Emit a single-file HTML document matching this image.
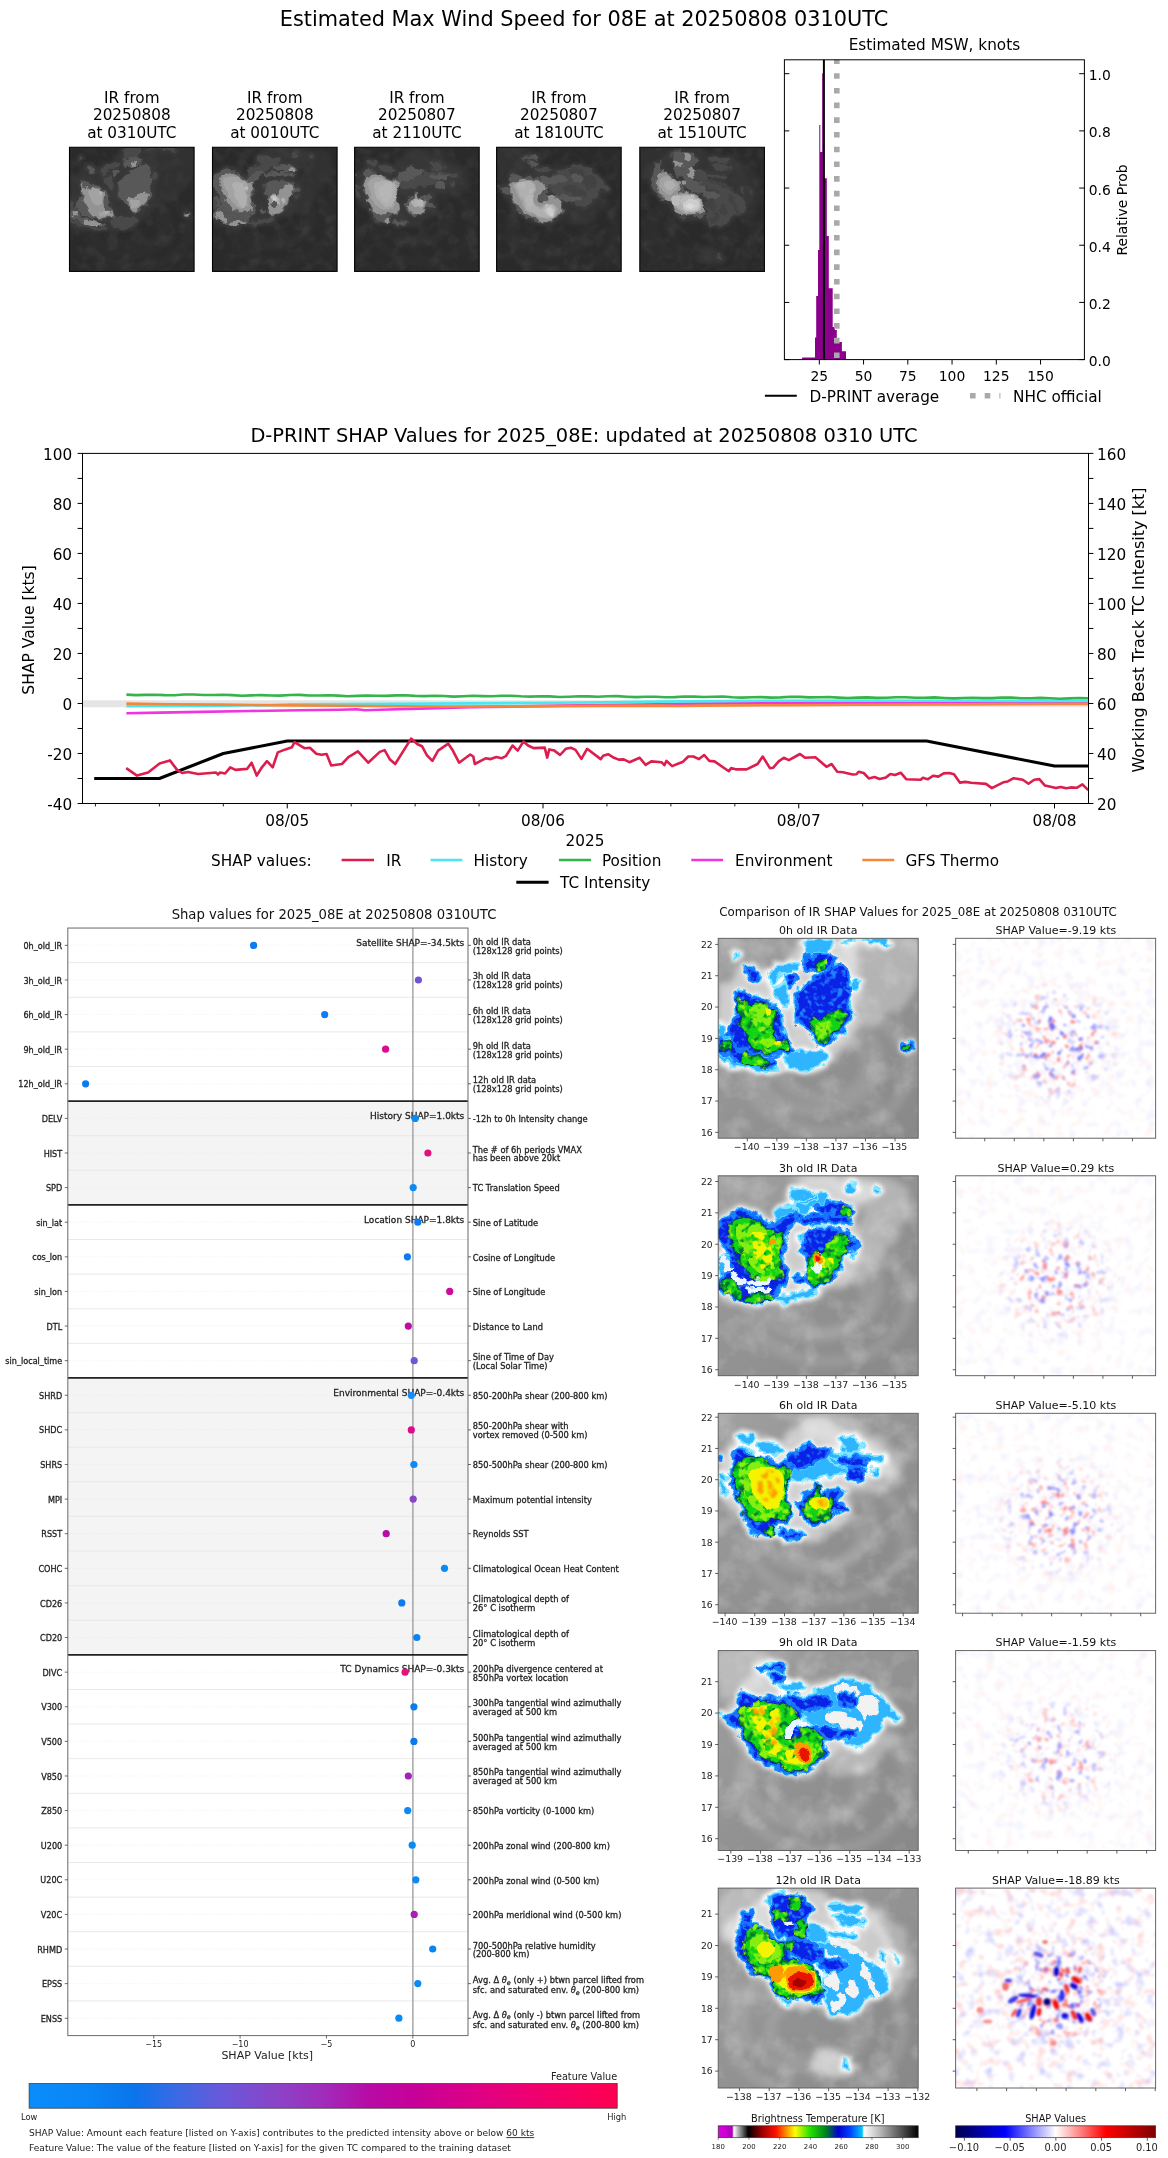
<!DOCTYPE html>
<html><head><meta charset="utf-8"><title>D-PRINT 08E</title>
<style>html,body{margin:0;padding:0;background:#fff}svg{display:block;will-change:transform}text{font-family:'DejaVu Sans','Liberation Sans',sans-serif}</style></head>
<body><svg width="1168" height="2158" viewBox="0 0 1168 2158">
<defs>
<linearGradient id="rbgrad" x1="0" x2="1" y1="0" y2="0">
<stop offset="0" stop-color="#0a8dfb"/><stop offset="0.10" stop-color="#0a85f5"/><stop offset="0.18" stop-color="#0b74ec"/>
<stop offset="0.25" stop-color="#3a6ae4"/><stop offset="0.33" stop-color="#6a58da"/><stop offset="0.42" stop-color="#8a44c8"/>
<stop offset="0.50" stop-color="#a02cba"/><stop offset="0.58" stop-color="#b80aa5"/><stop offset="0.66" stop-color="#c80098"/>
<stop offset="0.75" stop-color="#dc0087"/><stop offset="0.85" stop-color="#ee0070"/><stop offset="1" stop-color="#ff0052"/>
</linearGradient>
<clipPath id="clip200"><rect width="200" height="200"/></clipPath>
<linearGradient id="irbg" x1="0" y1="0" x2="1" y2="1"><stop offset="0" stop-color="#a0a0a0"/><stop offset="0.5" stop-color="#929292"/><stop offset="1" stop-color="#888888"/></linearGradient>
<filter id="tex" x="0" y="0" width="100%" height="100%" color-interpolation-filters="sRGB"><feTurbulence type="fractalNoise" baseFrequency="0.035" numOctaves="4" seed="5"/><feColorMatrix type="matrix" values="0 0 0 0 1  0 0 0 0 1  0 0 0 0 1  2.6 0 0 0 -1.15"/></filter>
<filter id="texg" x="0" y="0" width="100%" height="100%" color-interpolation-filters="sRGB"><feTurbulence type="fractalNoise" baseFrequency="0.05" numOctaves="4" seed="9"/><feColorMatrix type="matrix" values="0 0 0 0 0.32  0 0 0 0 0.32  0 0 0 0 0.32  2.6 0 0 0 -1.15"/></filter>
<filter id="edgeF" x="-10%" y="-10%" width="120%" height="120%" color-interpolation-filters="sRGB"><feTurbulence type="fractalNoise" baseFrequency="0.11" numOctaves="2" seed="3" result="n"/><feDisplacementMap in="SourceGraphic" in2="n" scale="11" xChannelSelector="R" yChannelSelector="G"/><feGaussianBlur stdDeviation="2.2"/></filter>
<filter id="roughb" x="-10%" y="-10%" width="120%" height="120%" color-interpolation-filters="sRGB"><feTurbulence type="fractalNoise" baseFrequency="0.11" numOctaves="2" seed="3" result="n"/><feDisplacementMap in="SourceGraphic" in2="n" scale="11" xChannelSelector="R" yChannelSelector="G"/><feGaussianBlur stdDeviation="0.9"/></filter>
<filter id="rough2b" x="-10%" y="-10%" width="120%" height="120%" color-interpolation-filters="sRGB"><feTurbulence type="fractalNoise" baseFrequency="0.09" numOctaves="2" seed="11" result="n"/><feDisplacementMap in="SourceGraphic" in2="n" scale="7" xChannelSelector="R" yChannelSelector="G"/><feGaussianBlur stdDeviation="1.2"/></filter>
<filter id="blurS" x="-20%" y="-20%" width="140%" height="140%"><feGaussianBlur stdDeviation="0.9"/></filter>
<filter id="blur3" x="-20%" y="-20%" width="140%" height="140%"><feGaussianBlur stdDeviation="3"/></filter>
<filter id="haloF" x="-10%" y="-10%" width="120%" height="120%" color-interpolation-filters="sRGB"><feTurbulence type="fractalNoise" baseFrequency="0.05" numOctaves="2" seed="7" result="n"/><feDisplacementMap in="SourceGraphic" in2="n" scale="14" xChannelSelector="R" yChannelSelector="G"/><feGaussianBlur stdDeviation="3.5"/></filter>
<filter id="rough" x="-10%" y="-10%" width="120%" height="120%" color-interpolation-filters="sRGB"><feTurbulence type="fractalNoise" baseFrequency="0.11" numOctaves="2" seed="3" result="n"/><feDisplacementMap in="SourceGraphic" in2="n" scale="11" xChannelSelector="R" yChannelSelector="G"/></filter>
<filter id="roughB" x="-10%" y="-10%" width="120%" height="120%" color-interpolation-filters="sRGB"><feTurbulence type="fractalNoise" baseFrequency="0.11" numOctaves="2" seed="3" result="n"/><feDisplacementMap in="SourceGraphic" in2="n" scale="11" xChannelSelector="R" yChannelSelector="G" result="d"/><feTurbulence type="fractalNoise" baseFrequency="0.16" numOctaves="2" seed="21"/><feColorMatrix type="matrix" values="0 0 0 0 0.12  0 0 0 0 0.5  0 0 0 0 1  5 0 0 0 -2.55" result="sp"/><feComposite in="sp" in2="d" operator="in" result="sp2"/><feMerge><feMergeNode in="d"/><feMergeNode in="sp2"/></feMerge></filter>
<filter id="roughG" x="-10%" y="-10%" width="120%" height="120%" color-interpolation-filters="sRGB"><feTurbulence type="fractalNoise" baseFrequency="0.11" numOctaves="2" seed="3" result="n"/><feDisplacementMap in="SourceGraphic" in2="n" scale="11" xChannelSelector="R" yChannelSelector="G" result="d"/><feTurbulence type="fractalNoise" baseFrequency="0.14" numOctaves="2" seed="33" result="t"/><feColorMatrix in="t" type="matrix" values="0 0 0 0 0.55  0 0 0 0 0.95  0 0 0 0 0.05  5 0 0 0 -2.5" result="sp"/><feColorMatrix in="t" type="matrix" values="0 0 0 0 0  0 0 0 0 0.45  0 0 0 0 0.2  0 5 0 0 -2.75" result="dk"/><feComposite in="sp" in2="d" operator="in" result="sp2"/><feComposite in="dk" in2="d" operator="in" result="dk2"/><feMerge><feMergeNode in="d"/><feMergeNode in="sp2"/><feMergeNode in="dk2"/></feMerge></filter>
<filter id="roughO" x="-10%" y="-10%" width="120%" height="120%" color-interpolation-filters="sRGB"><feTurbulence type="fractalNoise" baseFrequency="0.09" numOctaves="2" seed="11" result="n"/><feDisplacementMap in="SourceGraphic" in2="n" scale="7" xChannelSelector="R" yChannelSelector="G" result="d"/><feTurbulence type="fractalNoise" baseFrequency="0.2" numOctaves="2" seed="41"/><feColorMatrix type="matrix" values="0 0 0 0 1  0 0 0 0 1  0 0 0 0 1  9 0 0 0 -4.1" result="m"/><feComposite in="d" in2="m" operator="in"/><feGaussianBlur stdDeviation="0.8"/></filter>
<filter id="roughY" x="-10%" y="-10%" width="120%" height="120%" color-interpolation-filters="sRGB"><feTurbulence type="fractalNoise" baseFrequency="0.09" numOctaves="2" seed="11" result="n"/><feDisplacementMap in="SourceGraphic" in2="n" scale="7" xChannelSelector="R" yChannelSelector="G" result="d"/><feTurbulence type="fractalNoise" baseFrequency="0.13" numOctaves="2" seed="57"/><feColorMatrix type="matrix" values="0 0 0 0 1  0 0 0 0 1  0 0 0 0 1  8 0 0 0 -3.1" result="m"/><feComposite in="d" in2="m" operator="in"/><feGaussianBlur stdDeviation="0.6"/></filter>
<filter id="rough2" x="-10%" y="-10%" width="120%" height="120%" color-interpolation-filters="sRGB"><feTurbulence type="fractalNoise" baseFrequency="0.09" numOctaves="2" seed="11" result="n"/><feDisplacementMap in="SourceGraphic" in2="n" scale="7" xChannelSelector="R" yChannelSelector="G"/><feGaussianBlur stdDeviation="0.7"/></filter>
<linearGradient id="btgrad" x1="0" x2="1" y1="0" y2="0">
<stop offset="0" stop-color="#e000e0"/><stop offset="0.07" stop-color="#b000c0"/><stop offset="0.078" stop-color="#ffffff"/><stop offset="0.15" stop-color="#000000"/>
<stop offset="0.22" stop-color="#a00000"/><stop offset="0.29" stop-color="#ff1000"/><stop offset="0.34" stop-color="#ff9000"/><stop offset="0.385" stop-color="#ffff00"/>
<stop offset="0.46" stop-color="#20e000"/><stop offset="0.54" stop-color="#008020"/><stop offset="0.60" stop-color="#0000d0"/><stop offset="0.66" stop-color="#0040ff"/><stop offset="0.72" stop-color="#00c8ff"/>
<stop offset="0.728" stop-color="#ffffff"/><stop offset="0.80" stop-color="#c0c0c0"/><stop offset="1" stop-color="#000000"/></linearGradient>
<linearGradient id="segrad" x1="0" x2="1" y1="0" y2="0">
<stop offset="0" stop-color="#00004c"/><stop offset="0.25" stop-color="#0000ff"/><stop offset="0.5" stop-color="#ffffff"/><stop offset="0.75" stop-color="#ff0000"/><stop offset="1" stop-color="#800000"/></linearGradient>
<radialGradient id="shmaskg" cx="0.51" cy="0.52" r="0.36"><stop offset="0" stop-color="#fff"/><stop offset="0.4" stop-color="#fff" stop-opacity="0.85"/><stop offset="0.7" stop-color="#fff" stop-opacity="0.3"/><stop offset="0.9" stop-color="#fff" stop-opacity="0.06"/><stop offset="1" stop-color="#fff" stop-opacity="0"/></radialGradient>
<mask id="shmask" maskUnits="userSpaceOnUse" x="0" y="0" width="200" height="200"><rect width="200" height="200" fill="url(#shmaskg)"/></mask>

<filter id="sf0r" x="0" y="0" width="100%" height="100%" color-interpolation-filters="sRGB"><feTurbulence type="fractalNoise" baseFrequency="0.1" numOctaves="2" seed="1"/><feColorMatrix type="matrix" values="0 0 0 0 1  0 0 0 0 0.12  0 0 0 0 0.12  3.0 0 0 0 -1.650"/><feGaussianBlur stdDeviation="0.8"/></filter>
<filter id="sf0b" x="0" y="0" width="100%" height="100%" color-interpolation-filters="sRGB"><feTurbulence type="fractalNoise" baseFrequency="0.1" numOctaves="2" seed="51"/><feColorMatrix type="matrix" values="0 0 0 0 0.1  0 0 0 0 0.1  0 0 0 0 1  3.0 0 0 0 -1.650"/><feGaussianBlur stdDeviation="0.8"/></filter>
<filter id="sg0r" x="0" y="0" width="100%" height="100%" color-interpolation-filters="sRGB"><feTurbulence type="fractalNoise" baseFrequency="0.14" numOctaves="2" seed="21"/><feColorMatrix type="matrix" values="0 0 0 0 1  0 0 0 0 0.12  0 0 0 0 0.12  5.5 0 0 0 -3.217"/><feGaussianBlur stdDeviation="0.8"/></filter>
<filter id="sg0b" x="0" y="0" width="100%" height="100%" color-interpolation-filters="sRGB"><feTurbulence type="fractalNoise" baseFrequency="0.14" numOctaves="2" seed="71"/><feColorMatrix type="matrix" values="0 0 0 0 0.1  0 0 0 0 0.1  0 0 0 0 1  5.5 0 0 0 -3.217"/><feGaussianBlur stdDeviation="0.8"/></filter>
<filter id="sf1r" x="0" y="0" width="100%" height="100%" color-interpolation-filters="sRGB"><feTurbulence type="fractalNoise" baseFrequency="0.1" numOctaves="2" seed="2"/><feColorMatrix type="matrix" values="0 0 0 0 1  0 0 0 0 0.12  0 0 0 0 0.12  3.0 0 0 0 -1.650"/><feGaussianBlur stdDeviation="0.8"/></filter>
<filter id="sf1b" x="0" y="0" width="100%" height="100%" color-interpolation-filters="sRGB"><feTurbulence type="fractalNoise" baseFrequency="0.1" numOctaves="2" seed="52"/><feColorMatrix type="matrix" values="0 0 0 0 0.1  0 0 0 0 0.1  0 0 0 0 1  3.0 0 0 0 -1.650"/><feGaussianBlur stdDeviation="0.8"/></filter>
<filter id="sg1r" x="0" y="0" width="100%" height="100%" color-interpolation-filters="sRGB"><feTurbulence type="fractalNoise" baseFrequency="0.14" numOctaves="2" seed="22"/><feColorMatrix type="matrix" values="0 0 0 0 1  0 0 0 0 0.12  0 0 0 0 0.12  5.5 0 0 0 -3.217"/><feGaussianBlur stdDeviation="0.8"/></filter>
<filter id="sg1b" x="0" y="0" width="100%" height="100%" color-interpolation-filters="sRGB"><feTurbulence type="fractalNoise" baseFrequency="0.14" numOctaves="2" seed="72"/><feColorMatrix type="matrix" values="0 0 0 0 0.1  0 0 0 0 0.1  0 0 0 0 1  5.5 0 0 0 -3.217"/><feGaussianBlur stdDeviation="0.8"/></filter>
<filter id="sf2r" x="0" y="0" width="100%" height="100%" color-interpolation-filters="sRGB"><feTurbulence type="fractalNoise" baseFrequency="0.1" numOctaves="2" seed="3"/><feColorMatrix type="matrix" values="0 0 0 0 1  0 0 0 0 0.12  0 0 0 0 0.12  3.0 0 0 0 -1.650"/><feGaussianBlur stdDeviation="0.8"/></filter>
<filter id="sf2b" x="0" y="0" width="100%" height="100%" color-interpolation-filters="sRGB"><feTurbulence type="fractalNoise" baseFrequency="0.1" numOctaves="2" seed="53"/><feColorMatrix type="matrix" values="0 0 0 0 0.1  0 0 0 0 0.1  0 0 0 0 1  3.0 0 0 0 -1.650"/><feGaussianBlur stdDeviation="0.8"/></filter>
<filter id="sg2r" x="0" y="0" width="100%" height="100%" color-interpolation-filters="sRGB"><feTurbulence type="fractalNoise" baseFrequency="0.14" numOctaves="2" seed="23"/><feColorMatrix type="matrix" values="0 0 0 0 1  0 0 0 0 0.12  0 0 0 0 0.12  5.5 0 0 0 -3.217"/><feGaussianBlur stdDeviation="0.8"/></filter>
<filter id="sg2b" x="0" y="0" width="100%" height="100%" color-interpolation-filters="sRGB"><feTurbulence type="fractalNoise" baseFrequency="0.14" numOctaves="2" seed="73"/><feColorMatrix type="matrix" values="0 0 0 0 0.1  0 0 0 0 0.1  0 0 0 0 1  5.5 0 0 0 -3.217"/><feGaussianBlur stdDeviation="0.8"/></filter>
<filter id="sf3r" x="0" y="0" width="100%" height="100%" color-interpolation-filters="sRGB"><feTurbulence type="fractalNoise" baseFrequency="0.1" numOctaves="2" seed="4"/><feColorMatrix type="matrix" values="0 0 0 0 1  0 0 0 0 0.12  0 0 0 0 0.12  3.0 0 0 0 -1.650"/><feGaussianBlur stdDeviation="0.8"/></filter>
<filter id="sf3b" x="0" y="0" width="100%" height="100%" color-interpolation-filters="sRGB"><feTurbulence type="fractalNoise" baseFrequency="0.1" numOctaves="2" seed="54"/><feColorMatrix type="matrix" values="0 0 0 0 0.1  0 0 0 0 0.1  0 0 0 0 1  3.0 0 0 0 -1.650"/><feGaussianBlur stdDeviation="0.8"/></filter>
<filter id="sg3r" x="0" y="0" width="100%" height="100%" color-interpolation-filters="sRGB"><feTurbulence type="fractalNoise" baseFrequency="0.14" numOctaves="2" seed="24"/><feColorMatrix type="matrix" values="0 0 0 0 1  0 0 0 0 0.12  0 0 0 0 0.12  5.5 0 0 0 -3.217"/><feGaussianBlur stdDeviation="0.8"/></filter>
<filter id="sg3b" x="0" y="0" width="100%" height="100%" color-interpolation-filters="sRGB"><feTurbulence type="fractalNoise" baseFrequency="0.14" numOctaves="2" seed="74"/><feColorMatrix type="matrix" values="0 0 0 0 0.1  0 0 0 0 0.1  0 0 0 0 1  5.5 0 0 0 -3.217"/><feGaussianBlur stdDeviation="0.8"/></filter>
<filter id="sf4r" x="0" y="0" width="100%" height="100%" color-interpolation-filters="sRGB"><feTurbulence type="fractalNoise" baseFrequency="0.1" numOctaves="2" seed="5"/><feColorMatrix type="matrix" values="0 0 0 0 1  0 0 0 0 0.12  0 0 0 0 0.12  3.0 0 0 0 -1.650"/><feGaussianBlur stdDeviation="0.8"/></filter>
<filter id="sf4b" x="0" y="0" width="100%" height="100%" color-interpolation-filters="sRGB"><feTurbulence type="fractalNoise" baseFrequency="0.1" numOctaves="2" seed="55"/><feColorMatrix type="matrix" values="0 0 0 0 0.1  0 0 0 0 0.1  0 0 0 0 1  3.0 0 0 0 -1.650"/><feGaussianBlur stdDeviation="0.8"/></filter>
<filter id="sg4r" x="0" y="0" width="100%" height="100%" color-interpolation-filters="sRGB"><feTurbulence type="fractalNoise" baseFrequency="0.14" numOctaves="2" seed="25"/><feColorMatrix type="matrix" values="0 0 0 0 1  0 0 0 0 0.12  0 0 0 0 0.12  5.5 0 0 0 -3.217"/><feGaussianBlur stdDeviation="0.8"/></filter>
<filter id="sg4b" x="0" y="0" width="100%" height="100%" color-interpolation-filters="sRGB"><feTurbulence type="fractalNoise" baseFrequency="0.14" numOctaves="2" seed="75"/><feColorMatrix type="matrix" values="0 0 0 0 0.1  0 0 0 0 0.1  0 0 0 0 1  5.5 0 0 0 -3.217"/><feGaussianBlur stdDeviation="0.8"/></filter>
<filter id="tex0" x="0" y="0" width="100%" height="100%" color-interpolation-filters="sRGB"><feTurbulence type="fractalNoise" baseFrequency="0.04" numOctaves="4" seed="5"/><feColorMatrix type="matrix" values="0 0 0 0 1  0 0 0 0 1  0 0 0 0 1  2.6 0 0 0 -1.15"/></filter>
<filter id="texg0" x="0" y="0" width="100%" height="100%" color-interpolation-filters="sRGB"><feTurbulence type="fractalNoise" baseFrequency="0.05" numOctaves="4" seed="9"/><feColorMatrix type="matrix" values="0 0 0 0 0.32  0 0 0 0 0.32  0 0 0 0 0.32  2.6 0 0 0 -1.15"/></filter>
<g id="scene0c" clip-path="url(#clip200)">
<rect width="200" height="200" fill="url(#irbg)"/>
<rect width="200" height="200" filter="url(#tex0)" opacity="0.2"/>
<ellipse cx="97.7" cy="123.8" rx="62.2" ry="49.0" fill="none" stroke="#fff" stroke-opacity="0.1" stroke-width="12" filter="url(#blur3)"/>
<ellipse cx="105.2" cy="127.6" rx="43.3" ry="32.0" fill="none" stroke="#fff" stroke-opacity="0.1" stroke-width="12" filter="url(#blur3)"/>
<ellipse cx="109.0" cy="131.4" rx="81.0" ry="62.2" fill="none" stroke="#fff" stroke-opacity="0.1" stroke-width="12" filter="url(#blur3)"/>
<path d="M0.7,54.2C3.0,40.7 9.9,44.1 14.8,39.1C19.7,34.1 24.2,25.0 29.9,24.0C35.5,23.1 42.4,33.1 48.7,33.4C55.0,33.7 61.9,30.9 67.5,25.9C73.2,20.9 73.2,7.5 82.6,3.3C92.0,-0.9 110.9,0.9 124.1,0.5C137.2,0.0 153.6,-0.6 161.7,0.5C169.9,1.6 176.2,5.0 173.0,7.1C169.9,9.1 149.2,8.9 142.9,12.7C136.6,16.5 135.4,23.7 135.4,29.7C135.4,35.6 142.9,41.6 142.9,48.5C142.9,55.4 136.0,64.2 135.4,71.1C134.7,78.0 141.0,83.7 139.1,89.9C137.2,96.2 128.4,103.1 124.1,108.8C119.7,114.4 119.0,119.5 112.8,123.8C106.5,128.2 97.1,133.9 86.4,135.1C75.7,136.4 59.7,132.6 48.7,131.4C37.7,130.1 28.5,129.5 20.5,127.6C12.5,125.7 4.0,132.3 0.7,120.1C-2.6,107.8 -1.7,67.7 0.7,54.2Z" fill="#f4f4f4" filter="url(#haloF)" opacity="0.58"/>
<path d="M124.1,0.5C135.4,-11.3 186.8,-7.5 199.4,0.5C212.0,8.5 204.1,35.8 199.4,48.5C194.7,61.2 180.6,69.8 171.1,76.8C161.7,83.7 149.5,90.9 142.9,89.9C136.3,89.0 134.7,86.0 131.6,71.1C128.4,56.2 112.8,12.2 124.1,0.5Z" fill="#f4f4f4" filter="url(#haloF)" opacity="0.34"/>
<path d="M86.4,3.3C87.6,0.8 93.3,1.1 97.7,1.4C102.1,1.7 110.9,2.7 112.8,5.2C114.6,7.7 111.5,13.7 109.0,16.5C106.5,19.3 100.8,22.1 97.7,22.1C94.5,22.1 92.0,19.6 90.1,16.5C88.3,13.3 85.1,5.8 86.4,3.3Z M124.1,3.3C124.7,2.5 134.1,0.9 135.4,1.4C136.6,1.9 133.5,5.8 131.6,6.1C129.7,6.4 123.4,4.1 124.1,3.3Z M142.9,1.4C143.8,0.6 157.0,-0.5 161.7,0.5C166.4,1.4 172.1,6.3 171.1,7.1C170.2,7.8 160.8,6.1 156.1,5.2C151.4,4.2 141.9,2.2 142.9,1.4Z M67.5,116.3C69.7,113.8 75.7,112.9 82.6,112.5C89.5,112.2 104.9,112.5 109.0,114.4C113.1,116.3 109.6,121.3 107.1,123.8C104.6,126.4 98.0,128.1 93.9,129.5C89.8,130.9 86.7,132.6 82.6,132.3C78.5,132.0 71.9,130.3 69.4,127.6C66.9,124.9 65.3,118.8 67.5,116.3Z M0.7,85.2C1.9,84.3 5.7,89.6 8.2,92.8C10.7,95.9 15.3,101.7 15.7,104.1C16.2,106.5 13.5,108.2 11.0,107.3C8.5,106.3 2.4,102.1 0.7,98.4C-1.0,94.7 -0.6,86.2 0.7,85.2Z M2.6,114.4C6.0,115.3 13.1,121.3 22.3,123.8C31.6,126.4 52.3,128.4 58.1,129.9C63.9,131.4 63.5,133.0 57.2,132.9C50.9,132.8 29.7,131.5 20.5,129.1C11.2,126.7 4.6,121.0 1.6,118.6C-1.4,116.1 -0.9,113.5 2.6,114.4Z M48.7,37.2C50.1,34.1 58.4,29.0 63.8,26.8C69.1,24.6 78.5,23.2 80.7,24.0C82.9,24.9 79.8,30.1 77.0,31.9C74.1,33.7 67.4,32.6 63.8,34.9C60.2,37.2 57.8,45.3 55.3,45.7C52.8,46.1 47.3,40.3 48.7,37.2Z M55.3,48.5C56.6,46.6 62.7,44.5 65.3,47.0C67.9,49.4 70.9,59.8 70.9,63.2C70.9,66.6 67.5,68.2 65.3,67.3C63.1,66.5 59.4,61.4 57.8,58.3C56.1,55.2 54.0,50.4 55.3,48.5Z M16.3,15.0C16.5,14.3 19.3,15.5 19.7,16.5C20.1,17.4 19.1,20.9 18.6,20.6C18.0,20.4 16.1,15.7 16.3,15.0Z M131.6,44.7C133.0,43.6 139.8,41.9 141.0,42.9C142.3,43.8 140.5,49.3 139.1,50.4C137.7,51.5 133.8,50.4 132.5,49.4C131.3,48.5 130.2,45.8 131.6,44.7Z M16.7,54.2C18.6,52.3 24.5,54.5 29.9,56.0C35.2,57.6 44.0,61.1 48.7,63.6C53.4,66.1 55.8,67.3 58.1,71.1C60.5,74.9 61.9,81.8 62.8,86.2C63.8,90.6 62.4,93.7 63.8,97.5C65.2,101.2 69.3,106.3 71.3,108.8C73.4,111.3 77.3,111.5 76.0,112.5C74.8,113.5 68.3,114.1 63.8,114.8C59.2,115.5 54.4,116.9 48.7,116.7C43.1,116.5 35.4,115.3 29.9,113.5C24.4,111.7 19.0,109.1 15.7,106.0C12.5,102.8 10.3,98.3 10.1,94.7C9.9,91.0 13.4,88.8 14.8,84.3C16.2,79.7 18.3,72.4 18.6,67.3C18.9,62.3 14.8,56.0 16.7,54.2Z M0.7,100.3C2.4,99.6 7.4,103.0 11.0,105.0C14.6,107.1 17.9,110.4 22.3,112.5C26.7,114.7 32.1,116.2 37.4,117.8C42.7,119.5 51.3,120.6 54.4,122.3C57.4,124.0 58.7,127.6 55.9,128.0C53.0,128.4 43.3,125.9 37.4,125.0C31.5,124.1 25.8,124.5 20.5,122.7C15.1,120.9 8.7,116.3 5.4,114.1C2.1,111.8 1.5,111.4 0.7,109.2C-0.1,106.9 -1.0,101.0 0.7,100.3Z M80.7,54.2C83.9,48.8 92.3,43.2 97.7,39.1C103.0,35.0 108.4,31.4 112.8,29.7C117.1,27.9 121.4,27.5 124.1,28.7C126.7,30.0 127.8,33.9 128.8,37.2C129.7,40.5 129.2,41.9 129.7,48.5C130.2,55.1 132.5,69.5 131.6,76.8C130.6,84.0 127.8,87.4 124.1,91.8C120.3,96.2 112.9,100.8 109.0,103.1C105.1,105.5 103.0,107.5 100.5,106.0C98.0,104.4 96.9,97.0 93.9,93.7C90.9,90.4 85.1,89.9 82.6,86.2C80.1,82.4 79.2,76.4 78.8,71.1C78.5,65.8 77.6,59.5 80.7,54.2Z M28.0,27.8C29.4,27.5 35.4,29.5 37.4,31.6C39.4,33.6 40.7,38.5 40.2,40.0C39.8,41.6 36.5,42.1 34.6,41.0C32.7,39.9 30.0,35.6 28.9,33.4C27.8,31.2 26.6,28.1 28.0,27.8Z M65.7,39.1C66.6,37.4 73.0,36.4 75.1,37.2C77.1,38.0 78.8,42.1 77.9,43.8C77.0,45.5 71.5,48.3 69.4,47.6C67.4,46.8 64.7,40.8 65.7,39.1Z M86.4,22.1C87.0,19.6 89.5,17.4 93.9,16.5C98.3,15.5 109.3,14.9 112.8,16.5C116.2,18.1 115.9,23.7 114.6,25.9C113.4,28.1 109.3,28.7 105.2,29.7C101.1,30.6 93.3,32.8 90.1,31.6C87.0,30.3 85.8,24.6 86.4,22.1Z M193.7,109.2C193.7,110.3 193.2,111.7 192.4,112.5C191.6,113.3 190.1,113.9 189.0,113.9C187.9,113.9 186.5,113.3 185.7,112.5C184.9,111.7 184.3,110.3 184.3,109.2C184.3,108.0 184.9,106.6 185.7,105.8C186.5,105.0 187.9,104.4 189.0,104.4C190.1,104.4 191.6,105.0 192.4,105.8C193.2,106.6 193.7,108.0 193.7,109.2Z M20.5,61.7C22.3,60.4 27.4,64.8 31.8,65.5C36.2,66.1 42.9,64.2 46.8,65.5C50.8,66.7 54.0,68.9 55.3,73.0C56.6,77.1 53.9,85.5 54.4,89.9C54.8,94.3 55.6,96.4 58.1,99.4C60.6,102.3 70.1,105.5 69.4,107.8C68.8,110.2 59.7,112.7 54.4,113.5C49.0,114.3 41.5,114.6 37.4,112.5C33.3,110.5 32.4,105.6 29.9,101.2C27.4,96.8 23.9,90.9 22.3,86.2C20.8,81.5 20.8,77.1 20.5,73.0C20.1,68.9 18.6,62.9 20.5,61.7Z M23.3,117.3C24.9,116.2 31.3,117.3 35.5,118.2C39.8,119.1 46.8,121.5 48.7,122.9C50.6,124.3 50.6,126.4 46.8,126.7C43.1,127.0 30.0,126.4 26.1,124.8C22.2,123.2 21.7,118.4 23.3,117.3Z M3.5,103.1C4.4,102.5 9.5,103.4 11.0,105.0C12.6,106.6 13.9,111.9 12.9,112.5C12.0,113.2 7.0,110.3 5.4,108.8C3.8,107.2 2.6,103.8 3.5,103.1Z M93.9,80.5C95.5,79.0 101.8,83.3 105.2,82.4C108.7,81.5 111.3,76.4 114.6,74.9C117.9,73.3 123.4,71.1 125.0,73.0C126.6,74.9 126.1,82.1 124.1,86.2C122.0,90.3 116.7,94.8 112.8,97.5C108.8,100.1 103.3,103.1 100.5,102.2C97.7,101.2 96.9,95.4 95.8,91.8C94.7,88.2 92.3,82.1 93.9,80.5Z M97.7,24.0C99.1,22.9 105.8,21.5 107.1,22.1C108.4,22.8 106.6,26.7 105.2,27.8C103.8,28.9 99.9,29.4 98.6,28.7C97.4,28.1 96.3,25.1 97.7,24.0Z M191.9,109.2C191.9,109.8 191.5,110.7 191.0,111.2C190.6,111.6 189.7,112.0 189.0,112.0C188.4,112.0 187.5,111.6 187.0,111.2C186.6,110.7 186.2,109.8 186.2,109.2C186.2,108.5 186.6,107.6 187.0,107.2C187.5,106.7 188.4,106.3 189.0,106.3C189.7,106.3 190.6,106.7 191.0,107.2C191.5,107.6 191.9,108.5 191.9,109.2Z" fill="#ffffff" stroke="#ffffff" stroke-width="6.5" stroke-linejoin="round" filter="url(#edgeF)" opacity="0.95"/>
<g filter="url(#rough)"><path d="M86.4,3.3C87.6,0.8 93.3,1.1 97.7,1.4C102.1,1.7 110.9,2.7 112.8,5.2C114.6,7.7 111.5,13.7 109.0,16.5C106.5,19.3 100.8,22.1 97.7,22.1C94.5,22.1 92.0,19.6 90.1,16.5C88.3,13.3 85.1,5.8 86.4,3.3Z M124.1,3.3C124.7,2.5 134.1,0.9 135.4,1.4C136.6,1.9 133.5,5.8 131.6,6.1C129.7,6.4 123.4,4.1 124.1,3.3Z M142.9,1.4C143.8,0.6 157.0,-0.5 161.7,0.5C166.4,1.4 172.1,6.3 171.1,7.1C170.2,7.8 160.8,6.1 156.1,5.2C151.4,4.2 141.9,2.2 142.9,1.4Z M67.5,116.3C69.7,113.8 75.7,112.9 82.6,112.5C89.5,112.2 104.9,112.5 109.0,114.4C113.1,116.3 109.6,121.3 107.1,123.8C104.6,126.4 98.0,128.1 93.9,129.5C89.8,130.9 86.7,132.6 82.6,132.3C78.5,132.0 71.9,130.3 69.4,127.6C66.9,124.9 65.3,118.8 67.5,116.3Z M0.7,85.2C1.9,84.3 5.7,89.6 8.2,92.8C10.7,95.9 15.3,101.7 15.7,104.1C16.2,106.5 13.5,108.2 11.0,107.3C8.5,106.3 2.4,102.1 0.7,98.4C-1.0,94.7 -0.6,86.2 0.7,85.2Z M2.6,114.4C6.0,115.3 13.1,121.3 22.3,123.8C31.6,126.4 52.3,128.4 58.1,129.9C63.9,131.4 63.5,133.0 57.2,132.9C50.9,132.8 29.7,131.5 20.5,129.1C11.2,126.7 4.6,121.0 1.6,118.6C-1.4,116.1 -0.9,113.5 2.6,114.4Z M48.7,37.2C50.1,34.1 58.4,29.0 63.8,26.8C69.1,24.6 78.5,23.2 80.7,24.0C82.9,24.9 79.8,30.1 77.0,31.9C74.1,33.7 67.4,32.6 63.8,34.9C60.2,37.2 57.8,45.3 55.3,45.7C52.8,46.1 47.3,40.3 48.7,37.2Z M55.3,48.5C56.6,46.6 62.7,44.5 65.3,47.0C67.9,49.4 70.9,59.8 70.9,63.2C70.9,66.6 67.5,68.2 65.3,67.3C63.1,66.5 59.4,61.4 57.8,58.3C56.1,55.2 54.0,50.4 55.3,48.5Z M16.3,15.0C16.5,14.3 19.3,15.5 19.7,16.5C20.1,17.4 19.1,20.9 18.6,20.6C18.0,20.4 16.1,15.7 16.3,15.0Z M131.6,44.7C133.0,43.6 139.8,41.9 141.0,42.9C142.3,43.8 140.5,49.3 139.1,50.4C137.7,51.5 133.8,50.4 132.5,49.4C131.3,48.5 130.2,45.8 131.6,44.7Z" fill="#2fb4ff" stroke="#7fe4ff" stroke-width="2"/></g>
<g filter="url(#roughB)"><path d="M16.7,54.2C18.6,52.3 24.5,54.5 29.9,56.0C35.2,57.6 44.0,61.1 48.7,63.6C53.4,66.1 55.8,67.3 58.1,71.1C60.5,74.9 61.9,81.8 62.8,86.2C63.8,90.6 62.4,93.7 63.8,97.5C65.2,101.2 69.3,106.3 71.3,108.8C73.4,111.3 77.3,111.5 76.0,112.5C74.8,113.5 68.3,114.1 63.8,114.8C59.2,115.5 54.4,116.9 48.7,116.7C43.1,116.5 35.4,115.3 29.9,113.5C24.4,111.7 19.0,109.1 15.7,106.0C12.5,102.8 10.3,98.3 10.1,94.7C9.9,91.0 13.4,88.8 14.8,84.3C16.2,79.7 18.3,72.4 18.6,67.3C18.9,62.3 14.8,56.0 16.7,54.2Z M0.7,100.3C2.4,99.6 7.4,103.0 11.0,105.0C14.6,107.1 17.9,110.4 22.3,112.5C26.7,114.7 32.1,116.2 37.4,117.8C42.7,119.5 51.3,120.6 54.4,122.3C57.4,124.0 58.7,127.6 55.9,128.0C53.0,128.4 43.3,125.9 37.4,125.0C31.5,124.1 25.8,124.5 20.5,122.7C15.1,120.9 8.7,116.3 5.4,114.1C2.1,111.8 1.5,111.4 0.7,109.2C-0.1,106.9 -1.0,101.0 0.7,100.3Z M80.7,54.2C83.9,48.8 92.3,43.2 97.7,39.1C103.0,35.0 108.4,31.4 112.8,29.7C117.1,27.9 121.4,27.5 124.1,28.7C126.7,30.0 127.8,33.9 128.8,37.2C129.7,40.5 129.2,41.9 129.7,48.5C130.2,55.1 132.5,69.5 131.6,76.8C130.6,84.0 127.8,87.4 124.1,91.8C120.3,96.2 112.9,100.8 109.0,103.1C105.1,105.5 103.0,107.5 100.5,106.0C98.0,104.4 96.9,97.0 93.9,93.7C90.9,90.4 85.1,89.9 82.6,86.2C80.1,82.4 79.2,76.4 78.8,71.1C78.5,65.8 77.6,59.5 80.7,54.2Z M28.0,27.8C29.4,27.5 35.4,29.5 37.4,31.6C39.4,33.6 40.7,38.5 40.2,40.0C39.8,41.6 36.5,42.1 34.6,41.0C32.7,39.9 30.0,35.6 28.9,33.4C27.8,31.2 26.6,28.1 28.0,27.8Z M65.7,39.1C66.6,37.4 73.0,36.4 75.1,37.2C77.1,38.0 78.8,42.1 77.9,43.8C77.0,45.5 71.5,48.3 69.4,47.6C67.4,46.8 64.7,40.8 65.7,39.1Z M86.4,22.1C87.0,19.6 89.5,17.4 93.9,16.5C98.3,15.5 109.3,14.9 112.8,16.5C116.2,18.1 115.9,23.7 114.6,25.9C113.4,28.1 109.3,28.7 105.2,29.7C101.1,30.6 93.3,32.8 90.1,31.6C87.0,30.3 85.8,24.6 86.4,22.1Z M193.7,109.2C193.7,110.3 193.2,111.7 192.4,112.5C191.6,113.3 190.1,113.9 189.0,113.9C187.9,113.9 186.5,113.3 185.7,112.5C184.9,111.7 184.3,110.3 184.3,109.2C184.3,108.0 184.9,106.6 185.7,105.8C186.5,105.0 187.9,104.4 189.0,104.4C190.1,104.4 191.6,105.0 192.4,105.8C193.2,106.6 193.7,108.0 193.7,109.2Z" fill="#0a22e6" stroke="#52d0ff" stroke-width="5" stroke-linejoin="round"/><path d="M16.7,54.2C18.6,52.3 24.5,54.5 29.9,56.0C35.2,57.6 44.0,61.1 48.7,63.6C53.4,66.1 55.8,67.3 58.1,71.1C60.5,74.9 61.9,81.8 62.8,86.2C63.8,90.6 62.4,93.7 63.8,97.5C65.2,101.2 69.3,106.3 71.3,108.8C73.4,111.3 77.3,111.5 76.0,112.5C74.8,113.5 68.3,114.1 63.8,114.8C59.2,115.5 54.4,116.9 48.7,116.7C43.1,116.5 35.4,115.3 29.9,113.5C24.4,111.7 19.0,109.1 15.7,106.0C12.5,102.8 10.3,98.3 10.1,94.7C9.9,91.0 13.4,88.8 14.8,84.3C16.2,79.7 18.3,72.4 18.6,67.3C18.9,62.3 14.8,56.0 16.7,54.2Z M0.7,100.3C2.4,99.6 7.4,103.0 11.0,105.0C14.6,107.1 17.9,110.4 22.3,112.5C26.7,114.7 32.1,116.2 37.4,117.8C42.7,119.5 51.3,120.6 54.4,122.3C57.4,124.0 58.7,127.6 55.9,128.0C53.0,128.4 43.3,125.9 37.4,125.0C31.5,124.1 25.8,124.5 20.5,122.7C15.1,120.9 8.7,116.3 5.4,114.1C2.1,111.8 1.5,111.4 0.7,109.2C-0.1,106.9 -1.0,101.0 0.7,100.3Z M80.7,54.2C83.9,48.8 92.3,43.2 97.7,39.1C103.0,35.0 108.4,31.4 112.8,29.7C117.1,27.9 121.4,27.5 124.1,28.7C126.7,30.0 127.8,33.9 128.8,37.2C129.7,40.5 129.2,41.9 129.7,48.5C130.2,55.1 132.5,69.5 131.6,76.8C130.6,84.0 127.8,87.4 124.1,91.8C120.3,96.2 112.9,100.8 109.0,103.1C105.1,105.5 103.0,107.5 100.5,106.0C98.0,104.4 96.9,97.0 93.9,93.7C90.9,90.4 85.1,89.9 82.6,86.2C80.1,82.4 79.2,76.4 78.8,71.1C78.5,65.8 77.6,59.5 80.7,54.2Z M28.0,27.8C29.4,27.5 35.4,29.5 37.4,31.6C39.4,33.6 40.7,38.5 40.2,40.0C39.8,41.6 36.5,42.1 34.6,41.0C32.7,39.9 30.0,35.6 28.9,33.4C27.8,31.2 26.6,28.1 28.0,27.8Z M65.7,39.1C66.6,37.4 73.0,36.4 75.1,37.2C77.1,38.0 78.8,42.1 77.9,43.8C77.0,45.5 71.5,48.3 69.4,47.6C67.4,46.8 64.7,40.8 65.7,39.1Z M86.4,22.1C87.0,19.6 89.5,17.4 93.9,16.5C98.3,15.5 109.3,14.9 112.8,16.5C116.2,18.1 115.9,23.7 114.6,25.9C113.4,28.1 109.3,28.7 105.2,29.7C101.1,30.6 93.3,32.8 90.1,31.6C87.0,30.3 85.8,24.6 86.4,22.1Z M193.7,109.2C193.7,110.3 193.2,111.7 192.4,112.5C191.6,113.3 190.1,113.9 189.0,113.9C187.9,113.9 186.5,113.3 185.7,112.5C184.9,111.7 184.3,110.3 184.3,109.2C184.3,108.0 184.9,106.6 185.7,105.8C186.5,105.0 187.9,104.4 189.0,104.4C190.1,104.4 191.6,105.0 192.4,105.8C193.2,106.6 193.7,108.0 193.7,109.2Z" fill="#0a22e6" stroke="#1272ff" stroke-width="2.4" stroke-linejoin="round"/></g>
<g filter="url(#roughG)"><path d="M20.5,61.7C22.3,60.4 27.4,64.8 31.8,65.5C36.2,66.1 42.9,64.2 46.8,65.5C50.8,66.7 54.0,68.9 55.3,73.0C56.6,77.1 53.9,85.5 54.4,89.9C54.8,94.3 55.6,96.4 58.1,99.4C60.6,102.3 70.1,105.5 69.4,107.8C68.8,110.2 59.7,112.7 54.4,113.5C49.0,114.3 41.5,114.6 37.4,112.5C33.3,110.5 32.4,105.6 29.9,101.2C27.4,96.8 23.9,90.9 22.3,86.2C20.8,81.5 20.8,77.1 20.5,73.0C20.1,68.9 18.6,62.9 20.5,61.7Z M23.3,117.3C24.9,116.2 31.3,117.3 35.5,118.2C39.8,119.1 46.8,121.5 48.7,122.9C50.6,124.3 50.6,126.4 46.8,126.7C43.1,127.0 30.0,126.4 26.1,124.8C22.2,123.2 21.7,118.4 23.3,117.3Z M3.5,103.1C4.4,102.5 9.5,103.4 11.0,105.0C12.6,106.6 13.9,111.9 12.9,112.5C12.0,113.2 7.0,110.3 5.4,108.8C3.8,107.2 2.6,103.8 3.5,103.1Z M93.9,80.5C95.5,79.0 101.8,83.3 105.2,82.4C108.7,81.5 111.3,76.4 114.6,74.9C117.9,73.3 123.4,71.1 125.0,73.0C126.6,74.9 126.1,82.1 124.1,86.2C122.0,90.3 116.7,94.8 112.8,97.5C108.8,100.1 103.3,103.1 100.5,102.2C97.7,101.2 96.9,95.4 95.8,91.8C94.7,88.2 92.3,82.1 93.9,80.5Z M97.7,24.0C99.1,22.9 105.8,21.5 107.1,22.1C108.4,22.8 106.6,26.7 105.2,27.8C103.8,28.9 99.9,29.4 98.6,28.7C97.4,28.1 96.3,25.1 97.7,24.0Z M191.9,109.2C191.9,109.8 191.5,110.7 191.0,111.2C190.6,111.6 189.7,112.0 189.0,112.0C188.4,112.0 187.5,111.6 187.0,111.2C186.6,110.7 186.2,109.8 186.2,109.2C186.2,108.5 186.6,107.6 187.0,107.2C187.5,106.7 188.4,106.3 189.0,106.3C189.7,106.3 190.6,106.7 191.0,107.2C191.5,107.6 191.9,108.5 191.9,109.2Z" fill="#12d414" stroke="#04207a" stroke-width="2.6" stroke-linejoin="round"/><path d="M20.5,61.7C22.3,60.4 27.4,64.8 31.8,65.5C36.2,66.1 42.9,64.2 46.8,65.5C50.8,66.7 54.0,68.9 55.3,73.0C56.6,77.1 53.9,85.5 54.4,89.9C54.8,94.3 55.6,96.4 58.1,99.4C60.6,102.3 70.1,105.5 69.4,107.8C68.8,110.2 59.7,112.7 54.4,113.5C49.0,114.3 41.5,114.6 37.4,112.5C33.3,110.5 32.4,105.6 29.9,101.2C27.4,96.8 23.9,90.9 22.3,86.2C20.8,81.5 20.8,77.1 20.5,73.0C20.1,68.9 18.6,62.9 20.5,61.7Z M23.3,117.3C24.9,116.2 31.3,117.3 35.5,118.2C39.8,119.1 46.8,121.5 48.7,122.9C50.6,124.3 50.6,126.4 46.8,126.7C43.1,127.0 30.0,126.4 26.1,124.8C22.2,123.2 21.7,118.4 23.3,117.3Z M3.5,103.1C4.4,102.5 9.5,103.4 11.0,105.0C12.6,106.6 13.9,111.9 12.9,112.5C12.0,113.2 7.0,110.3 5.4,108.8C3.8,107.2 2.6,103.8 3.5,103.1Z M93.9,80.5C95.5,79.0 101.8,83.3 105.2,82.4C108.7,81.5 111.3,76.4 114.6,74.9C117.9,73.3 123.4,71.1 125.0,73.0C126.6,74.9 126.1,82.1 124.1,86.2C122.0,90.3 116.7,94.8 112.8,97.5C108.8,100.1 103.3,103.1 100.5,102.2C97.7,101.2 96.9,95.4 95.8,91.8C94.7,88.2 92.3,82.1 93.9,80.5Z M97.7,24.0C99.1,22.9 105.8,21.5 107.1,22.1C108.4,22.8 106.6,26.7 105.2,27.8C103.8,28.9 99.9,29.4 98.6,28.7C97.4,28.1 96.3,25.1 97.7,24.0Z M191.9,109.2C191.9,109.8 191.5,110.7 191.0,111.2C190.6,111.6 189.7,112.0 189.0,112.0C188.4,112.0 187.5,111.6 187.0,111.2C186.6,110.7 186.2,109.8 186.2,109.2C186.2,108.5 186.6,107.6 187.0,107.2C187.5,106.7 188.4,106.3 189.0,106.3C189.7,106.3 190.6,106.7 191.0,107.2C191.5,107.6 191.9,108.5 191.9,109.2Z" fill="#12d414" stroke="#067a3a" stroke-width="1.1"/></g>
<path d="M29.9,71.1C30.8,67.3 41.2,66.7 44.9,67.3C48.7,68.0 51.5,71.1 52.5,74.9C53.4,78.6 52.8,87.4 50.6,89.9C48.4,92.5 42.7,93.1 39.3,89.9C35.8,86.8 28.9,74.9 29.9,71.1Z M97.7,86.2C99.6,84.3 110.9,84.6 112.8,86.2C114.6,87.7 110.9,93.7 109.0,95.6C107.1,97.5 103.3,99.0 101.5,97.5C99.6,95.9 95.8,88.1 97.7,86.2Z M48.7,105.0C51.2,104.1 63.2,103.3 65.7,104.1C68.2,104.9 66.3,108.8 63.8,109.7C61.3,110.7 53.1,110.5 50.6,109.7C48.1,108.9 46.2,106.0 48.7,105.0Z" fill="#86ee10" filter="url(#roughY)"/>
<path d="M47.8,69.2C48.6,68.4 52.5,69.1 53.4,70.2C54.4,71.3 54.2,75.0 53.4,75.8C52.6,76.6 49.7,76.0 48.7,74.9C47.8,73.8 47.0,70.0 47.8,69.2Z M55.3,104.6C56.6,104.3 62.2,104.8 63.4,105.4C64.6,106.0 63.9,108.0 62.6,108.4C61.4,108.8 57.1,108.3 55.9,107.6C54.6,107.0 54.0,105.0 55.3,104.6Z" fill="#f4f400" filter="url(#rough2)"/>
</g>
<g id="scene0g" clip-path="url(#clip200)">
<rect width="200" height="200" fill="#2a2a2a"/>
<rect width="200" height="200" filter="url(#texg0)" opacity="0.3"/>
<ellipse cx="97.7" cy="123.8" rx="62.2" ry="49.0" fill="none" stroke="#fff" stroke-opacity="0.015" stroke-width="12" filter="url(#blur3)"/>
<ellipse cx="105.2" cy="127.6" rx="43.3" ry="32.0" fill="none" stroke="#fff" stroke-opacity="0.015" stroke-width="12" filter="url(#blur3)"/>
<ellipse cx="109.0" cy="131.4" rx="81.0" ry="62.2" fill="none" stroke="#fff" stroke-opacity="0.015" stroke-width="12" filter="url(#blur3)"/>
<path d="M0.7,54.2C3.0,40.7 9.9,44.1 14.8,39.1C19.7,34.1 24.2,25.0 29.9,24.0C35.5,23.1 42.4,33.1 48.7,33.4C55.0,33.7 61.9,30.9 67.5,25.9C73.2,20.9 73.2,7.5 82.6,3.3C92.0,-0.9 110.9,0.9 124.1,0.5C137.2,0.0 153.6,-0.6 161.7,0.5C169.9,1.6 176.2,5.0 173.0,7.1C169.9,9.1 149.2,8.9 142.9,12.7C136.6,16.5 135.4,23.7 135.4,29.7C135.4,35.6 142.9,41.6 142.9,48.5C142.9,55.4 136.0,64.2 135.4,71.1C134.7,78.0 141.0,83.7 139.1,89.9C137.2,96.2 128.4,103.1 124.1,108.8C119.7,114.4 119.0,119.5 112.8,123.8C106.5,128.2 97.1,133.9 86.4,135.1C75.7,136.4 59.7,132.6 48.7,131.4C37.7,130.1 28.5,129.5 20.5,127.6C12.5,125.7 4.0,132.3 0.7,120.1C-2.6,107.8 -1.7,67.7 0.7,54.2Z" fill="#3d3d3d" filter="url(#haloF)" opacity="0.6"/>
<path d="M124.1,0.5C135.4,-11.3 186.8,-7.5 199.4,0.5C212.0,8.5 204.1,35.8 199.4,48.5C194.7,61.2 180.6,69.8 171.1,76.8C161.7,83.7 149.5,90.9 142.9,89.9C136.3,89.0 134.7,86.0 131.6,71.1C128.4,56.2 112.8,12.2 124.1,0.5Z" fill="#3d3d3d" filter="url(#haloF)" opacity="0.4"/>
<path d="M86.4,3.3C87.6,0.8 93.3,1.1 97.7,1.4C102.1,1.7 110.9,2.7 112.8,5.2C114.6,7.7 111.5,13.7 109.0,16.5C106.5,19.3 100.8,22.1 97.7,22.1C94.5,22.1 92.0,19.6 90.1,16.5C88.3,13.3 85.1,5.8 86.4,3.3Z M124.1,3.3C124.7,2.5 134.1,0.9 135.4,1.4C136.6,1.9 133.5,5.8 131.6,6.1C129.7,6.4 123.4,4.1 124.1,3.3Z M142.9,1.4C143.8,0.6 157.0,-0.5 161.7,0.5C166.4,1.4 172.1,6.3 171.1,7.1C170.2,7.8 160.8,6.1 156.1,5.2C151.4,4.2 141.9,2.2 142.9,1.4Z M67.5,116.3C69.7,113.8 75.7,112.9 82.6,112.5C89.5,112.2 104.9,112.5 109.0,114.4C113.1,116.3 109.6,121.3 107.1,123.8C104.6,126.4 98.0,128.1 93.9,129.5C89.8,130.9 86.7,132.6 82.6,132.3C78.5,132.0 71.9,130.3 69.4,127.6C66.9,124.9 65.3,118.8 67.5,116.3Z M0.7,85.2C1.9,84.3 5.7,89.6 8.2,92.8C10.7,95.9 15.3,101.7 15.7,104.1C16.2,106.5 13.5,108.2 11.0,107.3C8.5,106.3 2.4,102.1 0.7,98.4C-1.0,94.7 -0.6,86.2 0.7,85.2Z M2.6,114.4C6.0,115.3 13.1,121.3 22.3,123.8C31.6,126.4 52.3,128.4 58.1,129.9C63.9,131.4 63.5,133.0 57.2,132.9C50.9,132.8 29.7,131.5 20.5,129.1C11.2,126.7 4.6,121.0 1.6,118.6C-1.4,116.1 -0.9,113.5 2.6,114.4Z M48.7,37.2C50.1,34.1 58.4,29.0 63.8,26.8C69.1,24.6 78.5,23.2 80.7,24.0C82.9,24.9 79.8,30.1 77.0,31.9C74.1,33.7 67.4,32.6 63.8,34.9C60.2,37.2 57.8,45.3 55.3,45.7C52.8,46.1 47.3,40.3 48.7,37.2Z M55.3,48.5C56.6,46.6 62.7,44.5 65.3,47.0C67.9,49.4 70.9,59.8 70.9,63.2C70.9,66.6 67.5,68.2 65.3,67.3C63.1,66.5 59.4,61.4 57.8,58.3C56.1,55.2 54.0,50.4 55.3,48.5Z M16.3,15.0C16.5,14.3 19.3,15.5 19.7,16.5C20.1,17.4 19.1,20.9 18.6,20.6C18.0,20.4 16.1,15.7 16.3,15.0Z M131.6,44.7C133.0,43.6 139.8,41.9 141.0,42.9C142.3,43.8 140.5,49.3 139.1,50.4C137.7,51.5 133.8,50.4 132.5,49.4C131.3,48.5 130.2,45.8 131.6,44.7Z M16.7,54.2C18.6,52.3 24.5,54.5 29.9,56.0C35.2,57.6 44.0,61.1 48.7,63.6C53.4,66.1 55.8,67.3 58.1,71.1C60.5,74.9 61.9,81.8 62.8,86.2C63.8,90.6 62.4,93.7 63.8,97.5C65.2,101.2 69.3,106.3 71.3,108.8C73.4,111.3 77.3,111.5 76.0,112.5C74.8,113.5 68.3,114.1 63.8,114.8C59.2,115.5 54.4,116.9 48.7,116.7C43.1,116.5 35.4,115.3 29.9,113.5C24.4,111.7 19.0,109.1 15.7,106.0C12.5,102.8 10.3,98.3 10.1,94.7C9.9,91.0 13.4,88.8 14.8,84.3C16.2,79.7 18.3,72.4 18.6,67.3C18.9,62.3 14.8,56.0 16.7,54.2Z M0.7,100.3C2.4,99.6 7.4,103.0 11.0,105.0C14.6,107.1 17.9,110.4 22.3,112.5C26.7,114.7 32.1,116.2 37.4,117.8C42.7,119.5 51.3,120.6 54.4,122.3C57.4,124.0 58.7,127.6 55.9,128.0C53.0,128.4 43.3,125.9 37.4,125.0C31.5,124.1 25.8,124.5 20.5,122.7C15.1,120.9 8.7,116.3 5.4,114.1C2.1,111.8 1.5,111.4 0.7,109.2C-0.1,106.9 -1.0,101.0 0.7,100.3Z M80.7,54.2C83.9,48.8 92.3,43.2 97.7,39.1C103.0,35.0 108.4,31.4 112.8,29.7C117.1,27.9 121.4,27.5 124.1,28.7C126.7,30.0 127.8,33.9 128.8,37.2C129.7,40.5 129.2,41.9 129.7,48.5C130.2,55.1 132.5,69.5 131.6,76.8C130.6,84.0 127.8,87.4 124.1,91.8C120.3,96.2 112.9,100.8 109.0,103.1C105.1,105.5 103.0,107.5 100.5,106.0C98.0,104.4 96.9,97.0 93.9,93.7C90.9,90.4 85.1,89.9 82.6,86.2C80.1,82.4 79.2,76.4 78.8,71.1C78.5,65.8 77.6,59.5 80.7,54.2Z M28.0,27.8C29.4,27.5 35.4,29.5 37.4,31.6C39.4,33.6 40.7,38.5 40.2,40.0C39.8,41.6 36.5,42.1 34.6,41.0C32.7,39.9 30.0,35.6 28.9,33.4C27.8,31.2 26.6,28.1 28.0,27.8Z M65.7,39.1C66.6,37.4 73.0,36.4 75.1,37.2C77.1,38.0 78.8,42.1 77.9,43.8C77.0,45.5 71.5,48.3 69.4,47.6C67.4,46.8 64.7,40.8 65.7,39.1Z M86.4,22.1C87.0,19.6 89.5,17.4 93.9,16.5C98.3,15.5 109.3,14.9 112.8,16.5C116.2,18.1 115.9,23.7 114.6,25.9C113.4,28.1 109.3,28.7 105.2,29.7C101.1,30.6 93.3,32.8 90.1,31.6C87.0,30.3 85.8,24.6 86.4,22.1Z M193.7,109.2C193.7,110.3 193.2,111.7 192.4,112.5C191.6,113.3 190.1,113.9 189.0,113.9C187.9,113.9 186.5,113.3 185.7,112.5C184.9,111.7 184.3,110.3 184.3,109.2C184.3,108.0 184.9,106.6 185.7,105.8C186.5,105.0 187.9,104.4 189.0,104.4C190.1,104.4 191.6,105.0 192.4,105.8C193.2,106.6 193.7,108.0 193.7,109.2Z M20.5,61.7C22.3,60.4 27.4,64.8 31.8,65.5C36.2,66.1 42.9,64.2 46.8,65.5C50.8,66.7 54.0,68.9 55.3,73.0C56.6,77.1 53.9,85.5 54.4,89.9C54.8,94.3 55.6,96.4 58.1,99.4C60.6,102.3 70.1,105.5 69.4,107.8C68.8,110.2 59.7,112.7 54.4,113.5C49.0,114.3 41.5,114.6 37.4,112.5C33.3,110.5 32.4,105.6 29.9,101.2C27.4,96.8 23.9,90.9 22.3,86.2C20.8,81.5 20.8,77.1 20.5,73.0C20.1,68.9 18.6,62.9 20.5,61.7Z M23.3,117.3C24.9,116.2 31.3,117.3 35.5,118.2C39.8,119.1 46.8,121.5 48.7,122.9C50.6,124.3 50.6,126.4 46.8,126.7C43.1,127.0 30.0,126.4 26.1,124.8C22.2,123.2 21.7,118.4 23.3,117.3Z M3.5,103.1C4.4,102.5 9.5,103.4 11.0,105.0C12.6,106.6 13.9,111.9 12.9,112.5C12.0,113.2 7.0,110.3 5.4,108.8C3.8,107.2 2.6,103.8 3.5,103.1Z M93.9,80.5C95.5,79.0 101.8,83.3 105.2,82.4C108.7,81.5 111.3,76.4 114.6,74.9C117.9,73.3 123.4,71.1 125.0,73.0C126.6,74.9 126.1,82.1 124.1,86.2C122.0,90.3 116.7,94.8 112.8,97.5C108.8,100.1 103.3,103.1 100.5,102.2C97.7,101.2 96.9,95.4 95.8,91.8C94.7,88.2 92.3,82.1 93.9,80.5Z M97.7,24.0C99.1,22.9 105.8,21.5 107.1,22.1C108.4,22.8 106.6,26.7 105.2,27.8C103.8,28.9 99.9,29.4 98.6,28.7C97.4,28.1 96.3,25.1 97.7,24.0Z M191.9,109.2C191.9,109.8 191.5,110.7 191.0,111.2C190.6,111.6 189.7,112.0 189.0,112.0C188.4,112.0 187.5,111.6 187.0,111.2C186.6,110.7 186.2,109.8 186.2,109.2C186.2,108.5 186.6,107.6 187.0,107.2C187.5,106.7 188.4,106.3 189.0,106.3C189.7,106.3 190.6,106.7 191.0,107.2C191.5,107.6 191.9,108.5 191.9,109.2Z" fill="#3d3d3d" stroke="#3d3d3d" stroke-width="6" stroke-linejoin="round" filter="url(#edgeF)" opacity="0.8"/>
<path d="M86.4,3.3C87.6,0.8 93.3,1.1 97.7,1.4C102.1,1.7 110.9,2.7 112.8,5.2C114.6,7.7 111.5,13.7 109.0,16.5C106.5,19.3 100.8,22.1 97.7,22.1C94.5,22.1 92.0,19.6 90.1,16.5C88.3,13.3 85.1,5.8 86.4,3.3Z M124.1,3.3C124.7,2.5 134.1,0.9 135.4,1.4C136.6,1.9 133.5,5.8 131.6,6.1C129.7,6.4 123.4,4.1 124.1,3.3Z M142.9,1.4C143.8,0.6 157.0,-0.5 161.7,0.5C166.4,1.4 172.1,6.3 171.1,7.1C170.2,7.8 160.8,6.1 156.1,5.2C151.4,4.2 141.9,2.2 142.9,1.4Z M67.5,116.3C69.7,113.8 75.7,112.9 82.6,112.5C89.5,112.2 104.9,112.5 109.0,114.4C113.1,116.3 109.6,121.3 107.1,123.8C104.6,126.4 98.0,128.1 93.9,129.5C89.8,130.9 86.7,132.6 82.6,132.3C78.5,132.0 71.9,130.3 69.4,127.6C66.9,124.9 65.3,118.8 67.5,116.3Z M0.7,85.2C1.9,84.3 5.7,89.6 8.2,92.8C10.7,95.9 15.3,101.7 15.7,104.1C16.2,106.5 13.5,108.2 11.0,107.3C8.5,106.3 2.4,102.1 0.7,98.4C-1.0,94.7 -0.6,86.2 0.7,85.2Z M2.6,114.4C6.0,115.3 13.1,121.3 22.3,123.8C31.6,126.4 52.3,128.4 58.1,129.9C63.9,131.4 63.5,133.0 57.2,132.9C50.9,132.8 29.7,131.5 20.5,129.1C11.2,126.7 4.6,121.0 1.6,118.6C-1.4,116.1 -0.9,113.5 2.6,114.4Z M48.7,37.2C50.1,34.1 58.4,29.0 63.8,26.8C69.1,24.6 78.5,23.2 80.7,24.0C82.9,24.9 79.8,30.1 77.0,31.9C74.1,33.7 67.4,32.6 63.8,34.9C60.2,37.2 57.8,45.3 55.3,45.7C52.8,46.1 47.3,40.3 48.7,37.2Z M55.3,48.5C56.6,46.6 62.7,44.5 65.3,47.0C67.9,49.4 70.9,59.8 70.9,63.2C70.9,66.6 67.5,68.2 65.3,67.3C63.1,66.5 59.4,61.4 57.8,58.3C56.1,55.2 54.0,50.4 55.3,48.5Z M16.3,15.0C16.5,14.3 19.3,15.5 19.7,16.5C20.1,17.4 19.1,20.9 18.6,20.6C18.0,20.4 16.1,15.7 16.3,15.0Z M131.6,44.7C133.0,43.6 139.8,41.9 141.0,42.9C142.3,43.8 140.5,49.3 139.1,50.4C137.7,51.5 133.8,50.4 132.5,49.4C131.3,48.5 130.2,45.8 131.6,44.7Z" fill="#494949" filter="url(#roughb)"/>
<path d="M16.7,54.2C18.6,52.3 24.5,54.5 29.9,56.0C35.2,57.6 44.0,61.1 48.7,63.6C53.4,66.1 55.8,67.3 58.1,71.1C60.5,74.9 61.9,81.8 62.8,86.2C63.8,90.6 62.4,93.7 63.8,97.5C65.2,101.2 69.3,106.3 71.3,108.8C73.4,111.3 77.3,111.5 76.0,112.5C74.8,113.5 68.3,114.1 63.8,114.8C59.2,115.5 54.4,116.9 48.7,116.7C43.1,116.5 35.4,115.3 29.9,113.5C24.4,111.7 19.0,109.1 15.7,106.0C12.5,102.8 10.3,98.3 10.1,94.7C9.9,91.0 13.4,88.8 14.8,84.3C16.2,79.7 18.3,72.4 18.6,67.3C18.9,62.3 14.8,56.0 16.7,54.2Z M0.7,100.3C2.4,99.6 7.4,103.0 11.0,105.0C14.6,107.1 17.9,110.4 22.3,112.5C26.7,114.7 32.1,116.2 37.4,117.8C42.7,119.5 51.3,120.6 54.4,122.3C57.4,124.0 58.7,127.6 55.9,128.0C53.0,128.4 43.3,125.9 37.4,125.0C31.5,124.1 25.8,124.5 20.5,122.7C15.1,120.9 8.7,116.3 5.4,114.1C2.1,111.8 1.5,111.4 0.7,109.2C-0.1,106.9 -1.0,101.0 0.7,100.3Z M80.7,54.2C83.9,48.8 92.3,43.2 97.7,39.1C103.0,35.0 108.4,31.4 112.8,29.7C117.1,27.9 121.4,27.5 124.1,28.7C126.7,30.0 127.8,33.9 128.8,37.2C129.7,40.5 129.2,41.9 129.7,48.5C130.2,55.1 132.5,69.5 131.6,76.8C130.6,84.0 127.8,87.4 124.1,91.8C120.3,96.2 112.9,100.8 109.0,103.1C105.1,105.5 103.0,107.5 100.5,106.0C98.0,104.4 96.9,97.0 93.9,93.7C90.9,90.4 85.1,89.9 82.6,86.2C80.1,82.4 79.2,76.4 78.8,71.1C78.5,65.8 77.6,59.5 80.7,54.2Z M28.0,27.8C29.4,27.5 35.4,29.5 37.4,31.6C39.4,33.6 40.7,38.5 40.2,40.0C39.8,41.6 36.5,42.1 34.6,41.0C32.7,39.9 30.0,35.6 28.9,33.4C27.8,31.2 26.6,28.1 28.0,27.8Z M65.7,39.1C66.6,37.4 73.0,36.4 75.1,37.2C77.1,38.0 78.8,42.1 77.9,43.8C77.0,45.5 71.5,48.3 69.4,47.6C67.4,46.8 64.7,40.8 65.7,39.1Z M86.4,22.1C87.0,19.6 89.5,17.4 93.9,16.5C98.3,15.5 109.3,14.9 112.8,16.5C116.2,18.1 115.9,23.7 114.6,25.9C113.4,28.1 109.3,28.7 105.2,29.7C101.1,30.6 93.3,32.8 90.1,31.6C87.0,30.3 85.8,24.6 86.4,22.1Z M193.7,109.2C193.7,110.3 193.2,111.7 192.4,112.5C191.6,113.3 190.1,113.9 189.0,113.9C187.9,113.9 186.5,113.3 185.7,112.5C184.9,111.7 184.3,110.3 184.3,109.2C184.3,108.0 184.9,106.6 185.7,105.8C186.5,105.0 187.9,104.4 189.0,104.4C190.1,104.4 191.6,105.0 192.4,105.8C193.2,106.6 193.7,108.0 193.7,109.2Z" fill="#585858" filter="url(#roughb)"/>
<path d="M20.5,61.7C22.3,60.4 27.4,64.8 31.8,65.5C36.2,66.1 42.9,64.2 46.8,65.5C50.8,66.7 54.0,68.9 55.3,73.0C56.6,77.1 53.9,85.5 54.4,89.9C54.8,94.3 55.6,96.4 58.1,99.4C60.6,102.3 70.1,105.5 69.4,107.8C68.8,110.2 59.7,112.7 54.4,113.5C49.0,114.3 41.5,114.6 37.4,112.5C33.3,110.5 32.4,105.6 29.9,101.2C27.4,96.8 23.9,90.9 22.3,86.2C20.8,81.5 20.8,77.1 20.5,73.0C20.1,68.9 18.6,62.9 20.5,61.7Z M23.3,117.3C24.9,116.2 31.3,117.3 35.5,118.2C39.8,119.1 46.8,121.5 48.7,122.9C50.6,124.3 50.6,126.4 46.8,126.7C43.1,127.0 30.0,126.4 26.1,124.8C22.2,123.2 21.7,118.4 23.3,117.3Z M3.5,103.1C4.4,102.5 9.5,103.4 11.0,105.0C12.6,106.6 13.9,111.9 12.9,112.5C12.0,113.2 7.0,110.3 5.4,108.8C3.8,107.2 2.6,103.8 3.5,103.1Z M93.9,80.5C95.5,79.0 101.8,83.3 105.2,82.4C108.7,81.5 111.3,76.4 114.6,74.9C117.9,73.3 123.4,71.1 125.0,73.0C126.6,74.9 126.1,82.1 124.1,86.2C122.0,90.3 116.7,94.8 112.8,97.5C108.8,100.1 103.3,103.1 100.5,102.2C97.7,101.2 96.9,95.4 95.8,91.8C94.7,88.2 92.3,82.1 93.9,80.5Z M97.7,24.0C99.1,22.9 105.8,21.5 107.1,22.1C108.4,22.8 106.6,26.7 105.2,27.8C103.8,28.9 99.9,29.4 98.6,28.7C97.4,28.1 96.3,25.1 97.7,24.0Z M191.9,109.2C191.9,109.8 191.5,110.7 191.0,111.2C190.6,111.6 189.7,112.0 189.0,112.0C188.4,112.0 187.5,111.6 187.0,111.2C186.6,110.7 186.2,109.8 186.2,109.2C186.2,108.5 186.6,107.6 187.0,107.2C187.5,106.7 188.4,106.3 189.0,106.3C189.7,106.3 190.6,106.7 191.0,107.2C191.5,107.6 191.9,108.5 191.9,109.2Z" fill="#939393" filter="url(#roughb)"/>
<path d="M29.9,71.1C30.8,67.3 41.2,66.7 44.9,67.3C48.7,68.0 51.5,71.1 52.5,74.9C53.4,78.6 52.8,87.4 50.6,89.9C48.4,92.5 42.7,93.1 39.3,89.9C35.8,86.8 28.9,74.9 29.9,71.1Z M97.7,86.2C99.6,84.3 110.9,84.6 112.8,86.2C114.6,87.7 110.9,93.7 109.0,95.6C107.1,97.5 103.3,99.0 101.5,97.5C99.6,95.9 95.8,88.1 97.7,86.2Z M48.7,105.0C51.2,104.1 63.2,103.3 65.7,104.1C68.2,104.9 66.3,108.8 63.8,109.7C61.3,110.7 53.1,110.5 50.6,109.7C48.1,108.9 46.2,106.0 48.7,105.0Z" fill="#a3a3a3" filter="url(#rough2b)"/>
<path d="M47.8,69.2C48.6,68.4 52.5,69.1 53.4,70.2C54.4,71.3 54.2,75.0 53.4,75.8C52.6,76.6 49.7,76.0 48.7,74.9C47.8,73.8 47.0,70.0 47.8,69.2Z M55.3,104.6C56.6,104.3 62.2,104.8 63.4,105.4C64.6,106.0 63.9,108.0 62.6,108.4C61.4,108.8 57.1,108.3 55.9,107.6C54.6,107.0 54.0,105.0 55.3,104.6Z" fill="#b0b0b0" filter="url(#rough2b)"/>
</g>
<filter id="tex1" x="0" y="0" width="100%" height="100%" color-interpolation-filters="sRGB"><feTurbulence type="fractalNoise" baseFrequency="0.04" numOctaves="4" seed="8"/><feColorMatrix type="matrix" values="0 0 0 0 1  0 0 0 0 1  0 0 0 0 1  2.6 0 0 0 -1.15"/></filter>
<filter id="texg1" x="0" y="0" width="100%" height="100%" color-interpolation-filters="sRGB"><feTurbulence type="fractalNoise" baseFrequency="0.05" numOctaves="4" seed="12"/><feColorMatrix type="matrix" values="0 0 0 0 0.32  0 0 0 0 0.32  0 0 0 0 0.32  2.6 0 0 0 -1.15"/></filter>
<g id="scene1c" clip-path="url(#clip200)">
<rect width="200" height="200" fill="url(#irbg)"/>
<rect width="200" height="200" filter="url(#tex1)" opacity="0.2"/>
<ellipse cx="97.7" cy="112.3" rx="62.2" ry="49.0" fill="none" stroke="#fff" stroke-opacity="0.1" stroke-width="12" filter="url(#blur3)"/>
<ellipse cx="105.2" cy="123.6" rx="43.3" ry="32.0" fill="none" stroke="#fff" stroke-opacity="0.1" stroke-width="12" filter="url(#blur3)"/>
<ellipse cx="109.0" cy="123.6" rx="81.0" ry="62.2" fill="none" stroke="#fff" stroke-opacity="0.1" stroke-width="12" filter="url(#blur3)"/>
<path d="M0.7,48.2C3.7,34.1 11.8,33.8 18.6,31.3C25.3,28.8 35.2,31.0 41.2,33.2C47.1,35.3 50.0,45.1 54.4,44.5C58.8,43.8 64.7,35.0 67.5,29.4C70.4,23.7 66.9,15.3 71.3,10.5C75.7,5.8 85.1,2.4 93.9,1.1C102.7,-0.1 112.8,1.4 124.1,3.0C135.4,4.6 154.2,8.2 161.7,10.5C169.3,12.9 172.4,14.6 169.3,17.1C166.1,19.7 147.9,21.7 142.9,25.6C137.9,29.5 139.1,33.2 139.1,40.7C139.1,48.2 144.1,60.1 142.9,70.8C141.6,81.5 137.9,96.6 131.6,104.7C125.3,112.9 112.8,116.7 105.2,119.8C97.7,122.9 94.5,122.3 86.4,123.6C78.2,124.8 66.0,126.4 56.2,127.3C46.5,128.3 37.3,131.1 28.0,129.2C18.7,127.3 5.2,129.5 0.7,116.0C-3.9,102.5 -2.3,62.3 0.7,48.2Z" fill="#f4f4f4" filter="url(#haloF)" opacity="0.58"/>
<path d="M71.3,1.1C76.0,-3.3 151.4,-3.3 171.1,3.0C190.9,9.3 191.5,25.0 190.0,38.8C188.4,52.6 170.2,74.3 161.7,85.9C153.2,97.5 144.1,111.6 139.1,108.5C134.1,105.4 131.0,80.2 131.6,67.1C132.2,53.9 152.9,40.4 142.9,29.4C132.8,18.4 66.6,5.5 71.3,1.1Z" fill="#f4f4f4" filter="url(#haloF)" opacity="0.34"/>
<path d="M71.3,15.3C72.6,14.2 76.3,12.9 80.7,13.4C85.1,13.8 95.5,16.0 97.7,18.1C99.9,20.1 96.7,24.2 93.9,25.6C91.1,27.0 84.2,27.5 80.7,26.6C77.3,25.6 74.8,21.8 73.2,20.0C71.6,18.1 70.1,16.4 71.3,15.3Z M75.1,27.5C76.6,24.7 85.1,23.7 90.1,21.8C95.2,20.0 102.1,16.2 105.2,16.2C108.4,16.2 110.9,19.0 109.0,21.8C107.1,24.7 98.6,30.3 93.9,33.2C89.2,36.0 83.9,39.7 80.7,38.8C77.6,37.9 73.5,30.3 75.1,27.5Z M127.8,10.5C128.9,9.4 134.7,7.9 136.3,8.7C137.9,9.4 138.3,14.1 137.2,15.3C136.1,16.5 131.3,16.6 129.7,15.8C128.1,15.0 126.7,11.7 127.8,10.5Z M156.1,13.9C156.9,13.3 160.9,12.8 161.7,13.4C162.5,13.9 161.6,16.5 160.8,17.1C160.0,17.8 157.8,17.7 157.0,17.1C156.2,16.6 155.3,14.6 156.1,13.9Z M56.2,38.8C56.9,35.7 67.2,29.7 71.3,29.4C75.4,29.1 81.4,33.8 80.7,36.9C80.1,40.1 71.6,47.9 67.5,48.2C63.5,48.5 55.6,41.9 56.2,38.8Z M56.2,119.8C59.1,118.5 68.2,119.2 75.1,117.9C82.0,116.7 93.9,112.3 97.7,112.3C101.5,112.3 101.1,115.9 97.7,117.9C94.2,120.0 83.6,123.2 77.0,124.5C70.4,125.8 61.6,126.2 58.1,125.4C54.7,124.7 53.4,121.1 56.2,119.8Z M80.7,61.4C81.7,59.5 88.3,55.4 90.1,55.8C92.0,56.1 93.0,61.4 92.0,63.3C91.1,65.2 86.4,67.4 84.5,67.1C82.6,66.7 79.8,63.3 80.7,61.4Z M0.7,82.1C2.4,79.3 7.4,78.7 11.0,80.2C14.6,81.8 19.2,87.5 22.3,91.5C25.5,95.6 29.2,101.3 29.9,104.7C30.5,108.2 29.9,112.3 26.1,112.3C22.3,112.3 11.5,107.2 7.3,104.7C3.0,102.2 1.8,101.0 0.7,97.2C-0.4,93.4 -1.0,85.0 0.7,82.1Z M131.6,76.5C132.4,75.8 135.7,76.5 136.3,77.4C136.9,78.4 136.1,81.5 135.4,82.1C134.6,82.8 132.2,82.1 131.6,81.2C131.0,80.2 130.8,77.1 131.6,76.5Z M0.7,50.1C1.9,45.7 8.1,43.2 11.0,40.7C14.0,38.2 14.5,35.7 18.6,35.0C22.7,34.4 30.5,34.7 35.5,36.9C40.5,39.1 44.6,46.7 48.7,48.2C52.8,49.8 55.6,47.9 60.0,46.3C64.4,44.8 71.3,39.4 75.1,38.8C78.8,38.2 83.9,39.7 82.6,42.6C81.4,45.4 70.1,51.0 67.5,55.8C65.0,60.5 68.5,66.7 67.5,70.8C66.6,74.9 61.9,75.8 61.9,80.2C61.9,84.6 67.5,91.9 67.5,97.2C67.5,102.5 64.4,108.2 61.9,112.3C59.4,116.3 57.8,119.2 52.5,121.7C47.1,124.2 38.0,128.9 29.9,127.3C21.7,125.8 8.4,116.0 3.5,112.3C-1.4,108.5 -1.2,108.5 0.7,104.7C2.6,101.0 14.3,95.9 14.8,89.7C15.3,83.4 5.9,73.6 3.5,67.1C1.1,60.5 -0.6,54.5 0.7,50.1Z M84.5,67.1C85.4,61.7 87.3,55.8 93.9,53.9C100.5,52.0 116.8,53.6 124.1,55.8C131.3,58.0 135.4,64.2 137.2,67.1C139.1,69.9 137.6,71.1 135.4,72.7C133.2,74.3 126.3,73.6 124.1,76.5C121.9,79.3 123.7,85.6 122.2,89.7C120.6,93.7 118.7,97.5 114.6,101.0C110.6,104.4 101.8,109.8 97.7,110.4C93.6,111.0 91.7,108.8 90.1,104.7C88.6,100.6 89.2,92.2 88.3,85.9C87.3,79.6 83.6,72.4 84.5,67.1Z M82.6,41.6C84.5,40.5 90.1,39.9 97.7,39.7C105.2,39.6 122.8,39.6 127.8,40.7C132.8,41.8 132.8,45.2 127.8,46.3C122.8,47.4 104.6,47.3 97.7,47.3C90.8,47.3 88.9,47.3 86.4,46.3C83.9,45.4 80.7,42.7 82.6,41.6Z M99.6,28.4C101.5,27.2 107.1,26.9 112.8,27.5C118.4,28.1 130.0,30.5 133.5,32.2C136.9,33.9 136.3,36.8 133.5,37.9C130.6,39.0 121.9,39.3 116.5,38.8C111.2,38.3 104.3,36.8 101.5,35.0C98.6,33.3 97.7,29.7 99.6,28.4Z M76.0,101.0C77.6,100.5 84.7,101.1 86.4,101.9C88.1,102.7 88.0,105.2 86.4,105.7C84.8,106.1 78.7,105.5 77.0,104.7C75.2,103.9 74.5,101.4 76.0,101.0Z M12.9,46.3C16.4,43.5 26.1,39.7 31.8,40.7C37.4,41.6 41.8,49.2 46.8,52.0C51.8,54.8 58.9,55.1 61.9,57.6C64.9,60.1 65.3,63.9 64.7,67.1C64.1,70.2 58.3,71.5 58.1,76.5C58.0,81.5 64.1,92.5 63.8,97.2C63.5,101.9 60.3,103.8 56.2,104.7C52.2,105.7 44.3,104.7 39.3,102.8C34.3,101.0 30.2,98.8 26.1,93.4C22.0,88.1 17.3,76.8 14.8,70.8C12.3,64.9 11.4,61.7 11.0,57.6C10.7,53.6 9.5,49.2 12.9,46.3Z M3.5,104.7C4.4,103.2 11.7,105.0 14.8,106.6C17.9,108.2 21.4,111.6 22.3,114.1C23.3,116.7 22.7,121.4 20.5,121.7C18.3,122.0 12.0,118.9 9.2,116.0C6.3,113.2 2.6,106.3 3.5,104.7Z M28.0,120.7C29.9,119.5 37.1,119.0 41.2,118.9C45.3,118.7 51.2,119.0 52.5,119.8C53.7,120.6 52.5,122.5 48.7,123.6C44.9,124.7 33.3,126.9 29.9,126.4C26.4,125.9 26.1,122.0 28.0,120.7Z M109.0,67.1C112.6,63.3 120.1,59.5 124.1,59.5C128.0,59.5 132.7,64.2 132.5,67.1C132.4,69.9 125.0,73.0 123.1,76.5C121.2,79.9 122.8,84.0 121.2,87.8C119.7,91.5 117.8,95.6 113.7,99.1C109.6,102.5 100.7,108.5 96.7,108.5C92.8,108.5 91.2,102.8 90.1,99.1C89.1,95.3 88.9,90.0 90.1,85.9C91.4,81.8 95.6,75.2 97.7,74.6C99.7,74.0 100.5,83.4 102.4,82.1C104.3,80.9 105.4,70.8 109.0,67.1Z M124.1,34.1C125.2,33.3 130.5,32.5 131.6,33.2C132.7,33.8 131.7,37.1 130.6,37.9C129.5,38.6 126.1,38.5 125.0,37.9C123.9,37.2 123.0,34.9 124.1,34.1Z" fill="#ffffff" stroke="#ffffff" stroke-width="6.5" stroke-linejoin="round" filter="url(#edgeF)" opacity="0.95"/>
<g filter="url(#rough)"><path d="M71.3,15.3C72.6,14.2 76.3,12.9 80.7,13.4C85.1,13.8 95.5,16.0 97.7,18.1C99.9,20.1 96.7,24.2 93.9,25.6C91.1,27.0 84.2,27.5 80.7,26.6C77.3,25.6 74.8,21.8 73.2,20.0C71.6,18.1 70.1,16.4 71.3,15.3Z M75.1,27.5C76.6,24.7 85.1,23.7 90.1,21.8C95.2,20.0 102.1,16.2 105.2,16.2C108.4,16.2 110.9,19.0 109.0,21.8C107.1,24.7 98.6,30.3 93.9,33.2C89.2,36.0 83.9,39.7 80.7,38.8C77.6,37.9 73.5,30.3 75.1,27.5Z M127.8,10.5C128.9,9.4 134.7,7.9 136.3,8.7C137.9,9.4 138.3,14.1 137.2,15.3C136.1,16.5 131.3,16.6 129.7,15.8C128.1,15.0 126.7,11.7 127.8,10.5Z M156.1,13.9C156.9,13.3 160.9,12.8 161.7,13.4C162.5,13.9 161.6,16.5 160.8,17.1C160.0,17.8 157.8,17.7 157.0,17.1C156.2,16.6 155.3,14.6 156.1,13.9Z M56.2,38.8C56.9,35.7 67.2,29.7 71.3,29.4C75.4,29.1 81.4,33.8 80.7,36.9C80.1,40.1 71.6,47.9 67.5,48.2C63.5,48.5 55.6,41.9 56.2,38.8Z M56.2,119.8C59.1,118.5 68.2,119.2 75.1,117.9C82.0,116.7 93.9,112.3 97.7,112.3C101.5,112.3 101.1,115.9 97.7,117.9C94.2,120.0 83.6,123.2 77.0,124.5C70.4,125.8 61.6,126.2 58.1,125.4C54.7,124.7 53.4,121.1 56.2,119.8Z M80.7,61.4C81.7,59.5 88.3,55.4 90.1,55.8C92.0,56.1 93.0,61.4 92.0,63.3C91.1,65.2 86.4,67.4 84.5,67.1C82.6,66.7 79.8,63.3 80.7,61.4Z M0.7,82.1C2.4,79.3 7.4,78.7 11.0,80.2C14.6,81.8 19.2,87.5 22.3,91.5C25.5,95.6 29.2,101.3 29.9,104.7C30.5,108.2 29.9,112.3 26.1,112.3C22.3,112.3 11.5,107.2 7.3,104.7C3.0,102.2 1.8,101.0 0.7,97.2C-0.4,93.4 -1.0,85.0 0.7,82.1Z M131.6,76.5C132.4,75.8 135.7,76.5 136.3,77.4C136.9,78.4 136.1,81.5 135.4,82.1C134.6,82.8 132.2,82.1 131.6,81.2C131.0,80.2 130.8,77.1 131.6,76.5Z" fill="#2fb4ff" stroke="#7fe4ff" stroke-width="2"/></g>
<path d="M3.5,82.1C4.8,81.2 10.1,83.4 12.9,85.9C15.7,88.4 20.5,95.0 20.5,97.2C20.5,99.4 15.4,100.0 12.9,99.1C10.4,98.1 7.0,94.4 5.4,91.5C3.8,88.7 2.2,83.1 3.5,82.1Z" fill="#f2f2f2" filter="url(#rough)"/>
<g filter="url(#roughB)"><path d="M0.7,50.1C1.9,45.7 8.1,43.2 11.0,40.7C14.0,38.2 14.5,35.7 18.6,35.0C22.7,34.4 30.5,34.7 35.5,36.9C40.5,39.1 44.6,46.7 48.7,48.2C52.8,49.8 55.6,47.9 60.0,46.3C64.4,44.8 71.3,39.4 75.1,38.8C78.8,38.2 83.9,39.7 82.6,42.6C81.4,45.4 70.1,51.0 67.5,55.8C65.0,60.5 68.5,66.7 67.5,70.8C66.6,74.9 61.9,75.8 61.9,80.2C61.9,84.6 67.5,91.9 67.5,97.2C67.5,102.5 64.4,108.2 61.9,112.3C59.4,116.3 57.8,119.2 52.5,121.7C47.1,124.2 38.0,128.9 29.9,127.3C21.7,125.8 8.4,116.0 3.5,112.3C-1.4,108.5 -1.2,108.5 0.7,104.7C2.6,101.0 14.3,95.9 14.8,89.7C15.3,83.4 5.9,73.6 3.5,67.1C1.1,60.5 -0.6,54.5 0.7,50.1Z M84.5,67.1C85.4,61.7 87.3,55.8 93.9,53.9C100.5,52.0 116.8,53.6 124.1,55.8C131.3,58.0 135.4,64.2 137.2,67.1C139.1,69.9 137.6,71.1 135.4,72.7C133.2,74.3 126.3,73.6 124.1,76.5C121.9,79.3 123.7,85.6 122.2,89.7C120.6,93.7 118.7,97.5 114.6,101.0C110.6,104.4 101.8,109.8 97.7,110.4C93.6,111.0 91.7,108.8 90.1,104.7C88.6,100.6 89.2,92.2 88.3,85.9C87.3,79.6 83.6,72.4 84.5,67.1Z M82.6,41.6C84.5,40.5 90.1,39.9 97.7,39.7C105.2,39.6 122.8,39.6 127.8,40.7C132.8,41.8 132.8,45.2 127.8,46.3C122.8,47.4 104.6,47.3 97.7,47.3C90.8,47.3 88.9,47.3 86.4,46.3C83.9,45.4 80.7,42.7 82.6,41.6Z M99.6,28.4C101.5,27.2 107.1,26.9 112.8,27.5C118.4,28.1 130.0,30.5 133.5,32.2C136.9,33.9 136.3,36.8 133.5,37.9C130.6,39.0 121.9,39.3 116.5,38.8C111.2,38.3 104.3,36.8 101.5,35.0C98.6,33.3 97.7,29.7 99.6,28.4Z M76.0,101.0C77.6,100.5 84.7,101.1 86.4,101.9C88.1,102.7 88.0,105.2 86.4,105.7C84.8,106.1 78.7,105.5 77.0,104.7C75.2,103.9 74.5,101.4 76.0,101.0Z" fill="#0a22e6" stroke="#52d0ff" stroke-width="5" stroke-linejoin="round"/><path d="M0.7,50.1C1.9,45.7 8.1,43.2 11.0,40.7C14.0,38.2 14.5,35.7 18.6,35.0C22.7,34.4 30.5,34.7 35.5,36.9C40.5,39.1 44.6,46.7 48.7,48.2C52.8,49.8 55.6,47.9 60.0,46.3C64.4,44.8 71.3,39.4 75.1,38.8C78.8,38.2 83.9,39.7 82.6,42.6C81.4,45.4 70.1,51.0 67.5,55.8C65.0,60.5 68.5,66.7 67.5,70.8C66.6,74.9 61.9,75.8 61.9,80.2C61.9,84.6 67.5,91.9 67.5,97.2C67.5,102.5 64.4,108.2 61.9,112.3C59.4,116.3 57.8,119.2 52.5,121.7C47.1,124.2 38.0,128.9 29.9,127.3C21.7,125.8 8.4,116.0 3.5,112.3C-1.4,108.5 -1.2,108.5 0.7,104.7C2.6,101.0 14.3,95.9 14.8,89.7C15.3,83.4 5.9,73.6 3.5,67.1C1.1,60.5 -0.6,54.5 0.7,50.1Z M84.5,67.1C85.4,61.7 87.3,55.8 93.9,53.9C100.5,52.0 116.8,53.6 124.1,55.8C131.3,58.0 135.4,64.2 137.2,67.1C139.1,69.9 137.6,71.1 135.4,72.7C133.2,74.3 126.3,73.6 124.1,76.5C121.9,79.3 123.7,85.6 122.2,89.7C120.6,93.7 118.7,97.5 114.6,101.0C110.6,104.4 101.8,109.8 97.7,110.4C93.6,111.0 91.7,108.8 90.1,104.7C88.6,100.6 89.2,92.2 88.3,85.9C87.3,79.6 83.6,72.4 84.5,67.1Z M82.6,41.6C84.5,40.5 90.1,39.9 97.7,39.7C105.2,39.6 122.8,39.6 127.8,40.7C132.8,41.8 132.8,45.2 127.8,46.3C122.8,47.4 104.6,47.3 97.7,47.3C90.8,47.3 88.9,47.3 86.4,46.3C83.9,45.4 80.7,42.7 82.6,41.6Z M99.6,28.4C101.5,27.2 107.1,26.9 112.8,27.5C118.4,28.1 130.0,30.5 133.5,32.2C136.9,33.9 136.3,36.8 133.5,37.9C130.6,39.0 121.9,39.3 116.5,38.8C111.2,38.3 104.3,36.8 101.5,35.0C98.6,33.3 97.7,29.7 99.6,28.4Z M76.0,101.0C77.6,100.5 84.7,101.1 86.4,101.9C88.1,102.7 88.0,105.2 86.4,105.7C84.8,106.1 78.7,105.5 77.0,104.7C75.2,103.9 74.5,101.4 76.0,101.0Z" fill="#0a22e6" stroke="#1272ff" stroke-width="2.4" stroke-linejoin="round"/></g>
<g filter="url(#roughG)"><path d="M12.9,46.3C16.4,43.5 26.1,39.7 31.8,40.7C37.4,41.6 41.8,49.2 46.8,52.0C51.8,54.8 58.9,55.1 61.9,57.6C64.9,60.1 65.3,63.9 64.7,67.1C64.1,70.2 58.3,71.5 58.1,76.5C58.0,81.5 64.1,92.5 63.8,97.2C63.5,101.9 60.3,103.8 56.2,104.7C52.2,105.7 44.3,104.7 39.3,102.8C34.3,101.0 30.2,98.8 26.1,93.4C22.0,88.1 17.3,76.8 14.8,70.8C12.3,64.9 11.4,61.7 11.0,57.6C10.7,53.6 9.5,49.2 12.9,46.3Z M3.5,104.7C4.4,103.2 11.7,105.0 14.8,106.6C17.9,108.2 21.4,111.6 22.3,114.1C23.3,116.7 22.7,121.4 20.5,121.7C18.3,122.0 12.0,118.9 9.2,116.0C6.3,113.2 2.6,106.3 3.5,104.7Z M28.0,120.7C29.9,119.5 37.1,119.0 41.2,118.9C45.3,118.7 51.2,119.0 52.5,119.8C53.7,120.6 52.5,122.5 48.7,123.6C44.9,124.7 33.3,126.9 29.9,126.4C26.4,125.9 26.1,122.0 28.0,120.7Z M109.0,67.1C112.6,63.3 120.1,59.5 124.1,59.5C128.0,59.5 132.7,64.2 132.5,67.1C132.4,69.9 125.0,73.0 123.1,76.5C121.2,79.9 122.8,84.0 121.2,87.8C119.7,91.5 117.8,95.6 113.7,99.1C109.6,102.5 100.7,108.5 96.7,108.5C92.8,108.5 91.2,102.8 90.1,99.1C89.1,95.3 88.9,90.0 90.1,85.9C91.4,81.8 95.6,75.2 97.7,74.6C99.7,74.0 100.5,83.4 102.4,82.1C104.3,80.9 105.4,70.8 109.0,67.1Z M124.1,34.1C125.2,33.3 130.5,32.5 131.6,33.2C132.7,33.8 131.7,37.1 130.6,37.9C129.5,38.6 126.1,38.5 125.0,37.9C123.9,37.2 123.0,34.9 124.1,34.1Z" fill="#12d414" stroke="#04207a" stroke-width="2.6" stroke-linejoin="round"/><path d="M12.9,46.3C16.4,43.5 26.1,39.7 31.8,40.7C37.4,41.6 41.8,49.2 46.8,52.0C51.8,54.8 58.9,55.1 61.9,57.6C64.9,60.1 65.3,63.9 64.7,67.1C64.1,70.2 58.3,71.5 58.1,76.5C58.0,81.5 64.1,92.5 63.8,97.2C63.5,101.9 60.3,103.8 56.2,104.7C52.2,105.7 44.3,104.7 39.3,102.8C34.3,101.0 30.2,98.8 26.1,93.4C22.0,88.1 17.3,76.8 14.8,70.8C12.3,64.9 11.4,61.7 11.0,57.6C10.7,53.6 9.5,49.2 12.9,46.3Z M3.5,104.7C4.4,103.2 11.7,105.0 14.8,106.6C17.9,108.2 21.4,111.6 22.3,114.1C23.3,116.7 22.7,121.4 20.5,121.7C18.3,122.0 12.0,118.9 9.2,116.0C6.3,113.2 2.6,106.3 3.5,104.7Z M28.0,120.7C29.9,119.5 37.1,119.0 41.2,118.9C45.3,118.7 51.2,119.0 52.5,119.8C53.7,120.6 52.5,122.5 48.7,123.6C44.9,124.7 33.3,126.9 29.9,126.4C26.4,125.9 26.1,122.0 28.0,120.7Z M109.0,67.1C112.6,63.3 120.1,59.5 124.1,59.5C128.0,59.5 132.7,64.2 132.5,67.1C132.4,69.9 125.0,73.0 123.1,76.5C121.2,79.9 122.8,84.0 121.2,87.8C119.7,91.5 117.8,95.6 113.7,99.1C109.6,102.5 100.7,108.5 96.7,108.5C92.8,108.5 91.2,102.8 90.1,99.1C89.1,95.3 88.9,90.0 90.1,85.9C91.4,81.8 95.6,75.2 97.7,74.6C99.7,74.0 100.5,83.4 102.4,82.1C104.3,80.9 105.4,70.8 109.0,67.1Z M124.1,34.1C125.2,33.3 130.5,32.5 131.6,33.2C132.7,33.8 131.7,37.1 130.6,37.9C129.5,38.6 126.1,38.5 125.0,37.9C123.9,37.2 123.0,34.9 124.1,34.1Z" fill="#12d414" stroke="#067a3a" stroke-width="1.1"/></g>
<path d="M20.5,50.1C23.6,47.0 33.3,46.3 39.3,48.2C45.3,50.1 53.4,56.7 56.2,61.4C59.1,66.1 56.6,71.1 56.2,76.5C55.9,81.8 56.9,90.0 54.4,93.4C51.8,96.9 45.3,98.4 41.2,97.2C37.1,95.9 33.3,90.9 29.9,85.9C26.4,80.9 22.0,73.0 20.5,67.1C18.9,61.1 17.3,53.2 20.5,50.1Z" fill="#86ee10" filter="url(#roughY)"/>
<path d="M34.6,55.8C37.1,54.5 45.4,56.4 48.7,59.5C52.0,62.7 53.6,69.3 54.4,74.6C55.1,79.9 55.0,88.4 53.4,91.5C51.8,94.7 47.6,95.3 44.9,93.4C42.3,91.5 39.3,84.6 37.4,80.2C35.5,75.8 34.1,71.1 33.6,67.1C33.2,63.0 32.1,57.0 34.6,55.8Z M93.0,78.4C94.2,76.0 102.9,75.5 105.2,77.4C107.6,79.3 108.4,87.3 107.1,89.7C105.8,92.0 100.0,93.4 97.7,91.5C95.3,89.7 91.7,80.7 93.0,78.4Z M110.9,82.1C111.5,80.9 117.8,82.4 118.4,84.0C119.0,85.6 115.9,91.9 114.6,91.5C113.4,91.2 110.2,83.4 110.9,82.1Z" fill="#f4f400" filter="url(#roughY)"/>
<path d="M51.5,63.3C52.4,62.8 56.4,63.4 57.2,64.2C58.0,65.0 57.1,67.5 56.2,68.0C55.4,68.5 52.9,67.8 52.1,67.1C51.3,66.3 50.7,63.8 51.5,63.3Z M94.9,79.3C96.1,77.9 101.9,77.9 103.3,79.3C104.7,80.7 104.6,86.4 103.3,87.8C102.1,89.2 97.2,89.2 95.8,87.8C94.4,86.4 93.6,80.7 94.9,79.3Z" fill="#ff9a00" filter="url(#rough2)"/>
<path d="M102.2,83.4C102.2,84.2 101.8,85.1 101.3,85.6C100.8,86.1 99.9,86.5 99.2,86.5C98.5,86.5 97.6,86.1 97.1,85.6C96.6,85.1 96.2,84.2 96.2,83.4C96.2,82.7 96.6,81.8 97.1,81.3C97.6,80.8 98.5,80.4 99.2,80.4C99.9,80.4 100.8,80.8 101.3,81.3C101.8,81.8 102.2,82.7 102.2,83.4Z" fill="#e81400" filter="url(#rough2)"/>
<path d="M94.9,90.6C96.3,89.4 103.4,89.0 104.8,90.0C106.3,91.1 104.8,95.6 103.3,96.8C101.9,98.0 97.6,98.2 96.2,97.2C94.8,96.2 93.4,91.8 94.9,90.6Z M12.0,97.6C14.4,97.3 25.9,101.4 28.0,103.2C30.1,105.0 27.0,108.2 24.6,108.5C22.2,108.8 15.4,106.9 13.3,105.1C11.2,103.3 9.5,97.9 12.0,97.6Z M28.9,105.7C31.7,104.5 44.8,102.8 48.7,103.2C52.6,103.6 54.9,106.9 52.1,108.1C49.3,109.3 36.0,110.8 32.1,110.4C28.3,110.0 26.2,106.9 28.9,105.7Z M30.8,112.6C34.1,111.9 49.1,111.6 52.1,112.3C55.1,112.9 52.0,115.7 48.7,116.4C45.4,117.2 35.1,117.4 32.1,116.8C29.2,116.2 27.5,113.4 30.8,112.6Z M3.9,80.2C4.5,78.8 9.2,81.8 11.0,84.0C12.9,86.2 15.4,92.0 14.8,93.4C14.2,94.8 9.1,94.7 7.3,92.5C5.4,90.3 3.3,81.7 3.9,80.2Z" fill="#eaf6ff" filter="url(#rough)"/>
</g>
<g id="scene1g" clip-path="url(#clip200)">
<rect width="200" height="200" fill="#2a2a2a"/>
<rect width="200" height="200" filter="url(#texg1)" opacity="0.3"/>
<ellipse cx="97.7" cy="112.3" rx="62.2" ry="49.0" fill="none" stroke="#fff" stroke-opacity="0.015" stroke-width="12" filter="url(#blur3)"/>
<ellipse cx="105.2" cy="123.6" rx="43.3" ry="32.0" fill="none" stroke="#fff" stroke-opacity="0.015" stroke-width="12" filter="url(#blur3)"/>
<ellipse cx="109.0" cy="123.6" rx="81.0" ry="62.2" fill="none" stroke="#fff" stroke-opacity="0.015" stroke-width="12" filter="url(#blur3)"/>
<path d="M0.7,48.2C3.7,34.1 11.8,33.8 18.6,31.3C25.3,28.8 35.2,31.0 41.2,33.2C47.1,35.3 50.0,45.1 54.4,44.5C58.8,43.8 64.7,35.0 67.5,29.4C70.4,23.7 66.9,15.3 71.3,10.5C75.7,5.8 85.1,2.4 93.9,1.1C102.7,-0.1 112.8,1.4 124.1,3.0C135.4,4.6 154.2,8.2 161.7,10.5C169.3,12.9 172.4,14.6 169.3,17.1C166.1,19.7 147.9,21.7 142.9,25.6C137.9,29.5 139.1,33.2 139.1,40.7C139.1,48.2 144.1,60.1 142.9,70.8C141.6,81.5 137.9,96.6 131.6,104.7C125.3,112.9 112.8,116.7 105.2,119.8C97.7,122.9 94.5,122.3 86.4,123.6C78.2,124.8 66.0,126.4 56.2,127.3C46.5,128.3 37.3,131.1 28.0,129.2C18.7,127.3 5.2,129.5 0.7,116.0C-3.9,102.5 -2.3,62.3 0.7,48.2Z" fill="#3d3d3d" filter="url(#haloF)" opacity="0.6"/>
<path d="M71.3,1.1C76.0,-3.3 151.4,-3.3 171.1,3.0C190.9,9.3 191.5,25.0 190.0,38.8C188.4,52.6 170.2,74.3 161.7,85.9C153.2,97.5 144.1,111.6 139.1,108.5C134.1,105.4 131.0,80.2 131.6,67.1C132.2,53.9 152.9,40.4 142.9,29.4C132.8,18.4 66.6,5.5 71.3,1.1Z" fill="#3d3d3d" filter="url(#haloF)" opacity="0.4"/>
<path d="M71.3,15.3C72.6,14.2 76.3,12.9 80.7,13.4C85.1,13.8 95.5,16.0 97.7,18.1C99.9,20.1 96.7,24.2 93.9,25.6C91.1,27.0 84.2,27.5 80.7,26.6C77.3,25.6 74.8,21.8 73.2,20.0C71.6,18.1 70.1,16.4 71.3,15.3Z M75.1,27.5C76.6,24.7 85.1,23.7 90.1,21.8C95.2,20.0 102.1,16.2 105.2,16.2C108.4,16.2 110.9,19.0 109.0,21.8C107.1,24.7 98.6,30.3 93.9,33.2C89.2,36.0 83.9,39.7 80.7,38.8C77.6,37.9 73.5,30.3 75.1,27.5Z M127.8,10.5C128.9,9.4 134.7,7.9 136.3,8.7C137.9,9.4 138.3,14.1 137.2,15.3C136.1,16.5 131.3,16.6 129.7,15.8C128.1,15.0 126.7,11.7 127.8,10.5Z M156.1,13.9C156.9,13.3 160.9,12.8 161.7,13.4C162.5,13.9 161.6,16.5 160.8,17.1C160.0,17.8 157.8,17.7 157.0,17.1C156.2,16.6 155.3,14.6 156.1,13.9Z M56.2,38.8C56.9,35.7 67.2,29.7 71.3,29.4C75.4,29.1 81.4,33.8 80.7,36.9C80.1,40.1 71.6,47.9 67.5,48.2C63.5,48.5 55.6,41.9 56.2,38.8Z M56.2,119.8C59.1,118.5 68.2,119.2 75.1,117.9C82.0,116.7 93.9,112.3 97.7,112.3C101.5,112.3 101.1,115.9 97.7,117.9C94.2,120.0 83.6,123.2 77.0,124.5C70.4,125.8 61.6,126.2 58.1,125.4C54.7,124.7 53.4,121.1 56.2,119.8Z M80.7,61.4C81.7,59.5 88.3,55.4 90.1,55.8C92.0,56.1 93.0,61.4 92.0,63.3C91.1,65.2 86.4,67.4 84.5,67.1C82.6,66.7 79.8,63.3 80.7,61.4Z M0.7,82.1C2.4,79.3 7.4,78.7 11.0,80.2C14.6,81.8 19.2,87.5 22.3,91.5C25.5,95.6 29.2,101.3 29.9,104.7C30.5,108.2 29.9,112.3 26.1,112.3C22.3,112.3 11.5,107.2 7.3,104.7C3.0,102.2 1.8,101.0 0.7,97.2C-0.4,93.4 -1.0,85.0 0.7,82.1Z M131.6,76.5C132.4,75.8 135.7,76.5 136.3,77.4C136.9,78.4 136.1,81.5 135.4,82.1C134.6,82.8 132.2,82.1 131.6,81.2C131.0,80.2 130.8,77.1 131.6,76.5Z M0.7,50.1C1.9,45.7 8.1,43.2 11.0,40.7C14.0,38.2 14.5,35.7 18.6,35.0C22.7,34.4 30.5,34.7 35.5,36.9C40.5,39.1 44.6,46.7 48.7,48.2C52.8,49.8 55.6,47.9 60.0,46.3C64.4,44.8 71.3,39.4 75.1,38.8C78.8,38.2 83.9,39.7 82.6,42.6C81.4,45.4 70.1,51.0 67.5,55.8C65.0,60.5 68.5,66.7 67.5,70.8C66.6,74.9 61.9,75.8 61.9,80.2C61.9,84.6 67.5,91.9 67.5,97.2C67.5,102.5 64.4,108.2 61.9,112.3C59.4,116.3 57.8,119.2 52.5,121.7C47.1,124.2 38.0,128.9 29.9,127.3C21.7,125.8 8.4,116.0 3.5,112.3C-1.4,108.5 -1.2,108.5 0.7,104.7C2.6,101.0 14.3,95.9 14.8,89.7C15.3,83.4 5.9,73.6 3.5,67.1C1.1,60.5 -0.6,54.5 0.7,50.1Z M84.5,67.1C85.4,61.7 87.3,55.8 93.9,53.9C100.5,52.0 116.8,53.6 124.1,55.8C131.3,58.0 135.4,64.2 137.2,67.1C139.1,69.9 137.6,71.1 135.4,72.7C133.2,74.3 126.3,73.6 124.1,76.5C121.9,79.3 123.7,85.6 122.2,89.7C120.6,93.7 118.7,97.5 114.6,101.0C110.6,104.4 101.8,109.8 97.7,110.4C93.6,111.0 91.7,108.8 90.1,104.7C88.6,100.6 89.2,92.2 88.3,85.9C87.3,79.6 83.6,72.4 84.5,67.1Z M82.6,41.6C84.5,40.5 90.1,39.9 97.7,39.7C105.2,39.6 122.8,39.6 127.8,40.7C132.8,41.8 132.8,45.2 127.8,46.3C122.8,47.4 104.6,47.3 97.7,47.3C90.8,47.3 88.9,47.3 86.4,46.3C83.9,45.4 80.7,42.7 82.6,41.6Z M99.6,28.4C101.5,27.2 107.1,26.9 112.8,27.5C118.4,28.1 130.0,30.5 133.5,32.2C136.9,33.9 136.3,36.8 133.5,37.9C130.6,39.0 121.9,39.3 116.5,38.8C111.2,38.3 104.3,36.8 101.5,35.0C98.6,33.3 97.7,29.7 99.6,28.4Z M76.0,101.0C77.6,100.5 84.7,101.1 86.4,101.9C88.1,102.7 88.0,105.2 86.4,105.7C84.8,106.1 78.7,105.5 77.0,104.7C75.2,103.9 74.5,101.4 76.0,101.0Z M12.9,46.3C16.4,43.5 26.1,39.7 31.8,40.7C37.4,41.6 41.8,49.2 46.8,52.0C51.8,54.8 58.9,55.1 61.9,57.6C64.9,60.1 65.3,63.9 64.7,67.1C64.1,70.2 58.3,71.5 58.1,76.5C58.0,81.5 64.1,92.5 63.8,97.2C63.5,101.9 60.3,103.8 56.2,104.7C52.2,105.7 44.3,104.7 39.3,102.8C34.3,101.0 30.2,98.8 26.1,93.4C22.0,88.1 17.3,76.8 14.8,70.8C12.3,64.9 11.4,61.7 11.0,57.6C10.7,53.6 9.5,49.2 12.9,46.3Z M3.5,104.7C4.4,103.2 11.7,105.0 14.8,106.6C17.9,108.2 21.4,111.6 22.3,114.1C23.3,116.7 22.7,121.4 20.5,121.7C18.3,122.0 12.0,118.9 9.2,116.0C6.3,113.2 2.6,106.3 3.5,104.7Z M28.0,120.7C29.9,119.5 37.1,119.0 41.2,118.9C45.3,118.7 51.2,119.0 52.5,119.8C53.7,120.6 52.5,122.5 48.7,123.6C44.9,124.7 33.3,126.9 29.9,126.4C26.4,125.9 26.1,122.0 28.0,120.7Z M109.0,67.1C112.6,63.3 120.1,59.5 124.1,59.5C128.0,59.5 132.7,64.2 132.5,67.1C132.4,69.9 125.0,73.0 123.1,76.5C121.2,79.9 122.8,84.0 121.2,87.8C119.7,91.5 117.8,95.6 113.7,99.1C109.6,102.5 100.7,108.5 96.7,108.5C92.8,108.5 91.2,102.8 90.1,99.1C89.1,95.3 88.9,90.0 90.1,85.9C91.4,81.8 95.6,75.2 97.7,74.6C99.7,74.0 100.5,83.4 102.4,82.1C104.3,80.9 105.4,70.8 109.0,67.1Z M124.1,34.1C125.2,33.3 130.5,32.5 131.6,33.2C132.7,33.8 131.7,37.1 130.6,37.9C129.5,38.6 126.1,38.5 125.0,37.9C123.9,37.2 123.0,34.9 124.1,34.1Z" fill="#3d3d3d" stroke="#3d3d3d" stroke-width="6" stroke-linejoin="round" filter="url(#edgeF)" opacity="0.8"/>
<path d="M71.3,15.3C72.6,14.2 76.3,12.9 80.7,13.4C85.1,13.8 95.5,16.0 97.7,18.1C99.9,20.1 96.7,24.2 93.9,25.6C91.1,27.0 84.2,27.5 80.7,26.6C77.3,25.6 74.8,21.8 73.2,20.0C71.6,18.1 70.1,16.4 71.3,15.3Z M75.1,27.5C76.6,24.7 85.1,23.7 90.1,21.8C95.2,20.0 102.1,16.2 105.2,16.2C108.4,16.2 110.9,19.0 109.0,21.8C107.1,24.7 98.6,30.3 93.9,33.2C89.2,36.0 83.9,39.7 80.7,38.8C77.6,37.9 73.5,30.3 75.1,27.5Z M127.8,10.5C128.9,9.4 134.7,7.9 136.3,8.7C137.9,9.4 138.3,14.1 137.2,15.3C136.1,16.5 131.3,16.6 129.7,15.8C128.1,15.0 126.7,11.7 127.8,10.5Z M156.1,13.9C156.9,13.3 160.9,12.8 161.7,13.4C162.5,13.9 161.6,16.5 160.8,17.1C160.0,17.8 157.8,17.7 157.0,17.1C156.2,16.6 155.3,14.6 156.1,13.9Z M56.2,38.8C56.9,35.7 67.2,29.7 71.3,29.4C75.4,29.1 81.4,33.8 80.7,36.9C80.1,40.1 71.6,47.9 67.5,48.2C63.5,48.5 55.6,41.9 56.2,38.8Z M56.2,119.8C59.1,118.5 68.2,119.2 75.1,117.9C82.0,116.7 93.9,112.3 97.7,112.3C101.5,112.3 101.1,115.9 97.7,117.9C94.2,120.0 83.6,123.2 77.0,124.5C70.4,125.8 61.6,126.2 58.1,125.4C54.7,124.7 53.4,121.1 56.2,119.8Z M80.7,61.4C81.7,59.5 88.3,55.4 90.1,55.8C92.0,56.1 93.0,61.4 92.0,63.3C91.1,65.2 86.4,67.4 84.5,67.1C82.6,66.7 79.8,63.3 80.7,61.4Z M0.7,82.1C2.4,79.3 7.4,78.7 11.0,80.2C14.6,81.8 19.2,87.5 22.3,91.5C25.5,95.6 29.2,101.3 29.9,104.7C30.5,108.2 29.9,112.3 26.1,112.3C22.3,112.3 11.5,107.2 7.3,104.7C3.0,102.2 1.8,101.0 0.7,97.2C-0.4,93.4 -1.0,85.0 0.7,82.1Z M131.6,76.5C132.4,75.8 135.7,76.5 136.3,77.4C136.9,78.4 136.1,81.5 135.4,82.1C134.6,82.8 132.2,82.1 131.6,81.2C131.0,80.2 130.8,77.1 131.6,76.5Z" fill="#494949" filter="url(#roughb)"/>
<path d="M3.5,82.1C4.8,81.2 10.1,83.4 12.9,85.9C15.7,88.4 20.5,95.0 20.5,97.2C20.5,99.4 15.4,100.0 12.9,99.1C10.4,98.1 7.0,94.4 5.4,91.5C3.8,88.7 2.2,83.1 3.5,82.1Z" fill="#424242" filter="url(#roughb)"/>
<path d="M0.7,50.1C1.9,45.7 8.1,43.2 11.0,40.7C14.0,38.2 14.5,35.7 18.6,35.0C22.7,34.4 30.5,34.7 35.5,36.9C40.5,39.1 44.6,46.7 48.7,48.2C52.8,49.8 55.6,47.9 60.0,46.3C64.4,44.8 71.3,39.4 75.1,38.8C78.8,38.2 83.9,39.7 82.6,42.6C81.4,45.4 70.1,51.0 67.5,55.8C65.0,60.5 68.5,66.7 67.5,70.8C66.6,74.9 61.9,75.8 61.9,80.2C61.9,84.6 67.5,91.9 67.5,97.2C67.5,102.5 64.4,108.2 61.9,112.3C59.4,116.3 57.8,119.2 52.5,121.7C47.1,124.2 38.0,128.9 29.9,127.3C21.7,125.8 8.4,116.0 3.5,112.3C-1.4,108.5 -1.2,108.5 0.7,104.7C2.6,101.0 14.3,95.9 14.8,89.7C15.3,83.4 5.9,73.6 3.5,67.1C1.1,60.5 -0.6,54.5 0.7,50.1Z M84.5,67.1C85.4,61.7 87.3,55.8 93.9,53.9C100.5,52.0 116.8,53.6 124.1,55.8C131.3,58.0 135.4,64.2 137.2,67.1C139.1,69.9 137.6,71.1 135.4,72.7C133.2,74.3 126.3,73.6 124.1,76.5C121.9,79.3 123.7,85.6 122.2,89.7C120.6,93.7 118.7,97.5 114.6,101.0C110.6,104.4 101.8,109.8 97.7,110.4C93.6,111.0 91.7,108.8 90.1,104.7C88.6,100.6 89.2,92.2 88.3,85.9C87.3,79.6 83.6,72.4 84.5,67.1Z M82.6,41.6C84.5,40.5 90.1,39.9 97.7,39.7C105.2,39.6 122.8,39.6 127.8,40.7C132.8,41.8 132.8,45.2 127.8,46.3C122.8,47.4 104.6,47.3 97.7,47.3C90.8,47.3 88.9,47.3 86.4,46.3C83.9,45.4 80.7,42.7 82.6,41.6Z M99.6,28.4C101.5,27.2 107.1,26.9 112.8,27.5C118.4,28.1 130.0,30.5 133.5,32.2C136.9,33.9 136.3,36.8 133.5,37.9C130.6,39.0 121.9,39.3 116.5,38.8C111.2,38.3 104.3,36.8 101.5,35.0C98.6,33.3 97.7,29.7 99.6,28.4Z M76.0,101.0C77.6,100.5 84.7,101.1 86.4,101.9C88.1,102.7 88.0,105.2 86.4,105.7C84.8,106.1 78.7,105.5 77.0,104.7C75.2,103.9 74.5,101.4 76.0,101.0Z" fill="#585858" filter="url(#roughb)"/>
<path d="M12.9,46.3C16.4,43.5 26.1,39.7 31.8,40.7C37.4,41.6 41.8,49.2 46.8,52.0C51.8,54.8 58.9,55.1 61.9,57.6C64.9,60.1 65.3,63.9 64.7,67.1C64.1,70.2 58.3,71.5 58.1,76.5C58.0,81.5 64.1,92.5 63.8,97.2C63.5,101.9 60.3,103.8 56.2,104.7C52.2,105.7 44.3,104.7 39.3,102.8C34.3,101.0 30.2,98.8 26.1,93.4C22.0,88.1 17.3,76.8 14.8,70.8C12.3,64.9 11.4,61.7 11.0,57.6C10.7,53.6 9.5,49.2 12.9,46.3Z M3.5,104.7C4.4,103.2 11.7,105.0 14.8,106.6C17.9,108.2 21.4,111.6 22.3,114.1C23.3,116.7 22.7,121.4 20.5,121.7C18.3,122.0 12.0,118.9 9.2,116.0C6.3,113.2 2.6,106.3 3.5,104.7Z M28.0,120.7C29.9,119.5 37.1,119.0 41.2,118.9C45.3,118.7 51.2,119.0 52.5,119.8C53.7,120.6 52.5,122.5 48.7,123.6C44.9,124.7 33.3,126.9 29.9,126.4C26.4,125.9 26.1,122.0 28.0,120.7Z M109.0,67.1C112.6,63.3 120.1,59.5 124.1,59.5C128.0,59.5 132.7,64.2 132.5,67.1C132.4,69.9 125.0,73.0 123.1,76.5C121.2,79.9 122.8,84.0 121.2,87.8C119.7,91.5 117.8,95.6 113.7,99.1C109.6,102.5 100.7,108.5 96.7,108.5C92.8,108.5 91.2,102.8 90.1,99.1C89.1,95.3 88.9,90.0 90.1,85.9C91.4,81.8 95.6,75.2 97.7,74.6C99.7,74.0 100.5,83.4 102.4,82.1C104.3,80.9 105.4,70.8 109.0,67.1Z M124.1,34.1C125.2,33.3 130.5,32.5 131.6,33.2C132.7,33.8 131.7,37.1 130.6,37.9C129.5,38.6 126.1,38.5 125.0,37.9C123.9,37.2 123.0,34.9 124.1,34.1Z" fill="#939393" filter="url(#roughb)"/>
<path d="M20.5,50.1C23.6,47.0 33.3,46.3 39.3,48.2C45.3,50.1 53.4,56.7 56.2,61.4C59.1,66.1 56.6,71.1 56.2,76.5C55.9,81.8 56.9,90.0 54.4,93.4C51.8,96.9 45.3,98.4 41.2,97.2C37.1,95.9 33.3,90.9 29.9,85.9C26.4,80.9 22.0,73.0 20.5,67.1C18.9,61.1 17.3,53.2 20.5,50.1Z" fill="#a3a3a3" filter="url(#rough2b)"/>
<path d="M34.6,55.8C37.1,54.5 45.4,56.4 48.7,59.5C52.0,62.7 53.6,69.3 54.4,74.6C55.1,79.9 55.0,88.4 53.4,91.5C51.8,94.7 47.6,95.3 44.9,93.4C42.3,91.5 39.3,84.6 37.4,80.2C35.5,75.8 34.1,71.1 33.6,67.1C33.2,63.0 32.1,57.0 34.6,55.8Z M93.0,78.4C94.2,76.0 102.9,75.5 105.2,77.4C107.6,79.3 108.4,87.3 107.1,89.7C105.8,92.0 100.0,93.4 97.7,91.5C95.3,89.7 91.7,80.7 93.0,78.4Z M110.9,82.1C111.5,80.9 117.8,82.4 118.4,84.0C119.0,85.6 115.9,91.9 114.6,91.5C113.4,91.2 110.2,83.4 110.9,82.1Z" fill="#b0b0b0" filter="url(#rough2b)"/>
<path d="M51.5,63.3C52.4,62.8 56.4,63.4 57.2,64.2C58.0,65.0 57.1,67.5 56.2,68.0C55.4,68.5 52.9,67.8 52.1,67.1C51.3,66.3 50.7,63.8 51.5,63.3Z M94.9,79.3C96.1,77.9 101.9,77.9 103.3,79.3C104.7,80.7 104.6,86.4 103.3,87.8C102.1,89.2 97.2,89.2 95.8,87.8C94.4,86.4 93.6,80.7 94.9,79.3Z" fill="#bcbcbc" filter="url(#rough2b)"/>
<path d="M102.2,83.4C102.2,84.2 101.8,85.1 101.3,85.6C100.8,86.1 99.9,86.5 99.2,86.5C98.5,86.5 97.6,86.1 97.1,85.6C96.6,85.1 96.2,84.2 96.2,83.4C96.2,82.7 96.6,81.8 97.1,81.3C97.6,80.8 98.5,80.4 99.2,80.4C99.9,80.4 100.8,80.8 101.3,81.3C101.8,81.8 102.2,82.7 102.2,83.4Z" fill="#cdcdcd" filter="url(#rough2b)"/>
<path d="M94.9,90.6C96.3,89.4 103.4,89.0 104.8,90.0C106.3,91.1 104.8,95.6 103.3,96.8C101.9,98.0 97.6,98.2 96.2,97.2C94.8,96.2 93.4,91.8 94.9,90.6Z M12.0,97.6C14.4,97.3 25.9,101.4 28.0,103.2C30.1,105.0 27.0,108.2 24.6,108.5C22.2,108.8 15.4,106.9 13.3,105.1C11.2,103.3 9.5,97.9 12.0,97.6Z M28.9,105.7C31.7,104.5 44.8,102.8 48.7,103.2C52.6,103.6 54.9,106.9 52.1,108.1C49.3,109.3 36.0,110.8 32.1,110.4C28.3,110.0 26.2,106.9 28.9,105.7Z M30.8,112.6C34.1,111.9 49.1,111.6 52.1,112.3C55.1,112.9 52.0,115.7 48.7,116.4C45.4,117.2 35.1,117.4 32.1,116.8C29.2,116.2 27.5,113.4 30.8,112.6Z M3.9,80.2C4.5,78.8 9.2,81.8 11.0,84.0C12.9,86.2 15.4,92.0 14.8,93.4C14.2,94.8 9.1,94.7 7.3,92.5C5.4,90.3 3.3,81.7 3.9,80.2Z" fill="#555555" filter="url(#roughb)"/>
</g>
<filter id="tex2" x="0" y="0" width="100%" height="100%" color-interpolation-filters="sRGB"><feTurbulence type="fractalNoise" baseFrequency="0.04" numOctaves="4" seed="11"/><feColorMatrix type="matrix" values="0 0 0 0 1  0 0 0 0 1  0 0 0 0 1  2.6 0 0 0 -1.15"/></filter>
<filter id="texg2" x="0" y="0" width="100%" height="100%" color-interpolation-filters="sRGB"><feTurbulence type="fractalNoise" baseFrequency="0.05" numOctaves="4" seed="15"/><feColorMatrix type="matrix" values="0 0 0 0 0.32  0 0 0 0 0.32  0 0 0 0 0.32  2.6 0 0 0 -1.15"/></filter>
<g id="scene2c" clip-path="url(#clip200)">
<rect width="200" height="200" fill="url(#irbg)"/>
<rect width="200" height="200" filter="url(#tex2)" opacity="0.2"/>
<ellipse cx="97.7" cy="111.8" rx="56.5" ry="43.3" fill="none" stroke="#fff" stroke-opacity="0.1" stroke-width="12" filter="url(#blur3)"/>
<ellipse cx="105.2" cy="123.1" rx="37.7" ry="28.3" fill="none" stroke="#fff" stroke-opacity="0.1" stroke-width="12" filter="url(#blur3)"/>
<ellipse cx="109.0" cy="123.1" rx="79.1" ry="62.2" fill="none" stroke="#fff" stroke-opacity="0.1" stroke-width="12" filter="url(#blur3)"/>
<path d="M0.7,53.4C1.9,45.8 7.7,40.2 11.0,34.5C14.3,28.9 15.4,21.3 20.5,19.5C25.5,17.6 34.0,21.7 41.2,23.2C48.4,24.8 58.1,30.4 63.8,28.9C69.4,27.3 69.4,17.6 75.1,13.8C80.7,10.0 89.5,6.0 97.7,6.3C105.8,6.6 114.9,12.6 124.1,15.7C133.2,18.8 144.5,20.4 152.3,25.1C160.2,29.8 167.1,38.0 171.1,43.9C175.2,49.9 178.4,57.4 176.8,60.9C175.2,64.3 167.4,62.5 161.7,64.7C156.1,66.9 148.5,71.3 142.9,74.1C137.2,76.9 129.7,77.2 127.8,81.6C125.9,86.0 134.1,94.2 131.6,100.5C129.1,106.7 120.9,114.6 112.8,119.3C104.6,124.0 92.3,127.8 82.6,128.7C72.9,129.6 62.5,126.2 54.4,124.9C46.2,123.7 39.9,125.9 33.6,121.2C27.4,116.5 21.7,103.6 16.7,96.7C11.7,89.8 6.2,87.0 3.5,79.7C0.8,72.5 -0.6,60.9 0.7,53.4Z" fill="#f4f4f4" filter="url(#haloF)" opacity="0.58"/>
<path d="M75.1,6.3C74.5,-1.3 106.5,-2.8 124.1,2.5C141.6,7.8 171.1,27.0 180.6,38.3C190.0,49.6 186.8,63.4 180.6,70.3C174.3,77.2 151.7,83.5 142.9,79.7C134.1,76.0 139.1,60.0 127.8,47.7C116.5,35.5 75.7,13.8 75.1,6.3Z" fill="#f4f4f4" filter="url(#haloF)" opacity="0.34"/>
<path d="M20.5,22.3C21.9,21.2 27.2,20.6 29.9,21.3C32.5,22.1 36.5,25.6 36.5,27.0C36.5,28.4 32.4,29.7 29.9,29.8C27.4,30.0 23.0,29.2 21.4,27.9C19.8,26.7 19.0,23.4 20.5,22.3Z M41.2,31.7C43.1,30.3 50.4,29.0 54.4,29.8C58.3,30.6 64.4,34.5 64.7,36.4C65.0,38.3 59.9,40.8 56.2,41.1C52.6,41.4 45.6,39.9 43.1,38.3C40.5,36.7 39.3,33.1 41.2,31.7Z M16.7,36.4C18.6,34.5 26.4,33.6 29.9,34.5C33.3,35.5 39.3,40.2 37.4,42.1C35.5,43.9 22.0,46.8 18.6,45.8C15.1,44.9 14.8,38.3 16.7,36.4Z M71.3,53.4C73.8,49.6 81.4,44.9 90.1,43.9C98.9,43.0 117.8,45.2 124.1,47.7C130.3,50.2 131.0,56.5 127.8,59.0C124.7,61.5 110.9,61.5 105.2,62.8C99.6,64.0 98.9,65.9 93.9,66.5C88.9,67.2 78.8,68.7 75.1,66.5C71.3,64.3 68.8,57.1 71.3,53.4Z M122.2,25.1C124.4,23.7 131.6,22.1 135.4,23.2C139.1,24.3 143.8,29.2 144.8,31.7C145.7,34.2 143.8,37.2 141.0,38.3C138.2,39.4 131.0,39.4 127.8,38.3C124.7,37.2 123.1,33.9 122.2,31.7C121.2,29.5 120.0,26.5 122.2,25.1Z M112.8,38.3C115.6,37.0 119.7,39.9 127.8,40.2C136.0,40.5 155.6,38.9 161.7,40.2C167.8,41.4 166.4,46.1 164.6,47.7C162.7,49.3 157.2,48.7 150.4,49.6C143.7,50.5 130.6,53.7 124.1,53.4C117.5,53.0 112.8,50.2 110.9,47.7C109.0,45.2 109.9,39.5 112.8,38.3Z M152.3,55.2C153.7,54.5 159.7,55.1 160.8,56.2C161.9,57.3 160.3,61.1 158.9,61.8C157.5,62.6 153.4,62.0 152.3,60.9C151.2,59.8 150.9,56.0 152.3,55.2Z M29.9,108.0C31.8,105.3 44.0,103.6 48.7,104.2C53.4,104.8 57.2,108.9 58.1,111.8C59.1,114.6 57.8,119.8 54.4,121.2C50.9,122.6 41.5,122.4 37.4,120.2C33.3,118.0 28.0,110.7 29.9,108.0Z M60.0,117.4C61.3,116.5 67.4,118.3 71.3,118.3C75.2,118.3 82.0,116.1 83.6,117.4C85.1,118.7 84.0,124.8 80.7,125.9C77.4,127.0 67.2,125.4 63.8,124.0C60.3,122.6 58.8,118.3 60.0,117.4Z M3.5,59.0C4.1,58.1 6.5,59.0 7.3,60.9C8.1,62.8 8.8,69.4 8.2,70.3C7.6,71.3 4.3,68.4 3.5,66.5C2.7,64.7 2.9,60.0 3.5,59.0Z M0.7,66.5C1.1,65.6 5.1,71.6 6.3,74.1C7.6,76.6 8.7,80.7 8.2,81.6C7.7,82.6 4.8,82.2 3.5,79.7C2.2,77.2 0.2,67.5 0.7,66.5Z M12.0,64.7C11.4,60.0 14.0,57.8 14.8,53.4C15.6,49.0 14.2,40.8 16.7,38.3C19.2,35.8 26.1,37.4 29.9,38.3C33.6,39.2 35.2,42.4 39.3,43.9C43.4,45.5 48.2,46.1 54.4,47.7C60.5,49.3 73.5,50.2 76.0,53.4C78.5,56.5 70.8,61.8 69.4,66.5C68.0,71.3 66.9,76.0 67.5,81.6C68.2,87.3 73.5,96.1 73.2,100.5C72.9,104.8 68.8,106.1 65.7,108.0C62.5,109.9 57.2,109.6 54.4,111.8C51.5,114.0 51.8,120.2 48.7,121.2C45.6,122.1 39.6,121.5 35.5,117.4C31.4,113.3 27.0,102.6 24.2,96.7C21.4,90.7 20.6,87.0 18.6,81.6C16.5,76.3 12.6,69.4 12.0,64.7Z M67.5,45.8C68.8,42.5 78.8,39.2 82.6,36.4C86.4,33.6 87.6,29.2 90.1,28.9C92.7,28.6 94.9,33.6 97.7,34.5C100.5,35.5 105.2,33.4 107.1,34.5C109.0,35.6 111.8,38.3 109.0,41.1C106.2,43.9 95.8,49.0 90.1,51.5C84.5,54.0 78.8,57.1 75.1,56.2C71.3,55.2 66.3,49.1 67.5,45.8Z M122.2,44.9C124.4,43.9 131.0,43.8 135.4,43.9C139.8,44.1 146.5,44.7 148.5,45.8C150.6,46.9 150.4,49.6 147.6,50.5C144.8,51.5 135.8,51.6 131.6,51.5C127.3,51.3 123.7,50.7 122.2,49.6C120.6,48.5 120.0,45.8 122.2,44.9Z M129.7,55.2C131.6,53.7 140.1,53.4 142.9,54.3C145.7,55.2 147.0,59.0 146.7,60.9C146.3,62.8 143.5,65.1 141.0,65.6C138.5,66.1 133.5,65.4 131.6,63.7C129.7,62.0 127.8,56.8 129.7,55.2Z M80.7,92.9C80.4,90.2 80.4,87.9 82.6,85.4C84.8,82.9 91.2,80.4 93.9,77.8C96.6,75.3 97.1,69.7 98.6,70.3C100.2,70.9 99.7,80.7 103.3,81.6C106.9,82.6 116.8,76.3 120.3,76.0C123.7,75.7 124.4,77.8 124.1,79.7C123.7,81.6 117.8,84.8 118.4,87.3C119.0,89.8 128.8,92.6 127.8,94.8C126.9,97.0 116.5,98.1 112.8,100.5C109.0,102.8 108.4,107.2 105.2,108.9C102.1,110.7 97.4,112.1 93.9,110.8C90.5,109.6 86.7,104.4 84.5,101.4C82.3,98.4 81.0,95.6 80.7,92.9Z M63.8,117.4C66.3,117.1 78.2,119.8 80.7,121.2C83.2,122.6 81.4,125.6 78.8,125.9C76.3,126.2 68.2,124.5 65.7,123.1C63.2,121.6 61.3,117.7 63.8,117.4Z M0.5,43.9C0.9,43.5 2.4,44.3 2.8,44.9C3.1,45.5 3.1,47.2 2.8,47.7C2.4,48.2 0.9,48.3 0.5,47.7C0.1,47.1 0.1,44.4 0.5,43.9Z M15.7,55.2C18.4,50.5 26.3,42.7 32.7,42.1C39.1,41.4 47.8,49.0 54.4,51.5C61.0,54.0 70.1,54.0 72.3,57.1C74.5,60.3 68.5,65.6 67.5,70.3C66.6,75.0 65.8,80.4 66.6,85.4C67.4,90.4 73.7,96.9 72.3,100.5C70.8,104.0 64.2,105.5 58.1,106.5C52.0,107.5 41.2,108.7 35.5,106.5C29.9,104.2 27.4,98.9 24.2,92.9C21.1,86.9 18.1,76.6 16.7,70.3C15.3,64.0 13.1,60.0 15.7,55.2Z M87.3,86.3C89.2,83.5 95.6,84.0 97.7,81.6C99.7,79.3 98.8,71.9 99.6,72.2C100.4,72.5 100.2,81.3 102.4,83.5C104.6,85.7 111.0,83.2 112.8,85.4C114.5,87.6 114.0,93.2 112.8,96.7C111.5,100.2 108.4,104.8 105.2,106.5C102.1,108.1 97.1,107.8 93.9,106.5C90.8,105.2 87.5,101.9 86.4,98.6C85.3,95.2 85.4,89.2 87.3,86.3Z M46.8,115.5C47.8,114.4 52.9,113.0 54.4,113.6C55.8,114.3 56.2,118.2 55.3,119.3C54.4,120.4 50.1,120.9 48.7,120.2C47.3,119.6 45.9,116.6 46.8,115.5Z" fill="#ffffff" stroke="#ffffff" stroke-width="6.5" stroke-linejoin="round" filter="url(#edgeF)" opacity="0.95"/>
<g filter="url(#rough)"><path d="M20.5,22.3C21.9,21.2 27.2,20.6 29.9,21.3C32.5,22.1 36.5,25.6 36.5,27.0C36.5,28.4 32.4,29.7 29.9,29.8C27.4,30.0 23.0,29.2 21.4,27.9C19.8,26.7 19.0,23.4 20.5,22.3Z M41.2,31.7C43.1,30.3 50.4,29.0 54.4,29.8C58.3,30.6 64.4,34.5 64.7,36.4C65.0,38.3 59.9,40.8 56.2,41.1C52.6,41.4 45.6,39.9 43.1,38.3C40.5,36.7 39.3,33.1 41.2,31.7Z M16.7,36.4C18.6,34.5 26.4,33.6 29.9,34.5C33.3,35.5 39.3,40.2 37.4,42.1C35.5,43.9 22.0,46.8 18.6,45.8C15.1,44.9 14.8,38.3 16.7,36.4Z M71.3,53.4C73.8,49.6 81.4,44.9 90.1,43.9C98.9,43.0 117.8,45.2 124.1,47.7C130.3,50.2 131.0,56.5 127.8,59.0C124.7,61.5 110.9,61.5 105.2,62.8C99.6,64.0 98.9,65.9 93.9,66.5C88.9,67.2 78.8,68.7 75.1,66.5C71.3,64.3 68.8,57.1 71.3,53.4Z M122.2,25.1C124.4,23.7 131.6,22.1 135.4,23.2C139.1,24.3 143.8,29.2 144.8,31.7C145.7,34.2 143.8,37.2 141.0,38.3C138.2,39.4 131.0,39.4 127.8,38.3C124.7,37.2 123.1,33.9 122.2,31.7C121.2,29.5 120.0,26.5 122.2,25.1Z M112.8,38.3C115.6,37.0 119.7,39.9 127.8,40.2C136.0,40.5 155.6,38.9 161.7,40.2C167.8,41.4 166.4,46.1 164.6,47.7C162.7,49.3 157.2,48.7 150.4,49.6C143.7,50.5 130.6,53.7 124.1,53.4C117.5,53.0 112.8,50.2 110.9,47.7C109.0,45.2 109.9,39.5 112.8,38.3Z M152.3,55.2C153.7,54.5 159.7,55.1 160.8,56.2C161.9,57.3 160.3,61.1 158.9,61.8C157.5,62.6 153.4,62.0 152.3,60.9C151.2,59.8 150.9,56.0 152.3,55.2Z M29.9,108.0C31.8,105.3 44.0,103.6 48.7,104.2C53.4,104.8 57.2,108.9 58.1,111.8C59.1,114.6 57.8,119.8 54.4,121.2C50.9,122.6 41.5,122.4 37.4,120.2C33.3,118.0 28.0,110.7 29.9,108.0Z M60.0,117.4C61.3,116.5 67.4,118.3 71.3,118.3C75.2,118.3 82.0,116.1 83.6,117.4C85.1,118.7 84.0,124.8 80.7,125.9C77.4,127.0 67.2,125.4 63.8,124.0C60.3,122.6 58.8,118.3 60.0,117.4Z M3.5,59.0C4.1,58.1 6.5,59.0 7.3,60.9C8.1,62.8 8.8,69.4 8.2,70.3C7.6,71.3 4.3,68.4 3.5,66.5C2.7,64.7 2.9,60.0 3.5,59.0Z M0.7,66.5C1.1,65.6 5.1,71.6 6.3,74.1C7.6,76.6 8.7,80.7 8.2,81.6C7.7,82.6 4.8,82.2 3.5,79.7C2.2,77.2 0.2,67.5 0.7,66.5Z" fill="#2fb4ff" stroke="#7fe4ff" stroke-width="2"/></g>
<g filter="url(#roughB)"><path d="M12.0,64.7C11.4,60.0 14.0,57.8 14.8,53.4C15.6,49.0 14.2,40.8 16.7,38.3C19.2,35.8 26.1,37.4 29.9,38.3C33.6,39.2 35.2,42.4 39.3,43.9C43.4,45.5 48.2,46.1 54.4,47.7C60.5,49.3 73.5,50.2 76.0,53.4C78.5,56.5 70.8,61.8 69.4,66.5C68.0,71.3 66.9,76.0 67.5,81.6C68.2,87.3 73.5,96.1 73.2,100.5C72.9,104.8 68.8,106.1 65.7,108.0C62.5,109.9 57.2,109.6 54.4,111.8C51.5,114.0 51.8,120.2 48.7,121.2C45.6,122.1 39.6,121.5 35.5,117.4C31.4,113.3 27.0,102.6 24.2,96.7C21.4,90.7 20.6,87.0 18.6,81.6C16.5,76.3 12.6,69.4 12.0,64.7Z M67.5,45.8C68.8,42.5 78.8,39.2 82.6,36.4C86.4,33.6 87.6,29.2 90.1,28.9C92.7,28.6 94.9,33.6 97.7,34.5C100.5,35.5 105.2,33.4 107.1,34.5C109.0,35.6 111.8,38.3 109.0,41.1C106.2,43.9 95.8,49.0 90.1,51.5C84.5,54.0 78.8,57.1 75.1,56.2C71.3,55.2 66.3,49.1 67.5,45.8Z M122.2,44.9C124.4,43.9 131.0,43.8 135.4,43.9C139.8,44.1 146.5,44.7 148.5,45.8C150.6,46.9 150.4,49.6 147.6,50.5C144.8,51.5 135.8,51.6 131.6,51.5C127.3,51.3 123.7,50.7 122.2,49.6C120.6,48.5 120.0,45.8 122.2,44.9Z M129.7,55.2C131.6,53.7 140.1,53.4 142.9,54.3C145.7,55.2 147.0,59.0 146.7,60.9C146.3,62.8 143.5,65.1 141.0,65.6C138.5,66.1 133.5,65.4 131.6,63.7C129.7,62.0 127.8,56.8 129.7,55.2Z M80.7,92.9C80.4,90.2 80.4,87.9 82.6,85.4C84.8,82.9 91.2,80.4 93.9,77.8C96.6,75.3 97.1,69.7 98.6,70.3C100.2,70.9 99.7,80.7 103.3,81.6C106.9,82.6 116.8,76.3 120.3,76.0C123.7,75.7 124.4,77.8 124.1,79.7C123.7,81.6 117.8,84.8 118.4,87.3C119.0,89.8 128.8,92.6 127.8,94.8C126.9,97.0 116.5,98.1 112.8,100.5C109.0,102.8 108.4,107.2 105.2,108.9C102.1,110.7 97.4,112.1 93.9,110.8C90.5,109.6 86.7,104.4 84.5,101.4C82.3,98.4 81.0,95.6 80.7,92.9Z M63.8,117.4C66.3,117.1 78.2,119.8 80.7,121.2C83.2,122.6 81.4,125.6 78.8,125.9C76.3,126.2 68.2,124.5 65.7,123.1C63.2,121.6 61.3,117.7 63.8,117.4Z M0.5,43.9C0.9,43.5 2.4,44.3 2.8,44.9C3.1,45.5 3.1,47.2 2.8,47.7C2.4,48.2 0.9,48.3 0.5,47.7C0.1,47.1 0.1,44.4 0.5,43.9Z" fill="#0a22e6" stroke="#52d0ff" stroke-width="5" stroke-linejoin="round"/><path d="M12.0,64.7C11.4,60.0 14.0,57.8 14.8,53.4C15.6,49.0 14.2,40.8 16.7,38.3C19.2,35.8 26.1,37.4 29.9,38.3C33.6,39.2 35.2,42.4 39.3,43.9C43.4,45.5 48.2,46.1 54.4,47.7C60.5,49.3 73.5,50.2 76.0,53.4C78.5,56.5 70.8,61.8 69.4,66.5C68.0,71.3 66.9,76.0 67.5,81.6C68.2,87.3 73.5,96.1 73.2,100.5C72.9,104.8 68.8,106.1 65.7,108.0C62.5,109.9 57.2,109.6 54.4,111.8C51.5,114.0 51.8,120.2 48.7,121.2C45.6,122.1 39.6,121.5 35.5,117.4C31.4,113.3 27.0,102.6 24.2,96.7C21.4,90.7 20.6,87.0 18.6,81.6C16.5,76.3 12.6,69.4 12.0,64.7Z M67.5,45.8C68.8,42.5 78.8,39.2 82.6,36.4C86.4,33.6 87.6,29.2 90.1,28.9C92.7,28.6 94.9,33.6 97.7,34.5C100.5,35.5 105.2,33.4 107.1,34.5C109.0,35.6 111.8,38.3 109.0,41.1C106.2,43.9 95.8,49.0 90.1,51.5C84.5,54.0 78.8,57.1 75.1,56.2C71.3,55.2 66.3,49.1 67.5,45.8Z M122.2,44.9C124.4,43.9 131.0,43.8 135.4,43.9C139.8,44.1 146.5,44.7 148.5,45.8C150.6,46.9 150.4,49.6 147.6,50.5C144.8,51.5 135.8,51.6 131.6,51.5C127.3,51.3 123.7,50.7 122.2,49.6C120.6,48.5 120.0,45.8 122.2,44.9Z M129.7,55.2C131.6,53.7 140.1,53.4 142.9,54.3C145.7,55.2 147.0,59.0 146.7,60.9C146.3,62.8 143.5,65.1 141.0,65.6C138.5,66.1 133.5,65.4 131.6,63.7C129.7,62.0 127.8,56.8 129.7,55.2Z M80.7,92.9C80.4,90.2 80.4,87.9 82.6,85.4C84.8,82.9 91.2,80.4 93.9,77.8C96.6,75.3 97.1,69.7 98.6,70.3C100.2,70.9 99.7,80.7 103.3,81.6C106.9,82.6 116.8,76.3 120.3,76.0C123.7,75.7 124.4,77.8 124.1,79.7C123.7,81.6 117.8,84.8 118.4,87.3C119.0,89.8 128.8,92.6 127.8,94.8C126.9,97.0 116.5,98.1 112.8,100.5C109.0,102.8 108.4,107.2 105.2,108.9C102.1,110.7 97.4,112.1 93.9,110.8C90.5,109.6 86.7,104.4 84.5,101.4C82.3,98.4 81.0,95.6 80.7,92.9Z M63.8,117.4C66.3,117.1 78.2,119.8 80.7,121.2C83.2,122.6 81.4,125.6 78.8,125.9C76.3,126.2 68.2,124.5 65.7,123.1C63.2,121.6 61.3,117.7 63.8,117.4Z M0.5,43.9C0.9,43.5 2.4,44.3 2.8,44.9C3.1,45.5 3.1,47.2 2.8,47.7C2.4,48.2 0.9,48.3 0.5,47.7C0.1,47.1 0.1,44.4 0.5,43.9Z" fill="#0a22e6" stroke="#1272ff" stroke-width="2.4" stroke-linejoin="round"/></g>
<g filter="url(#roughG)"><path d="M15.7,55.2C18.4,50.5 26.3,42.7 32.7,42.1C39.1,41.4 47.8,49.0 54.4,51.5C61.0,54.0 70.1,54.0 72.3,57.1C74.5,60.3 68.5,65.6 67.5,70.3C66.6,75.0 65.8,80.4 66.6,85.4C67.4,90.4 73.7,96.9 72.3,100.5C70.8,104.0 64.2,105.5 58.1,106.5C52.0,107.5 41.2,108.7 35.5,106.5C29.9,104.2 27.4,98.9 24.2,92.9C21.1,86.9 18.1,76.6 16.7,70.3C15.3,64.0 13.1,60.0 15.7,55.2Z M87.3,86.3C89.2,83.5 95.6,84.0 97.7,81.6C99.7,79.3 98.8,71.9 99.6,72.2C100.4,72.5 100.2,81.3 102.4,83.5C104.6,85.7 111.0,83.2 112.8,85.4C114.5,87.6 114.0,93.2 112.8,96.7C111.5,100.2 108.4,104.8 105.2,106.5C102.1,108.1 97.1,107.8 93.9,106.5C90.8,105.2 87.5,101.9 86.4,98.6C85.3,95.2 85.4,89.2 87.3,86.3Z M46.8,115.5C47.8,114.4 52.9,113.0 54.4,113.6C55.8,114.3 56.2,118.2 55.3,119.3C54.4,120.4 50.1,120.9 48.7,120.2C47.3,119.6 45.9,116.6 46.8,115.5Z" fill="#12d414" stroke="#04207a" stroke-width="2.6" stroke-linejoin="round"/><path d="M15.7,55.2C18.4,50.5 26.3,42.7 32.7,42.1C39.1,41.4 47.8,49.0 54.4,51.5C61.0,54.0 70.1,54.0 72.3,57.1C74.5,60.3 68.5,65.6 67.5,70.3C66.6,75.0 65.8,80.4 66.6,85.4C67.4,90.4 73.7,96.9 72.3,100.5C70.8,104.0 64.2,105.5 58.1,106.5C52.0,107.5 41.2,108.7 35.5,106.5C29.9,104.2 27.4,98.9 24.2,92.9C21.1,86.9 18.1,76.6 16.7,70.3C15.3,64.0 13.1,60.0 15.7,55.2Z M87.3,86.3C89.2,83.5 95.6,84.0 97.7,81.6C99.7,79.3 98.8,71.9 99.6,72.2C100.4,72.5 100.2,81.3 102.4,83.5C104.6,85.7 111.0,83.2 112.8,85.4C114.5,87.6 114.0,93.2 112.8,96.7C111.5,100.2 108.4,104.8 105.2,106.5C102.1,108.1 97.1,107.8 93.9,106.5C90.8,105.2 87.5,101.9 86.4,98.6C85.3,95.2 85.4,89.2 87.3,86.3Z M46.8,115.5C47.8,114.4 52.9,113.0 54.4,113.6C55.8,114.3 56.2,118.2 55.3,119.3C54.4,120.4 50.1,120.9 48.7,120.2C47.3,119.6 45.9,116.6 46.8,115.5Z" fill="#12d414" stroke="#067a3a" stroke-width="1.1"/></g>
<path d="M22.3,55.2C23.6,49.0 30.2,47.9 35.5,47.7C40.9,47.6 49.0,52.4 54.4,54.3C59.7,56.2 65.7,53.8 67.5,59.0C69.4,64.2 66.9,78.8 65.7,85.4C64.4,92.0 64.1,96.4 60.0,98.6C55.9,100.8 46.5,100.8 41.2,98.6C35.8,96.4 31.1,92.6 28.0,85.4C24.9,78.2 21.1,61.5 22.3,55.2Z" fill="#86ee10" filter="url(#roughY)"/>
<path d="M31.8,59.0C33.6,55.2 39.6,53.4 44.9,53.4C50.3,53.4 60.5,54.3 63.8,59.0C67.1,63.7 65.7,75.8 64.7,81.6C63.8,87.4 61.7,92.4 58.1,93.9C54.5,95.3 47.1,93.1 43.1,90.1C39.0,87.1 35.5,81.1 33.6,76.0C31.8,70.8 29.9,62.8 31.8,59.0Z M92.0,86.3C94.5,84.6 106.2,84.0 109.0,85.4C111.8,86.8 111.5,93.1 109.0,94.8C106.5,96.5 96.7,97.2 93.9,95.7C91.1,94.3 89.5,88.1 92.0,86.3Z" fill="#f4f400" filter="url(#rough2)"/>
<path d="M39.3,66.5C41.6,63.4 50.8,57.1 54.4,57.1C57.9,57.1 60.1,61.8 60.4,66.5C60.7,71.3 58.5,81.9 56.2,85.4C54.0,88.9 49.5,89.2 46.8,87.6C44.2,86.1 41.5,79.5 40.2,76.0C39.0,72.4 36.9,69.7 39.3,66.5Z M99.6,87.3C100.8,86.3 106.0,85.9 107.1,86.9C108.2,87.8 107.4,91.9 106.2,92.9C105.0,93.9 101.0,93.9 99.9,92.9C98.8,92.0 98.4,88.3 99.6,87.3Z" fill="#ff9a00" filter="url(#roughO)"/>
</g>
<g id="scene2g" clip-path="url(#clip200)">
<rect width="200" height="200" fill="#2a2a2a"/>
<rect width="200" height="200" filter="url(#texg2)" opacity="0.3"/>
<ellipse cx="97.7" cy="111.8" rx="56.5" ry="43.3" fill="none" stroke="#fff" stroke-opacity="0.015" stroke-width="12" filter="url(#blur3)"/>
<ellipse cx="105.2" cy="123.1" rx="37.7" ry="28.3" fill="none" stroke="#fff" stroke-opacity="0.015" stroke-width="12" filter="url(#blur3)"/>
<ellipse cx="109.0" cy="123.1" rx="79.1" ry="62.2" fill="none" stroke="#fff" stroke-opacity="0.015" stroke-width="12" filter="url(#blur3)"/>
<path d="M0.7,53.4C1.9,45.8 7.7,40.2 11.0,34.5C14.3,28.9 15.4,21.3 20.5,19.5C25.5,17.6 34.0,21.7 41.2,23.2C48.4,24.8 58.1,30.4 63.8,28.9C69.4,27.3 69.4,17.6 75.1,13.8C80.7,10.0 89.5,6.0 97.7,6.3C105.8,6.6 114.9,12.6 124.1,15.7C133.2,18.8 144.5,20.4 152.3,25.1C160.2,29.8 167.1,38.0 171.1,43.9C175.2,49.9 178.4,57.4 176.8,60.9C175.2,64.3 167.4,62.5 161.7,64.7C156.1,66.9 148.5,71.3 142.9,74.1C137.2,76.9 129.7,77.2 127.8,81.6C125.9,86.0 134.1,94.2 131.6,100.5C129.1,106.7 120.9,114.6 112.8,119.3C104.6,124.0 92.3,127.8 82.6,128.7C72.9,129.6 62.5,126.2 54.4,124.9C46.2,123.7 39.9,125.9 33.6,121.2C27.4,116.5 21.7,103.6 16.7,96.7C11.7,89.8 6.2,87.0 3.5,79.7C0.8,72.5 -0.6,60.9 0.7,53.4Z" fill="#3d3d3d" filter="url(#haloF)" opacity="0.6"/>
<path d="M75.1,6.3C74.5,-1.3 106.5,-2.8 124.1,2.5C141.6,7.8 171.1,27.0 180.6,38.3C190.0,49.6 186.8,63.4 180.6,70.3C174.3,77.2 151.7,83.5 142.9,79.7C134.1,76.0 139.1,60.0 127.8,47.7C116.5,35.5 75.7,13.8 75.1,6.3Z" fill="#3d3d3d" filter="url(#haloF)" opacity="0.4"/>
<path d="M20.5,22.3C21.9,21.2 27.2,20.6 29.9,21.3C32.5,22.1 36.5,25.6 36.5,27.0C36.5,28.4 32.4,29.7 29.9,29.8C27.4,30.0 23.0,29.2 21.4,27.9C19.8,26.7 19.0,23.4 20.5,22.3Z M41.2,31.7C43.1,30.3 50.4,29.0 54.4,29.8C58.3,30.6 64.4,34.5 64.7,36.4C65.0,38.3 59.9,40.8 56.2,41.1C52.6,41.4 45.6,39.9 43.1,38.3C40.5,36.7 39.3,33.1 41.2,31.7Z M16.7,36.4C18.6,34.5 26.4,33.6 29.9,34.5C33.3,35.5 39.3,40.2 37.4,42.1C35.5,43.9 22.0,46.8 18.6,45.8C15.1,44.9 14.8,38.3 16.7,36.4Z M71.3,53.4C73.8,49.6 81.4,44.9 90.1,43.9C98.9,43.0 117.8,45.2 124.1,47.7C130.3,50.2 131.0,56.5 127.8,59.0C124.7,61.5 110.9,61.5 105.2,62.8C99.6,64.0 98.9,65.9 93.9,66.5C88.9,67.2 78.8,68.7 75.1,66.5C71.3,64.3 68.8,57.1 71.3,53.4Z M122.2,25.1C124.4,23.7 131.6,22.1 135.4,23.2C139.1,24.3 143.8,29.2 144.8,31.7C145.7,34.2 143.8,37.2 141.0,38.3C138.2,39.4 131.0,39.4 127.8,38.3C124.7,37.2 123.1,33.9 122.2,31.7C121.2,29.5 120.0,26.5 122.2,25.1Z M112.8,38.3C115.6,37.0 119.7,39.9 127.8,40.2C136.0,40.5 155.6,38.9 161.7,40.2C167.8,41.4 166.4,46.1 164.6,47.7C162.7,49.3 157.2,48.7 150.4,49.6C143.7,50.5 130.6,53.7 124.1,53.4C117.5,53.0 112.8,50.2 110.9,47.7C109.0,45.2 109.9,39.5 112.8,38.3Z M152.3,55.2C153.7,54.5 159.7,55.1 160.8,56.2C161.9,57.3 160.3,61.1 158.9,61.8C157.5,62.6 153.4,62.0 152.3,60.9C151.2,59.8 150.9,56.0 152.3,55.2Z M29.9,108.0C31.8,105.3 44.0,103.6 48.7,104.2C53.4,104.8 57.2,108.9 58.1,111.8C59.1,114.6 57.8,119.8 54.4,121.2C50.9,122.6 41.5,122.4 37.4,120.2C33.3,118.0 28.0,110.7 29.9,108.0Z M60.0,117.4C61.3,116.5 67.4,118.3 71.3,118.3C75.2,118.3 82.0,116.1 83.6,117.4C85.1,118.7 84.0,124.8 80.7,125.9C77.4,127.0 67.2,125.4 63.8,124.0C60.3,122.6 58.8,118.3 60.0,117.4Z M3.5,59.0C4.1,58.1 6.5,59.0 7.3,60.9C8.1,62.8 8.8,69.4 8.2,70.3C7.6,71.3 4.3,68.4 3.5,66.5C2.7,64.7 2.9,60.0 3.5,59.0Z M0.7,66.5C1.1,65.6 5.1,71.6 6.3,74.1C7.6,76.6 8.7,80.7 8.2,81.6C7.7,82.6 4.8,82.2 3.5,79.7C2.2,77.2 0.2,67.5 0.7,66.5Z M12.0,64.7C11.4,60.0 14.0,57.8 14.8,53.4C15.6,49.0 14.2,40.8 16.7,38.3C19.2,35.8 26.1,37.4 29.9,38.3C33.6,39.2 35.2,42.4 39.3,43.9C43.4,45.5 48.2,46.1 54.4,47.7C60.5,49.3 73.5,50.2 76.0,53.4C78.5,56.5 70.8,61.8 69.4,66.5C68.0,71.3 66.9,76.0 67.5,81.6C68.2,87.3 73.5,96.1 73.2,100.5C72.9,104.8 68.8,106.1 65.7,108.0C62.5,109.9 57.2,109.6 54.4,111.8C51.5,114.0 51.8,120.2 48.7,121.2C45.6,122.1 39.6,121.5 35.5,117.4C31.4,113.3 27.0,102.6 24.2,96.7C21.4,90.7 20.6,87.0 18.6,81.6C16.5,76.3 12.6,69.4 12.0,64.7Z M67.5,45.8C68.8,42.5 78.8,39.2 82.6,36.4C86.4,33.6 87.6,29.2 90.1,28.9C92.7,28.6 94.9,33.6 97.7,34.5C100.5,35.5 105.2,33.4 107.1,34.5C109.0,35.6 111.8,38.3 109.0,41.1C106.2,43.9 95.8,49.0 90.1,51.5C84.5,54.0 78.8,57.1 75.1,56.2C71.3,55.2 66.3,49.1 67.5,45.8Z M122.2,44.9C124.4,43.9 131.0,43.8 135.4,43.9C139.8,44.1 146.5,44.7 148.5,45.8C150.6,46.9 150.4,49.6 147.6,50.5C144.8,51.5 135.8,51.6 131.6,51.5C127.3,51.3 123.7,50.7 122.2,49.6C120.6,48.5 120.0,45.8 122.2,44.9Z M129.7,55.2C131.6,53.7 140.1,53.4 142.9,54.3C145.7,55.2 147.0,59.0 146.7,60.9C146.3,62.8 143.5,65.1 141.0,65.6C138.5,66.1 133.5,65.4 131.6,63.7C129.7,62.0 127.8,56.8 129.7,55.2Z M80.7,92.9C80.4,90.2 80.4,87.9 82.6,85.4C84.8,82.9 91.2,80.4 93.9,77.8C96.6,75.3 97.1,69.7 98.6,70.3C100.2,70.9 99.7,80.7 103.3,81.6C106.9,82.6 116.8,76.3 120.3,76.0C123.7,75.7 124.4,77.8 124.1,79.7C123.7,81.6 117.8,84.8 118.4,87.3C119.0,89.8 128.8,92.6 127.8,94.8C126.9,97.0 116.5,98.1 112.8,100.5C109.0,102.8 108.4,107.2 105.2,108.9C102.1,110.7 97.4,112.1 93.9,110.8C90.5,109.6 86.7,104.4 84.5,101.4C82.3,98.4 81.0,95.6 80.7,92.9Z M63.8,117.4C66.3,117.1 78.2,119.8 80.7,121.2C83.2,122.6 81.4,125.6 78.8,125.9C76.3,126.2 68.2,124.5 65.7,123.1C63.2,121.6 61.3,117.7 63.8,117.4Z M0.5,43.9C0.9,43.5 2.4,44.3 2.8,44.9C3.1,45.5 3.1,47.2 2.8,47.7C2.4,48.2 0.9,48.3 0.5,47.7C0.1,47.1 0.1,44.4 0.5,43.9Z M15.7,55.2C18.4,50.5 26.3,42.7 32.7,42.1C39.1,41.4 47.8,49.0 54.4,51.5C61.0,54.0 70.1,54.0 72.3,57.1C74.5,60.3 68.5,65.6 67.5,70.3C66.6,75.0 65.8,80.4 66.6,85.4C67.4,90.4 73.7,96.9 72.3,100.5C70.8,104.0 64.2,105.5 58.1,106.5C52.0,107.5 41.2,108.7 35.5,106.5C29.9,104.2 27.4,98.9 24.2,92.9C21.1,86.9 18.1,76.6 16.7,70.3C15.3,64.0 13.1,60.0 15.7,55.2Z M87.3,86.3C89.2,83.5 95.6,84.0 97.7,81.6C99.7,79.3 98.8,71.9 99.6,72.2C100.4,72.5 100.2,81.3 102.4,83.5C104.6,85.7 111.0,83.2 112.8,85.4C114.5,87.6 114.0,93.2 112.8,96.7C111.5,100.2 108.4,104.8 105.2,106.5C102.1,108.1 97.1,107.8 93.9,106.5C90.8,105.2 87.5,101.9 86.4,98.6C85.3,95.2 85.4,89.2 87.3,86.3Z M46.8,115.5C47.8,114.4 52.9,113.0 54.4,113.6C55.8,114.3 56.2,118.2 55.3,119.3C54.4,120.4 50.1,120.9 48.7,120.2C47.3,119.6 45.9,116.6 46.8,115.5Z" fill="#3d3d3d" stroke="#3d3d3d" stroke-width="6" stroke-linejoin="round" filter="url(#edgeF)" opacity="0.8"/>
<path d="M20.5,22.3C21.9,21.2 27.2,20.6 29.9,21.3C32.5,22.1 36.5,25.6 36.5,27.0C36.5,28.4 32.4,29.7 29.9,29.8C27.4,30.0 23.0,29.2 21.4,27.9C19.8,26.7 19.0,23.4 20.5,22.3Z M41.2,31.7C43.1,30.3 50.4,29.0 54.4,29.8C58.3,30.6 64.4,34.5 64.7,36.4C65.0,38.3 59.9,40.8 56.2,41.1C52.6,41.4 45.6,39.9 43.1,38.3C40.5,36.7 39.3,33.1 41.2,31.7Z M16.7,36.4C18.6,34.5 26.4,33.6 29.9,34.5C33.3,35.5 39.3,40.2 37.4,42.1C35.5,43.9 22.0,46.8 18.6,45.8C15.1,44.9 14.8,38.3 16.7,36.4Z M71.3,53.4C73.8,49.6 81.4,44.9 90.1,43.9C98.9,43.0 117.8,45.2 124.1,47.7C130.3,50.2 131.0,56.5 127.8,59.0C124.7,61.5 110.9,61.5 105.2,62.8C99.6,64.0 98.9,65.9 93.9,66.5C88.9,67.2 78.8,68.7 75.1,66.5C71.3,64.3 68.8,57.1 71.3,53.4Z M122.2,25.1C124.4,23.7 131.6,22.1 135.4,23.2C139.1,24.3 143.8,29.2 144.8,31.7C145.7,34.2 143.8,37.2 141.0,38.3C138.2,39.4 131.0,39.4 127.8,38.3C124.7,37.2 123.1,33.9 122.2,31.7C121.2,29.5 120.0,26.5 122.2,25.1Z M112.8,38.3C115.6,37.0 119.7,39.9 127.8,40.2C136.0,40.5 155.6,38.9 161.7,40.2C167.8,41.4 166.4,46.1 164.6,47.7C162.7,49.3 157.2,48.7 150.4,49.6C143.7,50.5 130.6,53.7 124.1,53.4C117.5,53.0 112.8,50.2 110.9,47.7C109.0,45.2 109.9,39.5 112.8,38.3Z M152.3,55.2C153.7,54.5 159.7,55.1 160.8,56.2C161.9,57.3 160.3,61.1 158.9,61.8C157.5,62.6 153.4,62.0 152.3,60.9C151.2,59.8 150.9,56.0 152.3,55.2Z M29.9,108.0C31.8,105.3 44.0,103.6 48.7,104.2C53.4,104.8 57.2,108.9 58.1,111.8C59.1,114.6 57.8,119.8 54.4,121.2C50.9,122.6 41.5,122.4 37.4,120.2C33.3,118.0 28.0,110.7 29.9,108.0Z M60.0,117.4C61.3,116.5 67.4,118.3 71.3,118.3C75.2,118.3 82.0,116.1 83.6,117.4C85.1,118.7 84.0,124.8 80.7,125.9C77.4,127.0 67.2,125.4 63.8,124.0C60.3,122.6 58.8,118.3 60.0,117.4Z M3.5,59.0C4.1,58.1 6.5,59.0 7.3,60.9C8.1,62.8 8.8,69.4 8.2,70.3C7.6,71.3 4.3,68.4 3.5,66.5C2.7,64.7 2.9,60.0 3.5,59.0Z M0.7,66.5C1.1,65.6 5.1,71.6 6.3,74.1C7.6,76.6 8.7,80.7 8.2,81.6C7.7,82.6 4.8,82.2 3.5,79.7C2.2,77.2 0.2,67.5 0.7,66.5Z" fill="#494949" filter="url(#roughb)"/>
<path d="M12.0,64.7C11.4,60.0 14.0,57.8 14.8,53.4C15.6,49.0 14.2,40.8 16.7,38.3C19.2,35.8 26.1,37.4 29.9,38.3C33.6,39.2 35.2,42.4 39.3,43.9C43.4,45.5 48.2,46.1 54.4,47.7C60.5,49.3 73.5,50.2 76.0,53.4C78.5,56.5 70.8,61.8 69.4,66.5C68.0,71.3 66.9,76.0 67.5,81.6C68.2,87.3 73.5,96.1 73.2,100.5C72.9,104.8 68.8,106.1 65.7,108.0C62.5,109.9 57.2,109.6 54.4,111.8C51.5,114.0 51.8,120.2 48.7,121.2C45.6,122.1 39.6,121.5 35.5,117.4C31.4,113.3 27.0,102.6 24.2,96.7C21.4,90.7 20.6,87.0 18.6,81.6C16.5,76.3 12.6,69.4 12.0,64.7Z M67.5,45.8C68.8,42.5 78.8,39.2 82.6,36.4C86.4,33.6 87.6,29.2 90.1,28.9C92.7,28.6 94.9,33.6 97.7,34.5C100.5,35.5 105.2,33.4 107.1,34.5C109.0,35.6 111.8,38.3 109.0,41.1C106.2,43.9 95.8,49.0 90.1,51.5C84.5,54.0 78.8,57.1 75.1,56.2C71.3,55.2 66.3,49.1 67.5,45.8Z M122.2,44.9C124.4,43.9 131.0,43.8 135.4,43.9C139.8,44.1 146.5,44.7 148.5,45.8C150.6,46.9 150.4,49.6 147.6,50.5C144.8,51.5 135.8,51.6 131.6,51.5C127.3,51.3 123.7,50.7 122.2,49.6C120.6,48.5 120.0,45.8 122.2,44.9Z M129.7,55.2C131.6,53.7 140.1,53.4 142.9,54.3C145.7,55.2 147.0,59.0 146.7,60.9C146.3,62.8 143.5,65.1 141.0,65.6C138.5,66.1 133.5,65.4 131.6,63.7C129.7,62.0 127.8,56.8 129.7,55.2Z M80.7,92.9C80.4,90.2 80.4,87.9 82.6,85.4C84.8,82.9 91.2,80.4 93.9,77.8C96.6,75.3 97.1,69.7 98.6,70.3C100.2,70.9 99.7,80.7 103.3,81.6C106.9,82.6 116.8,76.3 120.3,76.0C123.7,75.7 124.4,77.8 124.1,79.7C123.7,81.6 117.8,84.8 118.4,87.3C119.0,89.8 128.8,92.6 127.8,94.8C126.9,97.0 116.5,98.1 112.8,100.5C109.0,102.8 108.4,107.2 105.2,108.9C102.1,110.7 97.4,112.1 93.9,110.8C90.5,109.6 86.7,104.4 84.5,101.4C82.3,98.4 81.0,95.6 80.7,92.9Z M63.8,117.4C66.3,117.1 78.2,119.8 80.7,121.2C83.2,122.6 81.4,125.6 78.8,125.9C76.3,126.2 68.2,124.5 65.7,123.1C63.2,121.6 61.3,117.7 63.8,117.4Z M0.5,43.9C0.9,43.5 2.4,44.3 2.8,44.9C3.1,45.5 3.1,47.2 2.8,47.7C2.4,48.2 0.9,48.3 0.5,47.7C0.1,47.1 0.1,44.4 0.5,43.9Z" fill="#585858" filter="url(#roughb)"/>
<path d="M15.7,55.2C18.4,50.5 26.3,42.7 32.7,42.1C39.1,41.4 47.8,49.0 54.4,51.5C61.0,54.0 70.1,54.0 72.3,57.1C74.5,60.3 68.5,65.6 67.5,70.3C66.6,75.0 65.8,80.4 66.6,85.4C67.4,90.4 73.7,96.9 72.3,100.5C70.8,104.0 64.2,105.5 58.1,106.5C52.0,107.5 41.2,108.7 35.5,106.5C29.9,104.2 27.4,98.9 24.2,92.9C21.1,86.9 18.1,76.6 16.7,70.3C15.3,64.0 13.1,60.0 15.7,55.2Z M87.3,86.3C89.2,83.5 95.6,84.0 97.7,81.6C99.7,79.3 98.8,71.9 99.6,72.2C100.4,72.5 100.2,81.3 102.4,83.5C104.6,85.7 111.0,83.2 112.8,85.4C114.5,87.6 114.0,93.2 112.8,96.7C111.5,100.2 108.4,104.8 105.2,106.5C102.1,108.1 97.1,107.8 93.9,106.5C90.8,105.2 87.5,101.9 86.4,98.6C85.3,95.2 85.4,89.2 87.3,86.3Z M46.8,115.5C47.8,114.4 52.9,113.0 54.4,113.6C55.8,114.3 56.2,118.2 55.3,119.3C54.4,120.4 50.1,120.9 48.7,120.2C47.3,119.6 45.9,116.6 46.8,115.5Z" fill="#939393" filter="url(#roughb)"/>
<path d="M22.3,55.2C23.6,49.0 30.2,47.9 35.5,47.7C40.9,47.6 49.0,52.4 54.4,54.3C59.7,56.2 65.7,53.8 67.5,59.0C69.4,64.2 66.9,78.8 65.7,85.4C64.4,92.0 64.1,96.4 60.0,98.6C55.9,100.8 46.5,100.8 41.2,98.6C35.8,96.4 31.1,92.6 28.0,85.4C24.9,78.2 21.1,61.5 22.3,55.2Z" fill="#a3a3a3" filter="url(#rough2b)"/>
<path d="M31.8,59.0C33.6,55.2 39.6,53.4 44.9,53.4C50.3,53.4 60.5,54.3 63.8,59.0C67.1,63.7 65.7,75.8 64.7,81.6C63.8,87.4 61.7,92.4 58.1,93.9C54.5,95.3 47.1,93.1 43.1,90.1C39.0,87.1 35.5,81.1 33.6,76.0C31.8,70.8 29.9,62.8 31.8,59.0Z M92.0,86.3C94.5,84.6 106.2,84.0 109.0,85.4C111.8,86.8 111.5,93.1 109.0,94.8C106.5,96.5 96.7,97.2 93.9,95.7C91.1,94.3 89.5,88.1 92.0,86.3Z" fill="#b0b0b0" filter="url(#rough2b)"/>
<path d="M39.3,66.5C41.6,63.4 50.8,57.1 54.4,57.1C57.9,57.1 60.1,61.8 60.4,66.5C60.7,71.3 58.5,81.9 56.2,85.4C54.0,88.9 49.5,89.2 46.8,87.6C44.2,86.1 41.5,79.5 40.2,76.0C39.0,72.4 36.9,69.7 39.3,66.5Z M99.6,87.3C100.8,86.3 106.0,85.9 107.1,86.9C108.2,87.8 107.4,91.9 106.2,92.9C105.0,93.9 101.0,93.9 99.9,92.9C98.8,92.0 98.4,88.3 99.6,87.3Z" fill="#b6b6b6" filter="url(#rough2b)"/>
</g>
<filter id="tex3" x="0" y="0" width="100%" height="100%" color-interpolation-filters="sRGB"><feTurbulence type="fractalNoise" baseFrequency="0.04" numOctaves="4" seed="14"/><feColorMatrix type="matrix" values="0 0 0 0 1  0 0 0 0 1  0 0 0 0 1  2.6 0 0 0 -1.15"/></filter>
<filter id="texg3" x="0" y="0" width="100%" height="100%" color-interpolation-filters="sRGB"><feTurbulence type="fractalNoise" baseFrequency="0.05" numOctaves="4" seed="18"/><feColorMatrix type="matrix" values="0 0 0 0 0.32  0 0 0 0 0.32  0 0 0 0 0.32  2.6 0 0 0 -1.15"/></filter>
<g id="scene3c" clip-path="url(#clip200)">
<rect width="200" height="200" fill="url(#irbg)"/>
<rect width="200" height="200" filter="url(#tex3)" opacity="0.2"/>
<ellipse cx="90.1" cy="126.5" rx="62.2" ry="47.1" fill="none" stroke="#fff" stroke-opacity="0.1" stroke-width="12" filter="url(#blur3)"/>
<ellipse cx="97.7" cy="134.1" rx="43.3" ry="32.0" fill="none" stroke="#fff" stroke-opacity="0.1" stroke-width="12" filter="url(#blur3)"/>
<ellipse cx="105.2" cy="134.1" rx="84.8" ry="65.9" fill="none" stroke="#fff" stroke-opacity="0.1" stroke-width="12" filter="url(#blur3)"/>
<path d="M3.5,70.0C4.1,64.0 15.1,49.3 18.6,43.6C22.0,38.0 20.8,41.1 24.2,36.1C27.7,31.1 32.7,17.9 39.3,13.5C45.9,9.1 59.1,7.2 63.8,9.7C68.5,12.2 63.2,24.8 67.5,28.6C71.9,32.3 80.1,32.7 90.1,32.3C100.2,32.0 117.1,26.4 127.8,26.7C138.5,27.0 146.7,29.8 154.2,34.2C161.7,38.6 168.3,47.1 173.0,53.1C177.7,59.0 184.3,65.3 182.4,70.0C180.6,74.7 167.7,76.3 161.7,81.3C155.8,86.3 152.9,97.6 146.7,100.2C140.4,102.7 129.7,95.1 124.1,96.4C118.4,97.6 116.5,103.9 112.8,107.7C109.0,111.5 107.4,115.7 101.5,119.0C95.5,122.3 85.1,127.5 77.0,127.5C68.8,127.5 60.3,122.6 52.5,119.0C44.6,115.4 36.2,112.4 29.9,105.8C23.6,99.2 19.2,85.4 14.8,79.4C10.4,73.5 2.9,76.0 3.5,70.0Z M144.4,119.0C144.4,120.1 144.0,121.5 143.4,122.3C142.8,123.1 141.8,123.7 141.0,123.7C140.2,123.7 139.2,123.1 138.6,122.3C138.0,121.5 137.6,120.1 137.6,119.0C137.6,117.9 138.0,116.4 138.6,115.7C139.2,114.9 140.2,114.3 141.0,114.3C141.8,114.3 142.8,114.9 143.4,115.7C144.0,116.4 144.4,117.9 144.4,119.0Z" fill="#f4f4f4" filter="url(#haloF)" opacity="0.58"/>
<path d="M0.7,0.3C8.7,-6.0 42.3,-6.0 48.7,0.3C55.1,6.6 45.6,30.1 39.3,38.0C33.0,45.8 17.5,47.4 11.0,47.4C4.6,47.4 2.4,45.8 0.7,38.0C-1.0,30.1 -7.3,6.6 0.7,0.3Z M112.8,96.4C120.9,90.1 150.4,82.6 161.7,81.3C173.0,80.1 183.7,81.9 180.6,88.8C177.4,95.8 154.2,117.7 142.9,122.8C131.6,127.8 117.8,123.4 112.8,119.0C107.7,114.6 104.6,102.7 112.8,96.4Z" fill="#f4f4f4" filter="url(#haloF)" opacity="0.34"/>
<path d="M80.7,54.9C82.6,50.9 88.6,45.2 93.9,41.8C99.3,38.3 106.5,36.4 112.8,34.2C119.0,32.0 125.0,28.3 131.6,28.6C138.2,28.9 146.3,32.3 152.3,36.1C158.3,39.9 162.7,45.8 167.4,51.2C172.1,56.5 180.9,65.0 180.6,68.1C180.2,71.3 169.3,67.8 165.5,70.0C161.7,72.2 161.7,76.8 158.0,81.3C154.2,85.9 148.5,95.9 142.9,97.3C137.2,98.7 130.3,92.5 124.1,89.8C117.8,87.1 112.1,85.2 105.2,81.3C98.3,77.4 86.7,70.6 82.6,66.2C78.5,61.9 78.8,59.0 80.7,54.9Z M63.8,34.2C66.8,32.8 77.0,31.1 80.7,31.4C84.5,31.7 88.0,34.2 86.4,36.1C84.8,38.0 75.2,42.1 71.3,42.7C67.4,43.3 64.1,41.3 62.8,39.9C61.6,38.5 60.8,35.6 63.8,34.2Z M20.5,45.5C21.1,43.0 26.4,38.9 29.9,39.9C33.3,40.8 41.8,48.7 41.2,51.2C40.5,53.7 29.6,55.9 26.1,54.9C22.7,54.0 19.8,48.0 20.5,45.5Z M7.3,66.2C9.2,65.6 18.6,66.6 20.5,68.1C22.3,69.7 20.5,75.0 18.6,75.7C16.7,76.3 11.0,73.5 9.2,71.9C7.3,70.3 5.4,66.9 7.3,66.2Z M0.5,60.6C1.3,60.2 4.6,60.5 5.4,61.0C6.1,61.5 5.8,63.2 5.0,63.6C4.2,64.0 1.2,64.1 0.5,63.6C-0.3,63.1 -0.3,61.0 0.5,60.6Z M39.3,15.4C40.2,14.1 44.6,12.6 48.7,12.6C52.8,12.6 61.4,14.0 63.8,15.4C66.1,16.8 64.4,20.4 62.8,21.0C61.3,21.7 57.7,19.3 54.4,19.2C51.1,19.0 45.6,20.7 43.1,20.1C40.5,19.5 38.3,16.6 39.3,15.4Z M48.7,22.9C49.3,21.4 57.2,21.5 60.0,22.9C62.8,24.3 66.3,29.8 65.7,31.4C65.0,33.0 59.1,33.8 56.2,32.3C53.4,30.9 48.1,24.5 48.7,22.9Z M20.5,47.4C21.1,44.3 22.7,41.4 26.1,41.8C29.6,42.1 36.2,48.7 41.2,49.3C46.2,49.9 51.2,44.9 56.2,45.5C61.3,46.2 66.9,50.5 71.3,53.1C75.7,55.6 81.4,57.5 82.6,60.6C83.9,63.7 78.2,68.8 78.8,71.9C79.5,75.0 83.2,78.8 86.4,79.4C89.5,80.1 94.5,74.1 97.7,75.7C100.8,77.2 103.6,84.8 105.2,88.8C106.9,92.9 108.7,96.1 107.5,100.2C106.2,104.2 102.8,109.5 97.7,113.3C92.6,117.2 84.2,123.0 77.0,123.1C69.7,123.3 60.0,116.2 54.4,114.3C48.7,112.4 47.1,114.8 43.1,111.8C39.0,108.8 34.0,102.4 29.9,96.4C25.8,90.4 22.2,79.9 18.6,75.7C15.0,71.4 9.8,72.5 8.2,71.0C6.6,69.4 6.8,68.0 9.2,66.2C11.5,64.5 20.5,63.7 22.3,60.6C24.2,57.5 19.8,50.5 20.5,47.4Z M67.5,46.5C68.5,44.4 80.1,47.7 86.4,47.4C92.7,47.1 100.8,43.3 105.2,44.6C109.6,45.8 114.0,52.7 112.8,54.9C111.5,57.1 103.0,57.0 97.7,57.8C92.3,58.6 85.8,61.5 80.7,59.7C75.7,57.8 66.6,48.5 67.5,46.5Z M120.3,43.6C121.5,41.6 128.4,41.4 131.6,42.7C134.7,44.0 138.5,48.7 139.1,51.2C139.8,53.7 137.9,57.1 135.4,57.8C132.8,58.4 126.6,57.3 124.1,54.9C121.5,52.6 119.0,45.7 120.3,43.6Z M97.7,77.5C99.9,76.4 110.2,78.2 116.5,78.5C122.8,78.8 132.5,78.2 135.4,79.4C138.2,80.7 137.2,84.8 133.5,86.0C129.7,87.3 117.8,87.1 112.8,87.0C107.7,86.8 105.8,86.7 103.3,85.1C100.8,83.5 95.5,78.6 97.7,77.5Z M40.2,16.3C42.4,15.7 58.1,14.5 61.9,15.0C65.7,15.5 65.0,18.5 62.8,19.2C60.6,19.8 52.5,19.3 48.7,18.8C44.9,18.3 38.0,17.0 40.2,16.3Z M54.4,25.2C55.5,24.2 62.1,23.8 63.8,24.8C65.5,25.8 65.8,30.5 64.7,31.4C63.6,32.3 58.9,31.5 57.2,30.5C55.5,29.4 53.3,26.1 54.4,25.2Z M24.2,60.6C26.7,57.1 32.4,54.6 37.4,53.1C42.4,51.5 48.7,50.5 54.4,51.2C60.0,51.8 67.2,54.3 71.3,56.8C75.5,59.3 79.2,63.4 79.2,66.2C79.2,69.1 73.6,70.6 71.3,73.8C69.1,76.9 65.3,82.5 65.7,85.1C66.0,87.7 69.7,90.1 73.2,89.2C76.6,88.3 82.0,80.8 86.4,79.8C90.8,78.8 96.4,80.4 99.6,83.2C102.7,86.0 106.2,91.4 105.2,96.4C104.3,101.4 98.6,109.3 93.9,113.3C89.2,117.3 83.2,120.6 77.0,120.3C70.7,120.0 61.9,114.2 56.2,111.5C50.6,108.7 47.5,107.7 43.1,103.9C38.7,100.2 33.3,93.9 29.9,88.8C26.4,83.8 23.3,78.5 22.3,73.8C21.4,69.1 21.7,64.0 24.2,60.6Z" fill="#ffffff" stroke="#ffffff" stroke-width="6.5" stroke-linejoin="round" filter="url(#edgeF)" opacity="0.95"/>
<g filter="url(#rough)"><path d="M80.7,54.9C82.6,50.9 88.6,45.2 93.9,41.8C99.3,38.3 106.5,36.4 112.8,34.2C119.0,32.0 125.0,28.3 131.6,28.6C138.2,28.9 146.3,32.3 152.3,36.1C158.3,39.9 162.7,45.8 167.4,51.2C172.1,56.5 180.9,65.0 180.6,68.1C180.2,71.3 169.3,67.8 165.5,70.0C161.7,72.2 161.7,76.8 158.0,81.3C154.2,85.9 148.5,95.9 142.9,97.3C137.2,98.7 130.3,92.5 124.1,89.8C117.8,87.1 112.1,85.2 105.2,81.3C98.3,77.4 86.7,70.6 82.6,66.2C78.5,61.9 78.8,59.0 80.7,54.9Z M63.8,34.2C66.8,32.8 77.0,31.1 80.7,31.4C84.5,31.7 88.0,34.2 86.4,36.1C84.8,38.0 75.2,42.1 71.3,42.7C67.4,43.3 64.1,41.3 62.8,39.9C61.6,38.5 60.8,35.6 63.8,34.2Z M20.5,45.5C21.1,43.0 26.4,38.9 29.9,39.9C33.3,40.8 41.8,48.7 41.2,51.2C40.5,53.7 29.6,55.9 26.1,54.9C22.7,54.0 19.8,48.0 20.5,45.5Z M7.3,66.2C9.2,65.6 18.6,66.6 20.5,68.1C22.3,69.7 20.5,75.0 18.6,75.7C16.7,76.3 11.0,73.5 9.2,71.9C7.3,70.3 5.4,66.9 7.3,66.2Z M0.5,60.6C1.3,60.2 4.6,60.5 5.4,61.0C6.1,61.5 5.8,63.2 5.0,63.6C4.2,64.0 1.2,64.1 0.5,63.6C-0.3,63.1 -0.3,61.0 0.5,60.6Z M39.3,15.4C40.2,14.1 44.6,12.6 48.7,12.6C52.8,12.6 61.4,14.0 63.8,15.4C66.1,16.8 64.4,20.4 62.8,21.0C61.3,21.7 57.7,19.3 54.4,19.2C51.1,19.0 45.6,20.7 43.1,20.1C40.5,19.5 38.3,16.6 39.3,15.4Z M48.7,22.9C49.3,21.4 57.2,21.5 60.0,22.9C62.8,24.3 66.3,29.8 65.7,31.4C65.0,33.0 59.1,33.8 56.2,32.3C53.4,30.9 48.1,24.5 48.7,22.9Z" fill="#2fb4ff" stroke="#7fe4ff" stroke-width="2"/></g>
<path d="M116.5,36.1C119.0,34.1 133.5,33.4 137.2,35.2C141.0,36.9 141.6,44.4 139.1,46.5C136.6,48.5 125.9,49.1 122.2,47.4C118.4,45.7 114.0,38.1 116.5,36.1Z M110.9,60.6C114.0,59.7 122.5,60.3 127.8,62.5C133.2,64.7 140.7,70.3 142.9,73.8C145.1,77.2 144.1,82.9 141.0,83.2C137.9,83.5 129.4,78.2 124.1,75.7C118.7,73.2 111.2,70.6 109.0,68.1C106.8,65.6 107.7,61.5 110.9,60.6Z M141.0,47.4C143.5,45.2 152.9,43.3 156.1,45.5C159.2,47.7 161.4,56.8 159.8,60.6C158.3,64.4 149.8,68.4 146.7,68.1C143.5,67.8 141.9,62.2 141.0,58.7C140.1,55.3 138.5,49.6 141.0,47.4Z" fill="#f2f2f2" filter="url(#rough)"/>
<g filter="url(#roughB)"><path d="M20.5,47.4C21.1,44.3 22.7,41.4 26.1,41.8C29.6,42.1 36.2,48.7 41.2,49.3C46.2,49.9 51.2,44.9 56.2,45.5C61.3,46.2 66.9,50.5 71.3,53.1C75.7,55.6 81.4,57.5 82.6,60.6C83.9,63.7 78.2,68.8 78.8,71.9C79.5,75.0 83.2,78.8 86.4,79.4C89.5,80.1 94.5,74.1 97.7,75.7C100.8,77.2 103.6,84.8 105.2,88.8C106.9,92.9 108.7,96.1 107.5,100.2C106.2,104.2 102.8,109.5 97.7,113.3C92.6,117.2 84.2,123.0 77.0,123.1C69.7,123.3 60.0,116.2 54.4,114.3C48.7,112.4 47.1,114.8 43.1,111.8C39.0,108.8 34.0,102.4 29.9,96.4C25.8,90.4 22.2,79.9 18.6,75.7C15.0,71.4 9.8,72.5 8.2,71.0C6.6,69.4 6.8,68.0 9.2,66.2C11.5,64.5 20.5,63.7 22.3,60.6C24.2,57.5 19.8,50.5 20.5,47.4Z M67.5,46.5C68.5,44.4 80.1,47.7 86.4,47.4C92.7,47.1 100.8,43.3 105.2,44.6C109.6,45.8 114.0,52.7 112.8,54.9C111.5,57.1 103.0,57.0 97.7,57.8C92.3,58.6 85.8,61.5 80.7,59.7C75.7,57.8 66.6,48.5 67.5,46.5Z M120.3,43.6C121.5,41.6 128.4,41.4 131.6,42.7C134.7,44.0 138.5,48.7 139.1,51.2C139.8,53.7 137.9,57.1 135.4,57.8C132.8,58.4 126.6,57.3 124.1,54.9C121.5,52.6 119.0,45.7 120.3,43.6Z M97.7,77.5C99.9,76.4 110.2,78.2 116.5,78.5C122.8,78.8 132.5,78.2 135.4,79.4C138.2,80.7 137.2,84.8 133.5,86.0C129.7,87.3 117.8,87.1 112.8,87.0C107.7,86.8 105.8,86.7 103.3,85.1C100.8,83.5 95.5,78.6 97.7,77.5Z M40.2,16.3C42.4,15.7 58.1,14.5 61.9,15.0C65.7,15.5 65.0,18.5 62.8,19.2C60.6,19.8 52.5,19.3 48.7,18.8C44.9,18.3 38.0,17.0 40.2,16.3Z M54.4,25.2C55.5,24.2 62.1,23.8 63.8,24.8C65.5,25.8 65.8,30.5 64.7,31.4C63.6,32.3 58.9,31.5 57.2,30.5C55.5,29.4 53.3,26.1 54.4,25.2Z" fill="#0a22e6" stroke="#52d0ff" stroke-width="5" stroke-linejoin="round"/><path d="M20.5,47.4C21.1,44.3 22.7,41.4 26.1,41.8C29.6,42.1 36.2,48.7 41.2,49.3C46.2,49.9 51.2,44.9 56.2,45.5C61.3,46.2 66.9,50.5 71.3,53.1C75.7,55.6 81.4,57.5 82.6,60.6C83.9,63.7 78.2,68.8 78.8,71.9C79.5,75.0 83.2,78.8 86.4,79.4C89.5,80.1 94.5,74.1 97.7,75.7C100.8,77.2 103.6,84.8 105.2,88.8C106.9,92.9 108.7,96.1 107.5,100.2C106.2,104.2 102.8,109.5 97.7,113.3C92.6,117.2 84.2,123.0 77.0,123.1C69.7,123.3 60.0,116.2 54.4,114.3C48.7,112.4 47.1,114.8 43.1,111.8C39.0,108.8 34.0,102.4 29.9,96.4C25.8,90.4 22.2,79.9 18.6,75.7C15.0,71.4 9.8,72.5 8.2,71.0C6.6,69.4 6.8,68.0 9.2,66.2C11.5,64.5 20.5,63.7 22.3,60.6C24.2,57.5 19.8,50.5 20.5,47.4Z M67.5,46.5C68.5,44.4 80.1,47.7 86.4,47.4C92.7,47.1 100.8,43.3 105.2,44.6C109.6,45.8 114.0,52.7 112.8,54.9C111.5,57.1 103.0,57.0 97.7,57.8C92.3,58.6 85.8,61.5 80.7,59.7C75.7,57.8 66.6,48.5 67.5,46.5Z M120.3,43.6C121.5,41.6 128.4,41.4 131.6,42.7C134.7,44.0 138.5,48.7 139.1,51.2C139.8,53.7 137.9,57.1 135.4,57.8C132.8,58.4 126.6,57.3 124.1,54.9C121.5,52.6 119.0,45.7 120.3,43.6Z M97.7,77.5C99.9,76.4 110.2,78.2 116.5,78.5C122.8,78.8 132.5,78.2 135.4,79.4C138.2,80.7 137.2,84.8 133.5,86.0C129.7,87.3 117.8,87.1 112.8,87.0C107.7,86.8 105.8,86.7 103.3,85.1C100.8,83.5 95.5,78.6 97.7,77.5Z M40.2,16.3C42.4,15.7 58.1,14.5 61.9,15.0C65.7,15.5 65.0,18.5 62.8,19.2C60.6,19.8 52.5,19.3 48.7,18.8C44.9,18.3 38.0,17.0 40.2,16.3Z M54.4,25.2C55.5,24.2 62.1,23.8 63.8,24.8C65.5,25.8 65.8,30.5 64.7,31.4C63.6,32.3 58.9,31.5 57.2,30.5C55.5,29.4 53.3,26.1 54.4,25.2Z" fill="#0a22e6" stroke="#1272ff" stroke-width="2.4" stroke-linejoin="round"/></g>
<g filter="url(#roughG)"><path d="M24.2,60.6C26.7,57.1 32.4,54.6 37.4,53.1C42.4,51.5 48.7,50.5 54.4,51.2C60.0,51.8 67.2,54.3 71.3,56.8C75.5,59.3 79.2,63.4 79.2,66.2C79.2,69.1 73.6,70.6 71.3,73.8C69.1,76.9 65.3,82.5 65.7,85.1C66.0,87.7 69.7,90.1 73.2,89.2C76.6,88.3 82.0,80.8 86.4,79.8C90.8,78.8 96.4,80.4 99.6,83.2C102.7,86.0 106.2,91.4 105.2,96.4C104.3,101.4 98.6,109.3 93.9,113.3C89.2,117.3 83.2,120.6 77.0,120.3C70.7,120.0 61.9,114.2 56.2,111.5C50.6,108.7 47.5,107.7 43.1,103.9C38.7,100.2 33.3,93.9 29.9,88.8C26.4,83.8 23.3,78.5 22.3,73.8C21.4,69.1 21.7,64.0 24.2,60.6Z" fill="#12d414" stroke="#04207a" stroke-width="2.6" stroke-linejoin="round"/><path d="M24.2,60.6C26.7,57.1 32.4,54.6 37.4,53.1C42.4,51.5 48.7,50.5 54.4,51.2C60.0,51.8 67.2,54.3 71.3,56.8C75.5,59.3 79.2,63.4 79.2,66.2C79.2,69.1 73.6,70.6 71.3,73.8C69.1,76.9 65.3,82.5 65.7,85.1C66.0,87.7 69.7,90.1 73.2,89.2C76.6,88.3 82.0,80.8 86.4,79.8C90.8,78.8 96.4,80.4 99.6,83.2C102.7,86.0 106.2,91.4 105.2,96.4C104.3,101.4 98.6,109.3 93.9,113.3C89.2,117.3 83.2,120.6 77.0,120.3C70.7,120.0 61.9,114.2 56.2,111.5C50.6,108.7 47.5,107.7 43.1,103.9C38.7,100.2 33.3,93.9 29.9,88.8C26.4,83.8 23.3,78.5 22.3,73.8C21.4,69.1 21.7,64.0 24.2,60.6Z" fill="#12d414" stroke="#067a3a" stroke-width="1.1"/></g>
<path d="M28.9,58.7C33.0,56.0 48.6,52.7 54.4,54.0C60.2,55.3 63.2,61.7 63.8,66.2C64.4,70.8 57.8,76.6 58.1,81.3C58.4,86.0 60.3,92.6 65.7,94.5C71.0,96.4 84.8,91.0 90.1,92.6C95.5,94.2 98.6,99.8 97.7,103.9C96.7,108.0 90.1,115.8 84.5,117.1C78.8,118.4 70.1,114.0 63.8,111.5C57.5,108.9 51.2,107.1 46.8,102.0C42.4,97.0 40.2,86.7 37.4,81.3C34.6,76.0 31.3,73.8 29.9,70.0C28.5,66.2 24.9,61.4 28.9,58.7Z" fill="#86ee10" filter="url(#roughY)"/>
<path d="M32.7,57.8C36.1,55.4 49.6,54.5 54.4,55.9C59.2,57.3 61.2,62.0 61.5,66.2C61.8,70.5 55.8,76.3 56.2,81.3C56.7,86.3 61.0,93.5 64.2,96.4C67.3,99.3 71.0,98.6 75.1,98.6C79.2,98.7 85.5,95.3 88.6,96.8C91.8,98.3 94.9,104.6 93.9,107.7C92.9,110.8 87.6,114.9 82.6,115.2C77.6,115.5 69.4,112.1 63.8,109.6C58.2,107.1 52.8,104.8 49.1,100.2C45.4,95.5 44.1,86.7 41.6,81.7C39.0,76.7 35.5,74.0 34.0,70.0C32.5,66.0 29.3,60.1 32.7,57.8Z" fill="#f4f400" filter="url(#roughY)"/>
<path d="M46.8,79.4C48.1,76.8 55.3,75.5 57.2,77.5C59.1,79.6 59.4,89.0 58.1,91.7C56.9,94.3 51.5,95.6 49.7,93.6C47.8,91.5 45.6,82.1 46.8,79.4Z M35.5,57.8C36.6,56.0 42.3,54.6 44.0,55.9C45.7,57.1 46.9,63.6 45.9,65.3C44.8,67.0 39.5,67.5 37.8,66.2C36.1,65.0 34.5,59.5 35.5,57.8Z M54.4,66.2C55.5,65.3 59.4,66.6 60.0,68.1C60.6,69.7 59.2,74.7 58.1,75.7C57.0,76.6 54.0,75.4 53.4,73.8C52.8,72.2 53.3,67.2 54.4,66.2Z" fill="#ff9a00" filter="url(#roughO)"/>
<path d="M77.3,95.4C78.4,92.6 83.8,91.2 86.4,92.6C89.0,94.0 92.4,100.5 93.0,103.9C93.5,107.4 92.0,112.4 89.8,113.3C87.6,114.3 81.9,112.6 79.8,109.6C77.7,106.6 76.2,98.3 77.3,95.4Z" fill="#ff9a00" filter="url(#rough2)"/>
<path d="M80.4,99.2C81.3,97.5 85.6,96.2 87.3,97.3C89.1,98.4 91.0,103.4 90.9,105.8C90.8,108.2 88.3,111.2 86.8,111.5C85.3,111.7 82.9,109.3 81.9,107.3C80.8,105.3 79.4,100.9 80.4,99.2Z" fill="#e81400" filter="url(#rough2)"/>
<path d="M66.6,79.4C68.2,76.6 74.1,71.3 77.0,70.0C79.8,68.8 84.2,69.2 83.6,71.9C82.9,74.6 75.9,83.5 73.2,86.0C70.5,88.5 68.6,88.1 67.5,87.0C66.4,85.9 65.0,82.3 66.6,79.4Z" fill="#eaf6ff" filter="url(#rough)"/>
</g>
<g id="scene3g" clip-path="url(#clip200)">
<rect width="200" height="200" fill="#2a2a2a"/>
<rect width="200" height="200" filter="url(#texg3)" opacity="0.3"/>
<ellipse cx="90.1" cy="126.5" rx="62.2" ry="47.1" fill="none" stroke="#fff" stroke-opacity="0.015" stroke-width="12" filter="url(#blur3)"/>
<ellipse cx="97.7" cy="134.1" rx="43.3" ry="32.0" fill="none" stroke="#fff" stroke-opacity="0.015" stroke-width="12" filter="url(#blur3)"/>
<ellipse cx="105.2" cy="134.1" rx="84.8" ry="65.9" fill="none" stroke="#fff" stroke-opacity="0.015" stroke-width="12" filter="url(#blur3)"/>
<path d="M3.5,70.0C4.1,64.0 15.1,49.3 18.6,43.6C22.0,38.0 20.8,41.1 24.2,36.1C27.7,31.1 32.7,17.9 39.3,13.5C45.9,9.1 59.1,7.2 63.8,9.7C68.5,12.2 63.2,24.8 67.5,28.6C71.9,32.3 80.1,32.7 90.1,32.3C100.2,32.0 117.1,26.4 127.8,26.7C138.5,27.0 146.7,29.8 154.2,34.2C161.7,38.6 168.3,47.1 173.0,53.1C177.7,59.0 184.3,65.3 182.4,70.0C180.6,74.7 167.7,76.3 161.7,81.3C155.8,86.3 152.9,97.6 146.7,100.2C140.4,102.7 129.7,95.1 124.1,96.4C118.4,97.6 116.5,103.9 112.8,107.7C109.0,111.5 107.4,115.7 101.5,119.0C95.5,122.3 85.1,127.5 77.0,127.5C68.8,127.5 60.3,122.6 52.5,119.0C44.6,115.4 36.2,112.4 29.9,105.8C23.6,99.2 19.2,85.4 14.8,79.4C10.4,73.5 2.9,76.0 3.5,70.0Z M144.4,119.0C144.4,120.1 144.0,121.5 143.4,122.3C142.8,123.1 141.8,123.7 141.0,123.7C140.2,123.7 139.2,123.1 138.6,122.3C138.0,121.5 137.6,120.1 137.6,119.0C137.6,117.9 138.0,116.4 138.6,115.7C139.2,114.9 140.2,114.3 141.0,114.3C141.8,114.3 142.8,114.9 143.4,115.7C144.0,116.4 144.4,117.9 144.4,119.0Z" fill="#3d3d3d" filter="url(#haloF)" opacity="0.6"/>
<path d="M0.7,0.3C8.7,-6.0 42.3,-6.0 48.7,0.3C55.1,6.6 45.6,30.1 39.3,38.0C33.0,45.8 17.5,47.4 11.0,47.4C4.6,47.4 2.4,45.8 0.7,38.0C-1.0,30.1 -7.3,6.6 0.7,0.3Z M112.8,96.4C120.9,90.1 150.4,82.6 161.7,81.3C173.0,80.1 183.7,81.9 180.6,88.8C177.4,95.8 154.2,117.7 142.9,122.8C131.6,127.8 117.8,123.4 112.8,119.0C107.7,114.6 104.6,102.7 112.8,96.4Z" fill="#3d3d3d" filter="url(#haloF)" opacity="0.4"/>
<path d="M80.7,54.9C82.6,50.9 88.6,45.2 93.9,41.8C99.3,38.3 106.5,36.4 112.8,34.2C119.0,32.0 125.0,28.3 131.6,28.6C138.2,28.9 146.3,32.3 152.3,36.1C158.3,39.9 162.7,45.8 167.4,51.2C172.1,56.5 180.9,65.0 180.6,68.1C180.2,71.3 169.3,67.8 165.5,70.0C161.7,72.2 161.7,76.8 158.0,81.3C154.2,85.9 148.5,95.9 142.9,97.3C137.2,98.7 130.3,92.5 124.1,89.8C117.8,87.1 112.1,85.2 105.2,81.3C98.3,77.4 86.7,70.6 82.6,66.2C78.5,61.9 78.8,59.0 80.7,54.9Z M63.8,34.2C66.8,32.8 77.0,31.1 80.7,31.4C84.5,31.7 88.0,34.2 86.4,36.1C84.8,38.0 75.2,42.1 71.3,42.7C67.4,43.3 64.1,41.3 62.8,39.9C61.6,38.5 60.8,35.6 63.8,34.2Z M20.5,45.5C21.1,43.0 26.4,38.9 29.9,39.9C33.3,40.8 41.8,48.7 41.2,51.2C40.5,53.7 29.6,55.9 26.1,54.9C22.7,54.0 19.8,48.0 20.5,45.5Z M7.3,66.2C9.2,65.6 18.6,66.6 20.5,68.1C22.3,69.7 20.5,75.0 18.6,75.7C16.7,76.3 11.0,73.5 9.2,71.9C7.3,70.3 5.4,66.9 7.3,66.2Z M0.5,60.6C1.3,60.2 4.6,60.5 5.4,61.0C6.1,61.5 5.8,63.2 5.0,63.6C4.2,64.0 1.2,64.1 0.5,63.6C-0.3,63.1 -0.3,61.0 0.5,60.6Z M39.3,15.4C40.2,14.1 44.6,12.6 48.7,12.6C52.8,12.6 61.4,14.0 63.8,15.4C66.1,16.8 64.4,20.4 62.8,21.0C61.3,21.7 57.7,19.3 54.4,19.2C51.1,19.0 45.6,20.7 43.1,20.1C40.5,19.5 38.3,16.6 39.3,15.4Z M48.7,22.9C49.3,21.4 57.2,21.5 60.0,22.9C62.8,24.3 66.3,29.8 65.7,31.4C65.0,33.0 59.1,33.8 56.2,32.3C53.4,30.9 48.1,24.5 48.7,22.9Z M20.5,47.4C21.1,44.3 22.7,41.4 26.1,41.8C29.6,42.1 36.2,48.7 41.2,49.3C46.2,49.9 51.2,44.9 56.2,45.5C61.3,46.2 66.9,50.5 71.3,53.1C75.7,55.6 81.4,57.5 82.6,60.6C83.9,63.7 78.2,68.8 78.8,71.9C79.5,75.0 83.2,78.8 86.4,79.4C89.5,80.1 94.5,74.1 97.7,75.7C100.8,77.2 103.6,84.8 105.2,88.8C106.9,92.9 108.7,96.1 107.5,100.2C106.2,104.2 102.8,109.5 97.7,113.3C92.6,117.2 84.2,123.0 77.0,123.1C69.7,123.3 60.0,116.2 54.4,114.3C48.7,112.4 47.1,114.8 43.1,111.8C39.0,108.8 34.0,102.4 29.9,96.4C25.8,90.4 22.2,79.9 18.6,75.7C15.0,71.4 9.8,72.5 8.2,71.0C6.6,69.4 6.8,68.0 9.2,66.2C11.5,64.5 20.5,63.7 22.3,60.6C24.2,57.5 19.8,50.5 20.5,47.4Z M67.5,46.5C68.5,44.4 80.1,47.7 86.4,47.4C92.7,47.1 100.8,43.3 105.2,44.6C109.6,45.8 114.0,52.7 112.8,54.9C111.5,57.1 103.0,57.0 97.7,57.8C92.3,58.6 85.8,61.5 80.7,59.7C75.7,57.8 66.6,48.5 67.5,46.5Z M120.3,43.6C121.5,41.6 128.4,41.4 131.6,42.7C134.7,44.0 138.5,48.7 139.1,51.2C139.8,53.7 137.9,57.1 135.4,57.8C132.8,58.4 126.6,57.3 124.1,54.9C121.5,52.6 119.0,45.7 120.3,43.6Z M97.7,77.5C99.9,76.4 110.2,78.2 116.5,78.5C122.8,78.8 132.5,78.2 135.4,79.4C138.2,80.7 137.2,84.8 133.5,86.0C129.7,87.3 117.8,87.1 112.8,87.0C107.7,86.8 105.8,86.7 103.3,85.1C100.8,83.5 95.5,78.6 97.7,77.5Z M40.2,16.3C42.4,15.7 58.1,14.5 61.9,15.0C65.7,15.5 65.0,18.5 62.8,19.2C60.6,19.8 52.5,19.3 48.7,18.8C44.9,18.3 38.0,17.0 40.2,16.3Z M54.4,25.2C55.5,24.2 62.1,23.8 63.8,24.8C65.5,25.8 65.8,30.5 64.7,31.4C63.6,32.3 58.9,31.5 57.2,30.5C55.5,29.4 53.3,26.1 54.4,25.2Z M24.2,60.6C26.7,57.1 32.4,54.6 37.4,53.1C42.4,51.5 48.7,50.5 54.4,51.2C60.0,51.8 67.2,54.3 71.3,56.8C75.5,59.3 79.2,63.4 79.2,66.2C79.2,69.1 73.6,70.6 71.3,73.8C69.1,76.9 65.3,82.5 65.7,85.1C66.0,87.7 69.7,90.1 73.2,89.2C76.6,88.3 82.0,80.8 86.4,79.8C90.8,78.8 96.4,80.4 99.6,83.2C102.7,86.0 106.2,91.4 105.2,96.4C104.3,101.4 98.6,109.3 93.9,113.3C89.2,117.3 83.2,120.6 77.0,120.3C70.7,120.0 61.9,114.2 56.2,111.5C50.6,108.7 47.5,107.7 43.1,103.9C38.7,100.2 33.3,93.9 29.9,88.8C26.4,83.8 23.3,78.5 22.3,73.8C21.4,69.1 21.7,64.0 24.2,60.6Z" fill="#3d3d3d" stroke="#3d3d3d" stroke-width="6" stroke-linejoin="round" filter="url(#edgeF)" opacity="0.8"/>
<path d="M80.7,54.9C82.6,50.9 88.6,45.2 93.9,41.8C99.3,38.3 106.5,36.4 112.8,34.2C119.0,32.0 125.0,28.3 131.6,28.6C138.2,28.9 146.3,32.3 152.3,36.1C158.3,39.9 162.7,45.8 167.4,51.2C172.1,56.5 180.9,65.0 180.6,68.1C180.2,71.3 169.3,67.8 165.5,70.0C161.7,72.2 161.7,76.8 158.0,81.3C154.2,85.9 148.5,95.9 142.9,97.3C137.2,98.7 130.3,92.5 124.1,89.8C117.8,87.1 112.1,85.2 105.2,81.3C98.3,77.4 86.7,70.6 82.6,66.2C78.5,61.9 78.8,59.0 80.7,54.9Z M63.8,34.2C66.8,32.8 77.0,31.1 80.7,31.4C84.5,31.7 88.0,34.2 86.4,36.1C84.8,38.0 75.2,42.1 71.3,42.7C67.4,43.3 64.1,41.3 62.8,39.9C61.6,38.5 60.8,35.6 63.8,34.2Z M20.5,45.5C21.1,43.0 26.4,38.9 29.9,39.9C33.3,40.8 41.8,48.7 41.2,51.2C40.5,53.7 29.6,55.9 26.1,54.9C22.7,54.0 19.8,48.0 20.5,45.5Z M7.3,66.2C9.2,65.6 18.6,66.6 20.5,68.1C22.3,69.7 20.5,75.0 18.6,75.7C16.7,76.3 11.0,73.5 9.2,71.9C7.3,70.3 5.4,66.9 7.3,66.2Z M0.5,60.6C1.3,60.2 4.6,60.5 5.4,61.0C6.1,61.5 5.8,63.2 5.0,63.6C4.2,64.0 1.2,64.1 0.5,63.6C-0.3,63.1 -0.3,61.0 0.5,60.6Z M39.3,15.4C40.2,14.1 44.6,12.6 48.7,12.6C52.8,12.6 61.4,14.0 63.8,15.4C66.1,16.8 64.4,20.4 62.8,21.0C61.3,21.7 57.7,19.3 54.4,19.2C51.1,19.0 45.6,20.7 43.1,20.1C40.5,19.5 38.3,16.6 39.3,15.4Z M48.7,22.9C49.3,21.4 57.2,21.5 60.0,22.9C62.8,24.3 66.3,29.8 65.7,31.4C65.0,33.0 59.1,33.8 56.2,32.3C53.4,30.9 48.1,24.5 48.7,22.9Z" fill="#494949" filter="url(#roughb)"/>
<path d="M116.5,36.1C119.0,34.1 133.5,33.4 137.2,35.2C141.0,36.9 141.6,44.4 139.1,46.5C136.6,48.5 125.9,49.1 122.2,47.4C118.4,45.7 114.0,38.1 116.5,36.1Z M110.9,60.6C114.0,59.7 122.5,60.3 127.8,62.5C133.2,64.7 140.7,70.3 142.9,73.8C145.1,77.2 144.1,82.9 141.0,83.2C137.9,83.5 129.4,78.2 124.1,75.7C118.7,73.2 111.2,70.6 109.0,68.1C106.8,65.6 107.7,61.5 110.9,60.6Z M141.0,47.4C143.5,45.2 152.9,43.3 156.1,45.5C159.2,47.7 161.4,56.8 159.8,60.6C158.3,64.4 149.8,68.4 146.7,68.1C143.5,67.8 141.9,62.2 141.0,58.7C140.1,55.3 138.5,49.6 141.0,47.4Z" fill="#424242" filter="url(#roughb)"/>
<path d="M20.5,47.4C21.1,44.3 22.7,41.4 26.1,41.8C29.6,42.1 36.2,48.7 41.2,49.3C46.2,49.9 51.2,44.9 56.2,45.5C61.3,46.2 66.9,50.5 71.3,53.1C75.7,55.6 81.4,57.5 82.6,60.6C83.9,63.7 78.2,68.8 78.8,71.9C79.5,75.0 83.2,78.8 86.4,79.4C89.5,80.1 94.5,74.1 97.7,75.7C100.8,77.2 103.6,84.8 105.2,88.8C106.9,92.9 108.7,96.1 107.5,100.2C106.2,104.2 102.8,109.5 97.7,113.3C92.6,117.2 84.2,123.0 77.0,123.1C69.7,123.3 60.0,116.2 54.4,114.3C48.7,112.4 47.1,114.8 43.1,111.8C39.0,108.8 34.0,102.4 29.9,96.4C25.8,90.4 22.2,79.9 18.6,75.7C15.0,71.4 9.8,72.5 8.2,71.0C6.6,69.4 6.8,68.0 9.2,66.2C11.5,64.5 20.5,63.7 22.3,60.6C24.2,57.5 19.8,50.5 20.5,47.4Z M67.5,46.5C68.5,44.4 80.1,47.7 86.4,47.4C92.7,47.1 100.8,43.3 105.2,44.6C109.6,45.8 114.0,52.7 112.8,54.9C111.5,57.1 103.0,57.0 97.7,57.8C92.3,58.6 85.8,61.5 80.7,59.7C75.7,57.8 66.6,48.5 67.5,46.5Z M120.3,43.6C121.5,41.6 128.4,41.4 131.6,42.7C134.7,44.0 138.5,48.7 139.1,51.2C139.8,53.7 137.9,57.1 135.4,57.8C132.8,58.4 126.6,57.3 124.1,54.9C121.5,52.6 119.0,45.7 120.3,43.6Z M97.7,77.5C99.9,76.4 110.2,78.2 116.5,78.5C122.8,78.8 132.5,78.2 135.4,79.4C138.2,80.7 137.2,84.8 133.5,86.0C129.7,87.3 117.8,87.1 112.8,87.0C107.7,86.8 105.8,86.7 103.3,85.1C100.8,83.5 95.5,78.6 97.7,77.5Z M40.2,16.3C42.4,15.7 58.1,14.5 61.9,15.0C65.7,15.5 65.0,18.5 62.8,19.2C60.6,19.8 52.5,19.3 48.7,18.8C44.9,18.3 38.0,17.0 40.2,16.3Z M54.4,25.2C55.5,24.2 62.1,23.8 63.8,24.8C65.5,25.8 65.8,30.5 64.7,31.4C63.6,32.3 58.9,31.5 57.2,30.5C55.5,29.4 53.3,26.1 54.4,25.2Z" fill="#585858" filter="url(#roughb)"/>
<path d="M24.2,60.6C26.7,57.1 32.4,54.6 37.4,53.1C42.4,51.5 48.7,50.5 54.4,51.2C60.0,51.8 67.2,54.3 71.3,56.8C75.5,59.3 79.2,63.4 79.2,66.2C79.2,69.1 73.6,70.6 71.3,73.8C69.1,76.9 65.3,82.5 65.7,85.1C66.0,87.7 69.7,90.1 73.2,89.2C76.6,88.3 82.0,80.8 86.4,79.8C90.8,78.8 96.4,80.4 99.6,83.2C102.7,86.0 106.2,91.4 105.2,96.4C104.3,101.4 98.6,109.3 93.9,113.3C89.2,117.3 83.2,120.6 77.0,120.3C70.7,120.0 61.9,114.2 56.2,111.5C50.6,108.7 47.5,107.7 43.1,103.9C38.7,100.2 33.3,93.9 29.9,88.8C26.4,83.8 23.3,78.5 22.3,73.8C21.4,69.1 21.7,64.0 24.2,60.6Z" fill="#939393" filter="url(#roughb)"/>
<path d="M28.9,58.7C33.0,56.0 48.6,52.7 54.4,54.0C60.2,55.3 63.2,61.7 63.8,66.2C64.4,70.8 57.8,76.6 58.1,81.3C58.4,86.0 60.3,92.6 65.7,94.5C71.0,96.4 84.8,91.0 90.1,92.6C95.5,94.2 98.6,99.8 97.7,103.9C96.7,108.0 90.1,115.8 84.5,117.1C78.8,118.4 70.1,114.0 63.8,111.5C57.5,108.9 51.2,107.1 46.8,102.0C42.4,97.0 40.2,86.7 37.4,81.3C34.6,76.0 31.3,73.8 29.9,70.0C28.5,66.2 24.9,61.4 28.9,58.7Z" fill="#a3a3a3" filter="url(#rough2b)"/>
<path d="M32.7,57.8C36.1,55.4 49.6,54.5 54.4,55.9C59.2,57.3 61.2,62.0 61.5,66.2C61.8,70.5 55.8,76.3 56.2,81.3C56.7,86.3 61.0,93.5 64.2,96.4C67.3,99.3 71.0,98.6 75.1,98.6C79.2,98.7 85.5,95.3 88.6,96.8C91.8,98.3 94.9,104.6 93.9,107.7C92.9,110.8 87.6,114.9 82.6,115.2C77.6,115.5 69.4,112.1 63.8,109.6C58.2,107.1 52.8,104.8 49.1,100.2C45.4,95.5 44.1,86.7 41.6,81.7C39.0,76.7 35.5,74.0 34.0,70.0C32.5,66.0 29.3,60.1 32.7,57.8Z" fill="#b0b0b0" filter="url(#rough2b)"/>
<path d="M46.8,79.4C48.1,76.8 55.3,75.5 57.2,77.5C59.1,79.6 59.4,89.0 58.1,91.7C56.9,94.3 51.5,95.6 49.7,93.6C47.8,91.5 45.6,82.1 46.8,79.4Z M35.5,57.8C36.6,56.0 42.3,54.6 44.0,55.9C45.7,57.1 46.9,63.6 45.9,65.3C44.8,67.0 39.5,67.5 37.8,66.2C36.1,65.0 34.5,59.5 35.5,57.8Z M54.4,66.2C55.5,65.3 59.4,66.6 60.0,68.1C60.6,69.7 59.2,74.7 58.1,75.7C57.0,76.6 54.0,75.4 53.4,73.8C52.8,72.2 53.3,67.2 54.4,66.2Z" fill="#b6b6b6" filter="url(#rough2b)"/>
<path d="M77.3,95.4C78.4,92.6 83.8,91.2 86.4,92.6C89.0,94.0 92.4,100.5 93.0,103.9C93.5,107.4 92.0,112.4 89.8,113.3C87.6,114.3 81.9,112.6 79.8,109.6C77.7,106.6 76.2,98.3 77.3,95.4Z" fill="#bcbcbc" filter="url(#rough2b)"/>
<path d="M80.4,99.2C81.3,97.5 85.6,96.2 87.3,97.3C89.1,98.4 91.0,103.4 90.9,105.8C90.8,108.2 88.3,111.2 86.8,111.5C85.3,111.7 82.9,109.3 81.9,107.3C80.8,105.3 79.4,100.9 80.4,99.2Z" fill="#cdcdcd" filter="url(#rough2b)"/>
<path d="M66.6,79.4C68.2,76.6 74.1,71.3 77.0,70.0C79.8,68.8 84.2,69.2 83.6,71.9C82.9,74.6 75.9,83.5 73.2,86.0C70.5,88.5 68.6,88.1 67.5,87.0C66.4,85.9 65.0,82.3 66.6,79.4Z" fill="#555555" filter="url(#roughb)"/>
</g>
<filter id="tex4" x="0" y="0" width="100%" height="100%" color-interpolation-filters="sRGB"><feTurbulence type="fractalNoise" baseFrequency="0.04" numOctaves="4" seed="17"/><feColorMatrix type="matrix" values="0 0 0 0 1  0 0 0 0 1  0 0 0 0 1  2.6 0 0 0 -1.15"/></filter>
<filter id="texg4" x="0" y="0" width="100%" height="100%" color-interpolation-filters="sRGB"><feTurbulence type="fractalNoise" baseFrequency="0.05" numOctaves="4" seed="21"/><feColorMatrix type="matrix" values="0 0 0 0 0.32  0 0 0 0 0.32  0 0 0 0 0.32  2.6 0 0 0 -1.15"/></filter>
<g id="scene4c" clip-path="url(#clip200)">
<rect width="200" height="200" fill="url(#irbg)"/>
<rect width="200" height="200" filter="url(#tex4)" opacity="0.2"/>
<ellipse cx="86.4" cy="133.5" rx="62.2" ry="47.1" fill="none" stroke="#fff" stroke-opacity="0.1" stroke-width="12" filter="url(#blur3)"/>
<ellipse cx="93.9" cy="141.1" rx="41.4" ry="30.1" fill="none" stroke="#fff" stroke-opacity="0.1" stroke-width="12" filter="url(#blur3)"/>
<ellipse cx="97.7" cy="141.1" rx="86.6" ry="67.8" fill="none" stroke="#fff" stroke-opacity="0.1" stroke-width="12" filter="url(#blur3)"/>
<path d="M9.2,37.5C11.0,30.9 19.5,26.8 26.1,22.4C32.7,18.0 43.1,14.6 48.7,11.1C54.4,7.7 51.8,3.0 60.0,1.7C68.2,0.4 88.9,1.4 97.7,3.6C106.5,5.8 104.6,13.0 112.8,14.9C120.9,16.8 138.5,12.1 146.7,14.9C154.8,17.7 157.3,24.6 161.7,31.8C166.1,39.1 169.6,51.3 173.0,58.2C176.5,65.1 182.8,65.7 182.4,73.3C182.1,80.8 176.5,96.5 171.1,103.4C165.8,110.3 156.4,110.3 150.4,114.7C144.5,119.1 141.6,127.4 135.4,129.8C129.1,132.1 119.0,130.7 112.8,128.8C106.5,127.0 105.8,120.5 97.7,118.5C89.5,116.4 71.9,120.4 63.8,116.6C55.6,112.8 54.4,101.8 48.7,95.9C43.1,89.9 35.5,86.5 29.9,80.8C24.2,75.2 18.3,69.2 14.8,62.0C11.4,54.7 7.3,44.1 9.2,37.5Z M93.9,167.5C96.1,164.0 100.2,158.3 105.2,158.0C110.2,157.7 118.1,162.4 124.1,165.6C130.0,168.7 139.8,173.4 141.0,176.9C142.3,180.3 137.6,184.4 131.6,186.3C125.6,188.2 111.8,189.4 105.2,188.2C98.6,186.9 93.9,182.2 92.0,178.8C90.1,175.3 91.7,170.9 93.9,167.5Z M106.5,161.8C106.5,162.6 106.0,163.6 105.3,164.2C104.6,164.8 103.4,165.2 102.4,165.2C101.4,165.2 100.2,164.8 99.5,164.2C98.8,163.6 98.2,162.6 98.2,161.8C98.2,161.0 98.8,160.0 99.5,159.4C100.2,158.8 101.4,158.4 102.4,158.4C103.4,158.4 104.6,158.8 105.3,159.4C106.0,160.0 106.5,161.0 106.5,161.8Z" fill="#f4f4f4" filter="url(#haloF)" opacity="0.58"/>
<path d="M3.5,5.5C12.0,-2.1 45.9,-2.1 54.4,1.7C62.8,5.5 60.0,19.6 54.4,28.1C48.7,36.5 28.9,49.4 20.5,52.6C12.0,55.7 6.3,54.7 3.5,46.9C0.7,39.1 -5.0,13.0 3.5,5.5Z M142.9,13.0C144.8,8.3 171.8,25.6 180.6,37.5C189.4,49.4 196.3,72.3 195.6,84.6C195.0,96.8 181.2,114.1 176.8,110.9C172.4,107.8 174.9,82.1 169.3,65.7C163.6,49.4 141.0,17.7 142.9,13.0Z" fill="#f4f4f4" filter="url(#haloF)" opacity="0.34"/>
<path d="M110.9,16.8C112.8,15.7 118.4,15.5 124.1,15.8C129.7,16.1 141.6,17.1 144.8,18.6C147.9,20.2 146.3,24.3 142.9,25.2C139.4,26.2 129.1,24.8 124.1,24.3C119.0,23.8 114.9,23.7 112.8,22.4C110.6,21.2 109.0,17.9 110.9,16.8Z M114.6,28.1C115.3,26.5 122.8,26.7 127.8,27.1C132.8,27.6 142.3,29.2 144.8,30.9C147.3,32.6 146.3,36.5 142.9,37.5C139.4,38.4 128.8,38.1 124.1,36.5C119.3,35.0 114.0,29.6 114.6,28.1Z M110.9,45.0C112.8,44.2 119.7,43.9 124.1,44.1C128.4,44.2 135.2,45.0 137.2,46.0C139.3,46.9 140.4,49.2 136.3,49.7C132.2,50.3 117.0,49.9 112.8,49.2C108.5,48.4 109.0,45.9 110.9,45.0Z M90.1,65.7C88.9,61.3 92.0,55.7 97.7,54.4C103.3,53.2 115.6,55.4 124.1,58.2C132.5,61.0 141.3,67.0 148.5,71.4C155.8,75.8 164.1,79.2 167.4,84.6C170.7,89.9 172.1,98.9 168.3,103.4C164.6,108.0 149.6,108.7 144.8,111.9C139.9,115.0 144.1,119.8 139.1,122.2C134.1,124.7 120.0,128.9 114.6,126.4C109.3,123.9 108.7,114.8 107.1,107.2C105.5,99.6 108.0,87.7 105.2,80.8C102.4,73.9 91.4,70.1 90.1,65.7Z M46.8,11.1C47.5,8.9 52.8,5.1 56.2,3.6C59.7,2.0 66.3,0.8 67.5,1.7C68.8,2.6 66.3,6.7 63.8,9.2C61.3,11.7 55.3,16.5 52.5,16.8C49.7,17.1 46.2,13.3 46.8,11.1Z M86.4,37.5C88.9,35.3 101.5,36.9 105.2,39.4C109.0,41.9 111.5,50.4 109.0,52.6C106.5,54.7 93.9,55.1 90.1,52.6C86.4,50.0 83.9,39.7 86.4,37.5Z M63.8,110.9C65.2,110.1 71.6,109.2 73.2,110.0C74.8,110.8 74.6,114.8 73.2,115.7C71.8,116.5 66.3,115.9 64.7,115.1C63.2,114.3 62.4,111.8 63.8,110.9Z M125.0,171.2C125.8,170.4 129.5,172.6 130.6,174.0C131.7,175.5 132.4,178.9 131.6,179.7C130.8,180.5 127.0,180.2 125.9,178.8C124.8,177.3 124.2,172.0 125.0,171.2Z M161.7,62.0C162.5,62.0 166.7,67.3 167.4,69.5C168.0,71.7 166.3,75.2 165.5,75.2C164.7,75.2 163.3,71.7 162.7,69.5C162.0,67.3 160.9,62.0 161.7,62.0Z M173.0,63.9C173.3,63.5 179.6,71.4 180.6,73.3C181.5,75.2 179.9,76.7 178.7,75.2C177.4,73.6 172.7,64.2 173.0,63.9Z M18.6,56.3C18.6,50.6 21.4,39.1 24.2,35.6C27.0,32.1 31.8,34.3 35.5,35.6C39.3,36.9 43.1,40.9 46.8,43.1C50.6,45.3 54.7,46.3 58.1,48.8C61.6,51.3 64.7,54.4 67.5,58.2C70.4,62.0 71.3,68.6 75.1,71.4C78.8,74.2 86.1,72.3 90.1,75.2C94.2,78.0 97.3,84.3 99.6,88.3C101.8,92.4 103.4,95.4 103.7,99.6C104.0,103.9 103.1,111.9 101.5,113.8C99.8,115.7 98.3,111.7 93.9,110.9C89.5,110.2 81.0,110.3 75.1,109.4C69.1,108.6 62.2,109.1 58.1,105.7C54.0,102.2 54.4,92.5 50.6,88.7C46.8,85.0 39.9,86.2 35.5,83.1C31.1,79.9 27.0,74.3 24.2,69.9C21.4,65.4 18.6,62.0 18.6,56.3Z M54.4,28.1C54.0,23.6 53.4,16.8 54.4,13.0C55.3,9.2 55.3,6.1 60.0,5.5C64.7,4.8 77.2,6.7 82.6,9.2C88.0,11.7 91.8,16.8 92.4,20.5C93.0,24.3 87.0,27.4 86.4,31.8C85.8,36.2 89.9,43.4 88.6,46.9C87.4,50.4 82.4,52.6 78.8,52.9C75.3,53.3 71.3,51.4 67.5,49.2C63.8,47.0 58.4,43.3 56.2,39.7C54.0,36.2 54.7,32.5 54.4,28.1Z M25.2,26.2C26.3,24.0 31.4,23.4 32.7,25.2C34.0,27.1 33.8,35.3 32.7,37.5C31.6,39.7 27.4,40.3 26.1,38.4C24.9,36.5 24.1,28.4 25.2,26.2Z M67.5,52.6C68.8,50.0 77.6,49.7 82.6,50.7C87.6,51.6 93.9,55.1 97.7,58.2C101.5,61.3 106.5,67.0 105.2,69.5C104.0,72.0 95.2,73.9 90.1,73.3C85.1,72.6 78.8,69.2 75.1,65.7C71.3,62.3 66.3,55.1 67.5,52.6Z M101.5,69.5C104.6,68.2 120.3,71.4 124.1,73.3C127.8,75.2 127.2,79.6 124.1,80.8C120.9,82.1 109.0,82.7 105.2,80.8C101.5,78.9 98.3,70.8 101.5,69.5Z M92.0,101.5C93.6,100.1 101.6,101.2 103.3,103.4C105.1,105.6 104.0,113.3 102.4,114.7C100.8,116.1 95.6,114.1 93.9,111.9C92.2,109.7 90.5,102.9 92.0,101.5Z M28.0,45.0C29.5,40.2 34.0,37.2 37.4,37.5C40.9,37.8 44.6,44.0 48.7,46.9C52.9,49.8 59.4,51.6 62.3,54.8C65.2,58.0 66.7,63.0 66.0,66.1C65.4,69.3 60.7,71.5 58.5,73.6C56.3,75.8 54.4,77.1 52.9,79.3C51.3,81.5 51.9,86.8 49.1,86.8C46.3,86.8 39.4,82.8 35.9,79.3C32.4,75.8 29.7,71.8 28.4,66.1C27.0,60.4 26.5,49.8 28.0,45.0Z M48.7,81.2C49.3,78.0 53.4,74.9 58.1,73.6C62.8,72.4 70.9,72.4 77.0,73.6C83.0,74.9 90.0,76.8 94.3,81.2C98.6,85.6 104.3,95.6 103.0,100.0C101.6,104.4 93.5,106.6 86.4,107.6C79.3,108.5 65.7,108.2 60.4,105.7C55.1,103.2 56.7,96.6 54.7,92.5C52.8,88.4 48.1,84.3 48.7,81.2Z M57.2,24.3C58.8,23.0 65.7,22.4 67.5,23.4C69.4,24.3 70.1,28.7 68.5,29.9C66.9,31.2 60.0,31.8 58.1,30.9C56.2,29.9 55.6,25.6 57.2,24.3Z M71.3,11.1C72.7,9.7 79.0,8.9 80.7,10.2C82.5,11.4 83.1,17.2 81.7,18.6C80.3,20.1 74.0,19.9 72.3,18.6C70.5,17.4 69.9,12.5 71.3,11.1Z M78.8,33.7C80.0,31.4 85.1,30.6 86.4,32.8C87.7,35.0 88.0,44.5 86.8,46.9C85.6,49.3 80.5,49.1 79.2,46.9C77.9,44.7 77.7,36.1 78.8,33.7Z M67.5,54.4C68.6,53.7 73.8,54.3 75.1,55.4C76.3,56.5 76.2,60.2 75.1,61.0C74.0,61.8 69.7,61.2 68.5,60.1C67.2,59.0 66.4,55.2 67.5,54.4Z" fill="#ffffff" stroke="#ffffff" stroke-width="6.5" stroke-linejoin="round" filter="url(#edgeF)" opacity="0.95"/>
<g filter="url(#rough)"><path d="M110.9,16.8C112.8,15.7 118.4,15.5 124.1,15.8C129.7,16.1 141.6,17.1 144.8,18.6C147.9,20.2 146.3,24.3 142.9,25.2C139.4,26.2 129.1,24.8 124.1,24.3C119.0,23.8 114.9,23.7 112.8,22.4C110.6,21.2 109.0,17.9 110.9,16.8Z M114.6,28.1C115.3,26.5 122.8,26.7 127.8,27.1C132.8,27.6 142.3,29.2 144.8,30.9C147.3,32.6 146.3,36.5 142.9,37.5C139.4,38.4 128.8,38.1 124.1,36.5C119.3,35.0 114.0,29.6 114.6,28.1Z M110.9,45.0C112.8,44.2 119.7,43.9 124.1,44.1C128.4,44.2 135.2,45.0 137.2,46.0C139.3,46.9 140.4,49.2 136.3,49.7C132.2,50.3 117.0,49.9 112.8,49.2C108.5,48.4 109.0,45.9 110.9,45.0Z M90.1,65.7C88.9,61.3 92.0,55.7 97.7,54.4C103.3,53.2 115.6,55.4 124.1,58.2C132.5,61.0 141.3,67.0 148.5,71.4C155.8,75.8 164.1,79.2 167.4,84.6C170.7,89.9 172.1,98.9 168.3,103.4C164.6,108.0 149.6,108.7 144.8,111.9C139.9,115.0 144.1,119.8 139.1,122.2C134.1,124.7 120.0,128.9 114.6,126.4C109.3,123.9 108.7,114.8 107.1,107.2C105.5,99.6 108.0,87.7 105.2,80.8C102.4,73.9 91.4,70.1 90.1,65.7Z M46.8,11.1C47.5,8.9 52.8,5.1 56.2,3.6C59.7,2.0 66.3,0.8 67.5,1.7C68.8,2.6 66.3,6.7 63.8,9.2C61.3,11.7 55.3,16.5 52.5,16.8C49.7,17.1 46.2,13.3 46.8,11.1Z M86.4,37.5C88.9,35.3 101.5,36.9 105.2,39.4C109.0,41.9 111.5,50.4 109.0,52.6C106.5,54.7 93.9,55.1 90.1,52.6C86.4,50.0 83.9,39.7 86.4,37.5Z M63.8,110.9C65.2,110.1 71.6,109.2 73.2,110.0C74.8,110.8 74.6,114.8 73.2,115.7C71.8,116.5 66.3,115.9 64.7,115.1C63.2,114.3 62.4,111.8 63.8,110.9Z M125.0,171.2C125.8,170.4 129.5,172.6 130.6,174.0C131.7,175.5 132.4,178.9 131.6,179.7C130.8,180.5 127.0,180.2 125.9,178.8C124.8,177.3 124.2,172.0 125.0,171.2Z M161.7,62.0C162.5,62.0 166.7,67.3 167.4,69.5C168.0,71.7 166.3,75.2 165.5,75.2C164.7,75.2 163.3,71.7 162.7,69.5C162.0,67.3 160.9,62.0 161.7,62.0Z M173.0,63.9C173.3,63.5 179.6,71.4 180.6,73.3C181.5,75.2 179.9,76.7 178.7,75.2C177.4,73.6 172.7,64.2 173.0,63.9Z" fill="#2fb4ff" stroke="#7fe4ff" stroke-width="2"/></g>
<path d="M107.1,80.8C108.0,78.0 112.1,76.4 114.6,78.9C117.1,81.4 121.9,91.8 122.2,95.9C122.5,100.0 118.7,103.4 116.5,103.4C114.3,103.4 110.6,99.6 109.0,95.9C107.4,92.1 106.2,83.6 107.1,80.8Z M127.8,95.9C128.1,92.7 133.2,90.9 135.4,92.1C137.6,93.4 141.3,100.3 141.0,103.4C140.7,106.5 135.7,112.2 133.5,110.9C131.3,109.7 127.5,99.0 127.8,95.9Z M142.9,77.0C143.5,74.8 148.5,76.7 150.4,78.9C152.3,81.1 154.8,88.0 154.2,90.2C153.6,92.4 148.5,94.3 146.7,92.1C144.8,89.9 142.3,79.2 142.9,77.0Z M122.2,103.4C123.7,102.5 127.5,104.7 127.8,107.2C128.1,109.7 125.6,117.5 124.1,118.5C122.5,119.4 118.7,115.3 118.4,112.8C118.1,110.3 120.6,104.4 122.2,103.4Z M97.7,60.5C100.4,60.5 107.7,62.0 112.8,64.2C117.8,66.4 126.3,71.6 128.2,73.6C130.1,75.7 127.6,77.4 124.4,76.7C121.2,75.9 113.6,71.2 109.0,69.1C104.4,67.1 98.6,65.7 96.7,64.2C94.9,62.8 95.0,60.5 97.7,60.5Z M112.8,52.9C115.9,52.9 125.2,54.2 131.6,56.7C137.9,59.2 148.0,65.6 150.8,68.0C153.6,70.4 152.1,72.1 148.5,71.0C145.0,69.9 135.7,64.0 129.7,61.6C123.7,59.2 115.6,58.1 112.8,56.7C109.9,55.3 109.6,52.9 112.8,52.9Z M147.0,92.5C148.0,91.5 153.9,94.1 156.5,96.3C159.0,98.4 161.9,103.8 162.1,105.7C162.4,107.6 159.8,108.2 158.0,107.6C156.1,106.9 152.6,104.4 150.8,101.9C149.0,99.4 146.1,93.4 147.0,92.5Z M112.8,110.9C113.4,109.4 118.7,110.9 120.3,112.8C121.9,114.8 122.8,121.1 122.2,122.6C121.5,124.2 118.1,124.2 116.5,122.2C114.9,120.3 112.1,112.5 112.8,110.9Z" fill="#f2f2f2" filter="url(#rough)"/>
<g filter="url(#roughB)"><path d="M18.6,56.3C18.6,50.6 21.4,39.1 24.2,35.6C27.0,32.1 31.8,34.3 35.5,35.6C39.3,36.9 43.1,40.9 46.8,43.1C50.6,45.3 54.7,46.3 58.1,48.8C61.6,51.3 64.7,54.4 67.5,58.2C70.4,62.0 71.3,68.6 75.1,71.4C78.8,74.2 86.1,72.3 90.1,75.2C94.2,78.0 97.3,84.3 99.6,88.3C101.8,92.4 103.4,95.4 103.7,99.6C104.0,103.9 103.1,111.9 101.5,113.8C99.8,115.7 98.3,111.7 93.9,110.9C89.5,110.2 81.0,110.3 75.1,109.4C69.1,108.6 62.2,109.1 58.1,105.7C54.0,102.2 54.4,92.5 50.6,88.7C46.8,85.0 39.9,86.2 35.5,83.1C31.1,79.9 27.0,74.3 24.2,69.9C21.4,65.4 18.6,62.0 18.6,56.3Z M54.4,28.1C54.0,23.6 53.4,16.8 54.4,13.0C55.3,9.2 55.3,6.1 60.0,5.5C64.7,4.8 77.2,6.7 82.6,9.2C88.0,11.7 91.8,16.8 92.4,20.5C93.0,24.3 87.0,27.4 86.4,31.8C85.8,36.2 89.9,43.4 88.6,46.9C87.4,50.4 82.4,52.6 78.8,52.9C75.3,53.3 71.3,51.4 67.5,49.2C63.8,47.0 58.4,43.3 56.2,39.7C54.0,36.2 54.7,32.5 54.4,28.1Z M25.2,26.2C26.3,24.0 31.4,23.4 32.7,25.2C34.0,27.1 33.8,35.3 32.7,37.5C31.6,39.7 27.4,40.3 26.1,38.4C24.9,36.5 24.1,28.4 25.2,26.2Z M67.5,52.6C68.8,50.0 77.6,49.7 82.6,50.7C87.6,51.6 93.9,55.1 97.7,58.2C101.5,61.3 106.5,67.0 105.2,69.5C104.0,72.0 95.2,73.9 90.1,73.3C85.1,72.6 78.8,69.2 75.1,65.7C71.3,62.3 66.3,55.1 67.5,52.6Z M101.5,69.5C104.6,68.2 120.3,71.4 124.1,73.3C127.8,75.2 127.2,79.6 124.1,80.8C120.9,82.1 109.0,82.7 105.2,80.8C101.5,78.9 98.3,70.8 101.5,69.5Z M92.0,101.5C93.6,100.1 101.6,101.2 103.3,103.4C105.1,105.6 104.0,113.3 102.4,114.7C100.8,116.1 95.6,114.1 93.9,111.9C92.2,109.7 90.5,102.9 92.0,101.5Z" fill="#0a22e6" stroke="#52d0ff" stroke-width="5" stroke-linejoin="round"/><path d="M18.6,56.3C18.6,50.6 21.4,39.1 24.2,35.6C27.0,32.1 31.8,34.3 35.5,35.6C39.3,36.9 43.1,40.9 46.8,43.1C50.6,45.3 54.7,46.3 58.1,48.8C61.6,51.3 64.7,54.4 67.5,58.2C70.4,62.0 71.3,68.6 75.1,71.4C78.8,74.2 86.1,72.3 90.1,75.2C94.2,78.0 97.3,84.3 99.6,88.3C101.8,92.4 103.4,95.4 103.7,99.6C104.0,103.9 103.1,111.9 101.5,113.8C99.8,115.7 98.3,111.7 93.9,110.9C89.5,110.2 81.0,110.3 75.1,109.4C69.1,108.6 62.2,109.1 58.1,105.7C54.0,102.2 54.4,92.5 50.6,88.7C46.8,85.0 39.9,86.2 35.5,83.1C31.1,79.9 27.0,74.3 24.2,69.9C21.4,65.4 18.6,62.0 18.6,56.3Z M54.4,28.1C54.0,23.6 53.4,16.8 54.4,13.0C55.3,9.2 55.3,6.1 60.0,5.5C64.7,4.8 77.2,6.7 82.6,9.2C88.0,11.7 91.8,16.8 92.4,20.5C93.0,24.3 87.0,27.4 86.4,31.8C85.8,36.2 89.9,43.4 88.6,46.9C87.4,50.4 82.4,52.6 78.8,52.9C75.3,53.3 71.3,51.4 67.5,49.2C63.8,47.0 58.4,43.3 56.2,39.7C54.0,36.2 54.7,32.5 54.4,28.1Z M25.2,26.2C26.3,24.0 31.4,23.4 32.7,25.2C34.0,27.1 33.8,35.3 32.7,37.5C31.6,39.7 27.4,40.3 26.1,38.4C24.9,36.5 24.1,28.4 25.2,26.2Z M67.5,52.6C68.8,50.0 77.6,49.7 82.6,50.7C87.6,51.6 93.9,55.1 97.7,58.2C101.5,61.3 106.5,67.0 105.2,69.5C104.0,72.0 95.2,73.9 90.1,73.3C85.1,72.6 78.8,69.2 75.1,65.7C71.3,62.3 66.3,55.1 67.5,52.6Z M101.5,69.5C104.6,68.2 120.3,71.4 124.1,73.3C127.8,75.2 127.2,79.6 124.1,80.8C120.9,82.1 109.0,82.7 105.2,80.8C101.5,78.9 98.3,70.8 101.5,69.5Z M92.0,101.5C93.6,100.1 101.6,101.2 103.3,103.4C105.1,105.6 104.0,113.3 102.4,114.7C100.8,116.1 95.6,114.1 93.9,111.9C92.2,109.7 90.5,102.9 92.0,101.5Z" fill="#0a22e6" stroke="#1272ff" stroke-width="2.4" stroke-linejoin="round"/></g>
<g filter="url(#roughG)"><path d="M28.0,45.0C29.5,40.2 34.0,37.2 37.4,37.5C40.9,37.8 44.6,44.0 48.7,46.9C52.9,49.8 59.4,51.6 62.3,54.8C65.2,58.0 66.7,63.0 66.0,66.1C65.4,69.3 60.7,71.5 58.5,73.6C56.3,75.8 54.4,77.1 52.9,79.3C51.3,81.5 51.9,86.8 49.1,86.8C46.3,86.8 39.4,82.8 35.9,79.3C32.4,75.8 29.7,71.8 28.4,66.1C27.0,60.4 26.5,49.8 28.0,45.0Z M48.7,81.2C49.3,78.0 53.4,74.9 58.1,73.6C62.8,72.4 70.9,72.4 77.0,73.6C83.0,74.9 90.0,76.8 94.3,81.2C98.6,85.6 104.3,95.6 103.0,100.0C101.6,104.4 93.5,106.6 86.4,107.6C79.3,108.5 65.7,108.2 60.4,105.7C55.1,103.2 56.7,96.6 54.7,92.5C52.8,88.4 48.1,84.3 48.7,81.2Z M57.2,24.3C58.8,23.0 65.7,22.4 67.5,23.4C69.4,24.3 70.1,28.7 68.5,29.9C66.9,31.2 60.0,31.8 58.1,30.9C56.2,29.9 55.6,25.6 57.2,24.3Z M71.3,11.1C72.7,9.7 79.0,8.9 80.7,10.2C82.5,11.4 83.1,17.2 81.7,18.6C80.3,20.1 74.0,19.9 72.3,18.6C70.5,17.4 69.9,12.5 71.3,11.1Z M78.8,33.7C80.0,31.4 85.1,30.6 86.4,32.8C87.7,35.0 88.0,44.5 86.8,46.9C85.6,49.3 80.5,49.1 79.2,46.9C77.9,44.7 77.7,36.1 78.8,33.7Z M67.5,54.4C68.6,53.7 73.8,54.3 75.1,55.4C76.3,56.5 76.2,60.2 75.1,61.0C74.0,61.8 69.7,61.2 68.5,60.1C67.2,59.0 66.4,55.2 67.5,54.4Z" fill="#12d414" stroke="#04207a" stroke-width="2.6" stroke-linejoin="round"/><path d="M28.0,45.0C29.5,40.2 34.0,37.2 37.4,37.5C40.9,37.8 44.6,44.0 48.7,46.9C52.9,49.8 59.4,51.6 62.3,54.8C65.2,58.0 66.7,63.0 66.0,66.1C65.4,69.3 60.7,71.5 58.5,73.6C56.3,75.8 54.4,77.1 52.9,79.3C51.3,81.5 51.9,86.8 49.1,86.8C46.3,86.8 39.4,82.8 35.9,79.3C32.4,75.8 29.7,71.8 28.4,66.1C27.0,60.4 26.5,49.8 28.0,45.0Z M48.7,81.2C49.3,78.0 53.4,74.9 58.1,73.6C62.8,72.4 70.9,72.4 77.0,73.6C83.0,74.9 90.0,76.8 94.3,81.2C98.6,85.6 104.3,95.6 103.0,100.0C101.6,104.4 93.5,106.6 86.4,107.6C79.3,108.5 65.7,108.2 60.4,105.7C55.1,103.2 56.7,96.6 54.7,92.5C52.8,88.4 48.1,84.3 48.7,81.2Z M57.2,24.3C58.8,23.0 65.7,22.4 67.5,23.4C69.4,24.3 70.1,28.7 68.5,29.9C66.9,31.2 60.0,31.8 58.1,30.9C56.2,29.9 55.6,25.6 57.2,24.3Z M71.3,11.1C72.7,9.7 79.0,8.9 80.7,10.2C82.5,11.4 83.1,17.2 81.7,18.6C80.3,20.1 74.0,19.9 72.3,18.6C70.5,17.4 69.9,12.5 71.3,11.1Z M78.8,33.7C80.0,31.4 85.1,30.6 86.4,32.8C87.7,35.0 88.0,44.5 86.8,46.9C85.6,49.3 80.5,49.1 79.2,46.9C77.9,44.7 77.7,36.1 78.8,33.7Z M67.5,54.4C68.6,53.7 73.8,54.3 75.1,55.4C76.3,56.5 76.2,60.2 75.1,61.0C74.0,61.8 69.7,61.2 68.5,60.1C67.2,59.0 66.4,55.2 67.5,54.4Z" fill="#12d414" stroke="#067a3a" stroke-width="1.1"/></g>
<path d="M32.7,50.7C34.9,47.5 42.0,45.6 46.8,46.9C51.7,48.2 60.0,54.1 61.9,58.2C63.8,62.3 61.0,68.6 58.1,71.4C55.3,74.2 49.0,76.1 44.9,75.2C40.9,74.2 35.7,69.8 33.6,65.7C31.6,61.7 30.5,53.8 32.7,50.7Z M50.6,80.8C54.2,78.0 69.6,74.8 77.0,75.2C84.3,75.5 91.1,78.9 94.9,82.7C98.6,86.5 101.0,93.9 99.6,97.8C98.2,101.6 92.3,104.7 86.4,105.7C80.4,106.6 69.0,105.7 63.8,103.4C58.6,101.1 57.5,95.9 55.3,92.1C53.1,88.3 47.0,83.6 50.6,80.8Z" fill="#86ee10" filter="url(#roughY)"/>
<path d="M40.2,55.4C41.9,54.0 46.1,52.6 48.7,53.5C51.3,54.3 55.1,58.1 55.7,60.5C56.3,62.8 54.6,66.4 52.5,67.6C50.4,68.9 45.3,68.9 43.1,68.0C40.8,67.1 39.4,64.1 38.9,62.0C38.4,59.9 38.6,56.8 40.2,55.4Z M51.0,81.2C52.2,78.7 59.1,78.1 63.8,77.4C68.4,76.7 73.6,75.8 78.8,77.0C84.1,78.2 92.3,81.1 95.4,84.6C98.6,88.0 99.2,94.4 97.7,97.8C96.2,101.1 91.4,104.3 86.4,104.9C81.4,105.5 72.6,103.7 67.5,101.5C62.5,99.4 59.0,95.5 56.2,92.1C53.5,88.7 49.7,83.6 51.0,81.2Z" fill="#f4f400" filter="url(#rough2)"/>
<path d="M51.5,79.9C53.1,77.9 59.5,77.1 61.9,78.5C64.2,80.0 66.0,85.8 65.7,88.3C65.3,90.9 62.2,93.3 60.0,93.6C57.8,93.9 53.9,92.5 52.5,90.2C51.1,87.9 50.0,81.8 51.5,79.9Z M67.5,80.8C70.2,78.9 78.0,77.6 82.6,78.5C87.3,79.5 93.2,83.3 95.4,86.5C97.7,89.7 97.7,94.9 96.2,97.8C94.7,100.6 90.5,102.9 86.4,103.4C82.2,103.9 74.6,102.8 71.3,100.6C68.0,98.4 67.2,93.5 66.6,90.2C66.0,86.9 64.9,82.8 67.5,80.8Z" fill="#ff9a00" filter="url(#rough2)"/>
<path d="M95.0,92.5C95.0,94.1 94.4,95.8 93.3,97.2C92.3,98.6 90.5,99.9 88.6,100.6C86.8,101.4 84.4,101.9 82.2,101.9C80.1,101.9 77.7,101.4 75.8,100.6C74.0,99.9 72.2,98.6 71.1,97.2C70.1,95.8 69.4,94.1 69.4,92.5C69.4,90.9 70.1,89.1 71.1,87.8C72.2,86.4 74.0,85.1 75.8,84.3C77.7,83.5 80.1,83.1 82.2,83.1C84.4,83.1 86.8,83.5 88.6,84.3C90.5,85.1 92.3,86.4 93.3,87.8C94.4,89.1 95.0,90.9 95.0,92.5Z" fill="#e81400" filter="url(#rough2)"/>
<path d="M86.8,94.9C86.8,95.8 86.3,96.8 85.7,97.5C85.0,98.2 83.9,98.8 82.9,99.1C81.8,99.3 80.4,99.3 79.4,99.1C78.3,98.8 77.2,98.2 76.5,97.5C75.9,96.8 75.5,95.8 75.5,94.9C75.5,94.1 75.9,93.1 76.5,92.4C77.2,91.7 78.3,91.1 79.4,90.8C80.4,90.6 81.8,90.6 82.9,90.8C83.9,91.1 85.0,91.7 85.7,92.4C86.3,93.1 86.8,94.1 86.8,94.9Z" fill="#a80000" filter="url(#rough2)"/>
<path d="M66.6,32.8C67.6,31.8 72.0,31.4 73.2,32.2C74.4,33.0 74.6,36.5 73.6,37.5C72.6,38.4 68.3,38.6 67.2,37.9C66.0,37.1 65.6,33.7 66.6,32.8Z" fill="#eaf6ff" filter="url(#rough)"/>
</g>
<g id="scene4g" clip-path="url(#clip200)">
<rect width="200" height="200" fill="#2a2a2a"/>
<rect width="200" height="200" filter="url(#texg4)" opacity="0.3"/>
<ellipse cx="86.4" cy="133.5" rx="62.2" ry="47.1" fill="none" stroke="#fff" stroke-opacity="0.015" stroke-width="12" filter="url(#blur3)"/>
<ellipse cx="93.9" cy="141.1" rx="41.4" ry="30.1" fill="none" stroke="#fff" stroke-opacity="0.015" stroke-width="12" filter="url(#blur3)"/>
<ellipse cx="97.7" cy="141.1" rx="86.6" ry="67.8" fill="none" stroke="#fff" stroke-opacity="0.015" stroke-width="12" filter="url(#blur3)"/>
<path d="M9.2,37.5C11.0,30.9 19.5,26.8 26.1,22.4C32.7,18.0 43.1,14.6 48.7,11.1C54.4,7.7 51.8,3.0 60.0,1.7C68.2,0.4 88.9,1.4 97.7,3.6C106.5,5.8 104.6,13.0 112.8,14.9C120.9,16.8 138.5,12.1 146.7,14.9C154.8,17.7 157.3,24.6 161.7,31.8C166.1,39.1 169.6,51.3 173.0,58.2C176.5,65.1 182.8,65.7 182.4,73.3C182.1,80.8 176.5,96.5 171.1,103.4C165.8,110.3 156.4,110.3 150.4,114.7C144.5,119.1 141.6,127.4 135.4,129.8C129.1,132.1 119.0,130.7 112.8,128.8C106.5,127.0 105.8,120.5 97.7,118.5C89.5,116.4 71.9,120.4 63.8,116.6C55.6,112.8 54.4,101.8 48.7,95.9C43.1,89.9 35.5,86.5 29.9,80.8C24.2,75.2 18.3,69.2 14.8,62.0C11.4,54.7 7.3,44.1 9.2,37.5Z M93.9,167.5C96.1,164.0 100.2,158.3 105.2,158.0C110.2,157.7 118.1,162.4 124.1,165.6C130.0,168.7 139.8,173.4 141.0,176.9C142.3,180.3 137.6,184.4 131.6,186.3C125.6,188.2 111.8,189.4 105.2,188.2C98.6,186.9 93.9,182.2 92.0,178.8C90.1,175.3 91.7,170.9 93.9,167.5Z M106.5,161.8C106.5,162.6 106.0,163.6 105.3,164.2C104.6,164.8 103.4,165.2 102.4,165.2C101.4,165.2 100.2,164.8 99.5,164.2C98.8,163.6 98.2,162.6 98.2,161.8C98.2,161.0 98.8,160.0 99.5,159.4C100.2,158.8 101.4,158.4 102.4,158.4C103.4,158.4 104.6,158.8 105.3,159.4C106.0,160.0 106.5,161.0 106.5,161.8Z" fill="#3d3d3d" filter="url(#haloF)" opacity="0.6"/>
<path d="M3.5,5.5C12.0,-2.1 45.9,-2.1 54.4,1.7C62.8,5.5 60.0,19.6 54.4,28.1C48.7,36.5 28.9,49.4 20.5,52.6C12.0,55.7 6.3,54.7 3.5,46.9C0.7,39.1 -5.0,13.0 3.5,5.5Z M142.9,13.0C144.8,8.3 171.8,25.6 180.6,37.5C189.4,49.4 196.3,72.3 195.6,84.6C195.0,96.8 181.2,114.1 176.8,110.9C172.4,107.8 174.9,82.1 169.3,65.7C163.6,49.4 141.0,17.7 142.9,13.0Z" fill="#3d3d3d" filter="url(#haloF)" opacity="0.4"/>
<path d="M110.9,16.8C112.8,15.7 118.4,15.5 124.1,15.8C129.7,16.1 141.6,17.1 144.8,18.6C147.9,20.2 146.3,24.3 142.9,25.2C139.4,26.2 129.1,24.8 124.1,24.3C119.0,23.8 114.9,23.7 112.8,22.4C110.6,21.2 109.0,17.9 110.9,16.8Z M114.6,28.1C115.3,26.5 122.8,26.7 127.8,27.1C132.8,27.6 142.3,29.2 144.8,30.9C147.3,32.6 146.3,36.5 142.9,37.5C139.4,38.4 128.8,38.1 124.1,36.5C119.3,35.0 114.0,29.6 114.6,28.1Z M110.9,45.0C112.8,44.2 119.7,43.9 124.1,44.1C128.4,44.2 135.2,45.0 137.2,46.0C139.3,46.9 140.4,49.2 136.3,49.7C132.2,50.3 117.0,49.9 112.8,49.2C108.5,48.4 109.0,45.9 110.9,45.0Z M90.1,65.7C88.9,61.3 92.0,55.7 97.7,54.4C103.3,53.2 115.6,55.4 124.1,58.2C132.5,61.0 141.3,67.0 148.5,71.4C155.8,75.8 164.1,79.2 167.4,84.6C170.7,89.9 172.1,98.9 168.3,103.4C164.6,108.0 149.6,108.7 144.8,111.9C139.9,115.0 144.1,119.8 139.1,122.2C134.1,124.7 120.0,128.9 114.6,126.4C109.3,123.9 108.7,114.8 107.1,107.2C105.5,99.6 108.0,87.7 105.2,80.8C102.4,73.9 91.4,70.1 90.1,65.7Z M46.8,11.1C47.5,8.9 52.8,5.1 56.2,3.6C59.7,2.0 66.3,0.8 67.5,1.7C68.8,2.6 66.3,6.7 63.8,9.2C61.3,11.7 55.3,16.5 52.5,16.8C49.7,17.1 46.2,13.3 46.8,11.1Z M86.4,37.5C88.9,35.3 101.5,36.9 105.2,39.4C109.0,41.9 111.5,50.4 109.0,52.6C106.5,54.7 93.9,55.1 90.1,52.6C86.4,50.0 83.9,39.7 86.4,37.5Z M63.8,110.9C65.2,110.1 71.6,109.2 73.2,110.0C74.8,110.8 74.6,114.8 73.2,115.7C71.8,116.5 66.3,115.9 64.7,115.1C63.2,114.3 62.4,111.8 63.8,110.9Z M125.0,171.2C125.8,170.4 129.5,172.6 130.6,174.0C131.7,175.5 132.4,178.9 131.6,179.7C130.8,180.5 127.0,180.2 125.9,178.8C124.8,177.3 124.2,172.0 125.0,171.2Z M161.7,62.0C162.5,62.0 166.7,67.3 167.4,69.5C168.0,71.7 166.3,75.2 165.5,75.2C164.7,75.2 163.3,71.7 162.7,69.5C162.0,67.3 160.9,62.0 161.7,62.0Z M173.0,63.9C173.3,63.5 179.6,71.4 180.6,73.3C181.5,75.2 179.9,76.7 178.7,75.2C177.4,73.6 172.7,64.2 173.0,63.9Z M18.6,56.3C18.6,50.6 21.4,39.1 24.2,35.6C27.0,32.1 31.8,34.3 35.5,35.6C39.3,36.9 43.1,40.9 46.8,43.1C50.6,45.3 54.7,46.3 58.1,48.8C61.6,51.3 64.7,54.4 67.5,58.2C70.4,62.0 71.3,68.6 75.1,71.4C78.8,74.2 86.1,72.3 90.1,75.2C94.2,78.0 97.3,84.3 99.6,88.3C101.8,92.4 103.4,95.4 103.7,99.6C104.0,103.9 103.1,111.9 101.5,113.8C99.8,115.7 98.3,111.7 93.9,110.9C89.5,110.2 81.0,110.3 75.1,109.4C69.1,108.6 62.2,109.1 58.1,105.7C54.0,102.2 54.4,92.5 50.6,88.7C46.8,85.0 39.9,86.2 35.5,83.1C31.1,79.9 27.0,74.3 24.2,69.9C21.4,65.4 18.6,62.0 18.6,56.3Z M54.4,28.1C54.0,23.6 53.4,16.8 54.4,13.0C55.3,9.2 55.3,6.1 60.0,5.5C64.7,4.8 77.2,6.7 82.6,9.2C88.0,11.7 91.8,16.8 92.4,20.5C93.0,24.3 87.0,27.4 86.4,31.8C85.8,36.2 89.9,43.4 88.6,46.9C87.4,50.4 82.4,52.6 78.8,52.9C75.3,53.3 71.3,51.4 67.5,49.2C63.8,47.0 58.4,43.3 56.2,39.7C54.0,36.2 54.7,32.5 54.4,28.1Z M25.2,26.2C26.3,24.0 31.4,23.4 32.7,25.2C34.0,27.1 33.8,35.3 32.7,37.5C31.6,39.7 27.4,40.3 26.1,38.4C24.9,36.5 24.1,28.4 25.2,26.2Z M67.5,52.6C68.8,50.0 77.6,49.7 82.6,50.7C87.6,51.6 93.9,55.1 97.7,58.2C101.5,61.3 106.5,67.0 105.2,69.5C104.0,72.0 95.2,73.9 90.1,73.3C85.1,72.6 78.8,69.2 75.1,65.7C71.3,62.3 66.3,55.1 67.5,52.6Z M101.5,69.5C104.6,68.2 120.3,71.4 124.1,73.3C127.8,75.2 127.2,79.6 124.1,80.8C120.9,82.1 109.0,82.7 105.2,80.8C101.5,78.9 98.3,70.8 101.5,69.5Z M92.0,101.5C93.6,100.1 101.6,101.2 103.3,103.4C105.1,105.6 104.0,113.3 102.4,114.7C100.8,116.1 95.6,114.1 93.9,111.9C92.2,109.7 90.5,102.9 92.0,101.5Z M28.0,45.0C29.5,40.2 34.0,37.2 37.4,37.5C40.9,37.8 44.6,44.0 48.7,46.9C52.9,49.8 59.4,51.6 62.3,54.8C65.2,58.0 66.7,63.0 66.0,66.1C65.4,69.3 60.7,71.5 58.5,73.6C56.3,75.8 54.4,77.1 52.9,79.3C51.3,81.5 51.9,86.8 49.1,86.8C46.3,86.8 39.4,82.8 35.9,79.3C32.4,75.8 29.7,71.8 28.4,66.1C27.0,60.4 26.5,49.8 28.0,45.0Z M48.7,81.2C49.3,78.0 53.4,74.9 58.1,73.6C62.8,72.4 70.9,72.4 77.0,73.6C83.0,74.9 90.0,76.8 94.3,81.2C98.6,85.6 104.3,95.6 103.0,100.0C101.6,104.4 93.5,106.6 86.4,107.6C79.3,108.5 65.7,108.2 60.4,105.7C55.1,103.2 56.7,96.6 54.7,92.5C52.8,88.4 48.1,84.3 48.7,81.2Z M57.2,24.3C58.8,23.0 65.7,22.4 67.5,23.4C69.4,24.3 70.1,28.7 68.5,29.9C66.9,31.2 60.0,31.8 58.1,30.9C56.2,29.9 55.6,25.6 57.2,24.3Z M71.3,11.1C72.7,9.7 79.0,8.9 80.7,10.2C82.5,11.4 83.1,17.2 81.7,18.6C80.3,20.1 74.0,19.9 72.3,18.6C70.5,17.4 69.9,12.5 71.3,11.1Z M78.8,33.7C80.0,31.4 85.1,30.6 86.4,32.8C87.7,35.0 88.0,44.5 86.8,46.9C85.6,49.3 80.5,49.1 79.2,46.9C77.9,44.7 77.7,36.1 78.8,33.7Z M67.5,54.4C68.6,53.7 73.8,54.3 75.1,55.4C76.3,56.5 76.2,60.2 75.1,61.0C74.0,61.8 69.7,61.2 68.5,60.1C67.2,59.0 66.4,55.2 67.5,54.4Z" fill="#3d3d3d" stroke="#3d3d3d" stroke-width="6" stroke-linejoin="round" filter="url(#edgeF)" opacity="0.8"/>
<path d="M110.9,16.8C112.8,15.7 118.4,15.5 124.1,15.8C129.7,16.1 141.6,17.1 144.8,18.6C147.9,20.2 146.3,24.3 142.9,25.2C139.4,26.2 129.1,24.8 124.1,24.3C119.0,23.8 114.9,23.7 112.8,22.4C110.6,21.2 109.0,17.9 110.9,16.8Z M114.6,28.1C115.3,26.5 122.8,26.7 127.8,27.1C132.8,27.6 142.3,29.2 144.8,30.9C147.3,32.6 146.3,36.5 142.9,37.5C139.4,38.4 128.8,38.1 124.1,36.5C119.3,35.0 114.0,29.6 114.6,28.1Z M110.9,45.0C112.8,44.2 119.7,43.9 124.1,44.1C128.4,44.2 135.2,45.0 137.2,46.0C139.3,46.9 140.4,49.2 136.3,49.7C132.2,50.3 117.0,49.9 112.8,49.2C108.5,48.4 109.0,45.9 110.9,45.0Z M90.1,65.7C88.9,61.3 92.0,55.7 97.7,54.4C103.3,53.2 115.6,55.4 124.1,58.2C132.5,61.0 141.3,67.0 148.5,71.4C155.8,75.8 164.1,79.2 167.4,84.6C170.7,89.9 172.1,98.9 168.3,103.4C164.6,108.0 149.6,108.7 144.8,111.9C139.9,115.0 144.1,119.8 139.1,122.2C134.1,124.7 120.0,128.9 114.6,126.4C109.3,123.9 108.7,114.8 107.1,107.2C105.5,99.6 108.0,87.7 105.2,80.8C102.4,73.9 91.4,70.1 90.1,65.7Z M46.8,11.1C47.5,8.9 52.8,5.1 56.2,3.6C59.7,2.0 66.3,0.8 67.5,1.7C68.8,2.6 66.3,6.7 63.8,9.2C61.3,11.7 55.3,16.5 52.5,16.8C49.7,17.1 46.2,13.3 46.8,11.1Z M86.4,37.5C88.9,35.3 101.5,36.9 105.2,39.4C109.0,41.9 111.5,50.4 109.0,52.6C106.5,54.7 93.9,55.1 90.1,52.6C86.4,50.0 83.9,39.7 86.4,37.5Z M63.8,110.9C65.2,110.1 71.6,109.2 73.2,110.0C74.8,110.8 74.6,114.8 73.2,115.7C71.8,116.5 66.3,115.9 64.7,115.1C63.2,114.3 62.4,111.8 63.8,110.9Z M125.0,171.2C125.8,170.4 129.5,172.6 130.6,174.0C131.7,175.5 132.4,178.9 131.6,179.7C130.8,180.5 127.0,180.2 125.9,178.8C124.8,177.3 124.2,172.0 125.0,171.2Z M161.7,62.0C162.5,62.0 166.7,67.3 167.4,69.5C168.0,71.7 166.3,75.2 165.5,75.2C164.7,75.2 163.3,71.7 162.7,69.5C162.0,67.3 160.9,62.0 161.7,62.0Z M173.0,63.9C173.3,63.5 179.6,71.4 180.6,73.3C181.5,75.2 179.9,76.7 178.7,75.2C177.4,73.6 172.7,64.2 173.0,63.9Z" fill="#494949" filter="url(#roughb)"/>
<path d="M107.1,80.8C108.0,78.0 112.1,76.4 114.6,78.9C117.1,81.4 121.9,91.8 122.2,95.9C122.5,100.0 118.7,103.4 116.5,103.4C114.3,103.4 110.6,99.6 109.0,95.9C107.4,92.1 106.2,83.6 107.1,80.8Z M127.8,95.9C128.1,92.7 133.2,90.9 135.4,92.1C137.6,93.4 141.3,100.3 141.0,103.4C140.7,106.5 135.7,112.2 133.5,110.9C131.3,109.7 127.5,99.0 127.8,95.9Z M142.9,77.0C143.5,74.8 148.5,76.7 150.4,78.9C152.3,81.1 154.8,88.0 154.2,90.2C153.6,92.4 148.5,94.3 146.7,92.1C144.8,89.9 142.3,79.2 142.9,77.0Z M122.2,103.4C123.7,102.5 127.5,104.7 127.8,107.2C128.1,109.7 125.6,117.5 124.1,118.5C122.5,119.4 118.7,115.3 118.4,112.8C118.1,110.3 120.6,104.4 122.2,103.4Z M97.7,60.5C100.4,60.5 107.7,62.0 112.8,64.2C117.8,66.4 126.3,71.6 128.2,73.6C130.1,75.7 127.6,77.4 124.4,76.7C121.2,75.9 113.6,71.2 109.0,69.1C104.4,67.1 98.6,65.7 96.7,64.2C94.9,62.8 95.0,60.5 97.7,60.5Z M112.8,52.9C115.9,52.9 125.2,54.2 131.6,56.7C137.9,59.2 148.0,65.6 150.8,68.0C153.6,70.4 152.1,72.1 148.5,71.0C145.0,69.9 135.7,64.0 129.7,61.6C123.7,59.2 115.6,58.1 112.8,56.7C109.9,55.3 109.6,52.9 112.8,52.9Z M147.0,92.5C148.0,91.5 153.9,94.1 156.5,96.3C159.0,98.4 161.9,103.8 162.1,105.7C162.4,107.6 159.8,108.2 158.0,107.6C156.1,106.9 152.6,104.4 150.8,101.9C149.0,99.4 146.1,93.4 147.0,92.5Z M112.8,110.9C113.4,109.4 118.7,110.9 120.3,112.8C121.9,114.8 122.8,121.1 122.2,122.6C121.5,124.2 118.1,124.2 116.5,122.2C114.9,120.3 112.1,112.5 112.8,110.9Z" fill="#424242" filter="url(#roughb)"/>
<path d="M18.6,56.3C18.6,50.6 21.4,39.1 24.2,35.6C27.0,32.1 31.8,34.3 35.5,35.6C39.3,36.9 43.1,40.9 46.8,43.1C50.6,45.3 54.7,46.3 58.1,48.8C61.6,51.3 64.7,54.4 67.5,58.2C70.4,62.0 71.3,68.6 75.1,71.4C78.8,74.2 86.1,72.3 90.1,75.2C94.2,78.0 97.3,84.3 99.6,88.3C101.8,92.4 103.4,95.4 103.7,99.6C104.0,103.9 103.1,111.9 101.5,113.8C99.8,115.7 98.3,111.7 93.9,110.9C89.5,110.2 81.0,110.3 75.1,109.4C69.1,108.6 62.2,109.1 58.1,105.7C54.0,102.2 54.4,92.5 50.6,88.7C46.8,85.0 39.9,86.2 35.5,83.1C31.1,79.9 27.0,74.3 24.2,69.9C21.4,65.4 18.6,62.0 18.6,56.3Z M54.4,28.1C54.0,23.6 53.4,16.8 54.4,13.0C55.3,9.2 55.3,6.1 60.0,5.5C64.7,4.8 77.2,6.7 82.6,9.2C88.0,11.7 91.8,16.8 92.4,20.5C93.0,24.3 87.0,27.4 86.4,31.8C85.8,36.2 89.9,43.4 88.6,46.9C87.4,50.4 82.4,52.6 78.8,52.9C75.3,53.3 71.3,51.4 67.5,49.2C63.8,47.0 58.4,43.3 56.2,39.7C54.0,36.2 54.7,32.5 54.4,28.1Z M25.2,26.2C26.3,24.0 31.4,23.4 32.7,25.2C34.0,27.1 33.8,35.3 32.7,37.5C31.6,39.7 27.4,40.3 26.1,38.4C24.9,36.5 24.1,28.4 25.2,26.2Z M67.5,52.6C68.8,50.0 77.6,49.7 82.6,50.7C87.6,51.6 93.9,55.1 97.7,58.2C101.5,61.3 106.5,67.0 105.2,69.5C104.0,72.0 95.2,73.9 90.1,73.3C85.1,72.6 78.8,69.2 75.1,65.7C71.3,62.3 66.3,55.1 67.5,52.6Z M101.5,69.5C104.6,68.2 120.3,71.4 124.1,73.3C127.8,75.2 127.2,79.6 124.1,80.8C120.9,82.1 109.0,82.7 105.2,80.8C101.5,78.9 98.3,70.8 101.5,69.5Z M92.0,101.5C93.6,100.1 101.6,101.2 103.3,103.4C105.1,105.6 104.0,113.3 102.4,114.7C100.8,116.1 95.6,114.1 93.9,111.9C92.2,109.7 90.5,102.9 92.0,101.5Z" fill="#585858" filter="url(#roughb)"/>
<path d="M28.0,45.0C29.5,40.2 34.0,37.2 37.4,37.5C40.9,37.8 44.6,44.0 48.7,46.9C52.9,49.8 59.4,51.6 62.3,54.8C65.2,58.0 66.7,63.0 66.0,66.1C65.4,69.3 60.7,71.5 58.5,73.6C56.3,75.8 54.4,77.1 52.9,79.3C51.3,81.5 51.9,86.8 49.1,86.8C46.3,86.8 39.4,82.8 35.9,79.3C32.4,75.8 29.7,71.8 28.4,66.1C27.0,60.4 26.5,49.8 28.0,45.0Z M48.7,81.2C49.3,78.0 53.4,74.9 58.1,73.6C62.8,72.4 70.9,72.4 77.0,73.6C83.0,74.9 90.0,76.8 94.3,81.2C98.6,85.6 104.3,95.6 103.0,100.0C101.6,104.4 93.5,106.6 86.4,107.6C79.3,108.5 65.7,108.2 60.4,105.7C55.1,103.2 56.7,96.6 54.7,92.5C52.8,88.4 48.1,84.3 48.7,81.2Z M57.2,24.3C58.8,23.0 65.7,22.4 67.5,23.4C69.4,24.3 70.1,28.7 68.5,29.9C66.9,31.2 60.0,31.8 58.1,30.9C56.2,29.9 55.6,25.6 57.2,24.3Z M71.3,11.1C72.7,9.7 79.0,8.9 80.7,10.2C82.5,11.4 83.1,17.2 81.7,18.6C80.3,20.1 74.0,19.9 72.3,18.6C70.5,17.4 69.9,12.5 71.3,11.1Z M78.8,33.7C80.0,31.4 85.1,30.6 86.4,32.8C87.7,35.0 88.0,44.5 86.8,46.9C85.6,49.3 80.5,49.1 79.2,46.9C77.9,44.7 77.7,36.1 78.8,33.7Z M67.5,54.4C68.6,53.7 73.8,54.3 75.1,55.4C76.3,56.5 76.2,60.2 75.1,61.0C74.0,61.8 69.7,61.2 68.5,60.1C67.2,59.0 66.4,55.2 67.5,54.4Z" fill="#939393" filter="url(#roughb)"/>
<path d="M32.7,50.7C34.9,47.5 42.0,45.6 46.8,46.9C51.7,48.2 60.0,54.1 61.9,58.2C63.8,62.3 61.0,68.6 58.1,71.4C55.3,74.2 49.0,76.1 44.9,75.2C40.9,74.2 35.7,69.8 33.6,65.7C31.6,61.7 30.5,53.8 32.7,50.7Z M50.6,80.8C54.2,78.0 69.6,74.8 77.0,75.2C84.3,75.5 91.1,78.9 94.9,82.7C98.6,86.5 101.0,93.9 99.6,97.8C98.2,101.6 92.3,104.7 86.4,105.7C80.4,106.6 69.0,105.7 63.8,103.4C58.6,101.1 57.5,95.9 55.3,92.1C53.1,88.3 47.0,83.6 50.6,80.8Z" fill="#a3a3a3" filter="url(#rough2b)"/>
<path d="M40.2,55.4C41.9,54.0 46.1,52.6 48.7,53.5C51.3,54.3 55.1,58.1 55.7,60.5C56.3,62.8 54.6,66.4 52.5,67.6C50.4,68.9 45.3,68.9 43.1,68.0C40.8,67.1 39.4,64.1 38.9,62.0C38.4,59.9 38.6,56.8 40.2,55.4Z M51.0,81.2C52.2,78.7 59.1,78.1 63.8,77.4C68.4,76.7 73.6,75.8 78.8,77.0C84.1,78.2 92.3,81.1 95.4,84.6C98.6,88.0 99.2,94.4 97.7,97.8C96.2,101.1 91.4,104.3 86.4,104.9C81.4,105.5 72.6,103.7 67.5,101.5C62.5,99.4 59.0,95.5 56.2,92.1C53.5,88.7 49.7,83.6 51.0,81.2Z" fill="#b0b0b0" filter="url(#rough2b)"/>
<path d="M51.5,79.9C53.1,77.9 59.5,77.1 61.9,78.5C64.2,80.0 66.0,85.8 65.7,88.3C65.3,90.9 62.2,93.3 60.0,93.6C57.8,93.9 53.9,92.5 52.5,90.2C51.1,87.9 50.0,81.8 51.5,79.9Z M67.5,80.8C70.2,78.9 78.0,77.6 82.6,78.5C87.3,79.5 93.2,83.3 95.4,86.5C97.7,89.7 97.7,94.9 96.2,97.8C94.7,100.6 90.5,102.9 86.4,103.4C82.2,103.9 74.6,102.8 71.3,100.6C68.0,98.4 67.2,93.5 66.6,90.2C66.0,86.9 64.9,82.8 67.5,80.8Z" fill="#bcbcbc" filter="url(#rough2b)"/>
<path d="M95.0,92.5C95.0,94.1 94.4,95.8 93.3,97.2C92.3,98.6 90.5,99.9 88.6,100.6C86.8,101.4 84.4,101.9 82.2,101.9C80.1,101.9 77.7,101.4 75.8,100.6C74.0,99.9 72.2,98.6 71.1,97.2C70.1,95.8 69.4,94.1 69.4,92.5C69.4,90.9 70.1,89.1 71.1,87.8C72.2,86.4 74.0,85.1 75.8,84.3C77.7,83.5 80.1,83.1 82.2,83.1C84.4,83.1 86.8,83.5 88.6,84.3C90.5,85.1 92.3,86.4 93.3,87.8C94.4,89.1 95.0,90.9 95.0,92.5Z" fill="#cdcdcd" filter="url(#rough2b)"/>
<path d="M86.8,94.9C86.8,95.8 86.3,96.8 85.7,97.5C85.0,98.2 83.9,98.8 82.9,99.1C81.8,99.3 80.4,99.3 79.4,99.1C78.3,98.8 77.2,98.2 76.5,97.5C75.9,96.8 75.5,95.8 75.5,94.9C75.5,94.1 75.9,93.1 76.5,92.4C77.2,91.7 78.3,91.1 79.4,90.8C80.4,90.6 81.8,90.6 82.9,90.8C83.9,91.1 85.0,91.7 85.7,92.4C86.3,93.1 86.8,94.1 86.8,94.9Z" fill="#dadada" filter="url(#rough2b)"/>
<path d="M66.6,32.8C67.6,31.8 72.0,31.4 73.2,32.2C74.4,33.0 74.6,36.5 73.6,37.5C72.6,38.4 68.3,38.6 67.2,37.9C66.0,37.1 65.6,33.7 66.6,32.8Z" fill="#555555" filter="url(#roughb)"/>
</g>
</defs>
<rect width="1168" height="2158" fill="#fff"/>
<text x="584.00" y="25.70" font-size="20.83" text-anchor="middle" fill="#000" >Estimated Max Wind Speed for 08E at 20250808 0310UTC</text>
<text x="131.80" y="102.80" font-size="15.28" text-anchor="middle" fill="#000" >IR from</text>
<text x="131.80" y="120.20" font-size="15.28" text-anchor="middle" fill="#000" >20250808</text>
<text x="131.80" y="137.60" font-size="15.28" text-anchor="middle" fill="#000" >at 0310UTC</text>
<use href="#scene0g" transform="translate(69.5,147.3) scale(0.623,0.6205)"/>
<rect x="69.50" y="147.30" width="124.60" height="124.10" fill="none" stroke="#000" stroke-width="1.1" />
<text x="274.80" y="102.80" font-size="15.28" text-anchor="middle" fill="#000" >IR from</text>
<text x="274.80" y="120.20" font-size="15.28" text-anchor="middle" fill="#000" >20250808</text>
<text x="274.80" y="137.60" font-size="15.28" text-anchor="middle" fill="#000" >at 0010UTC</text>
<use href="#scene1g" transform="translate(212.5,147.3) scale(0.623,0.6205)"/>
<rect x="212.50" y="147.30" width="124.60" height="124.10" fill="none" stroke="#000" stroke-width="1.1" />
<text x="416.90" y="102.80" font-size="15.28" text-anchor="middle" fill="#000" >IR from</text>
<text x="416.90" y="120.20" font-size="15.28" text-anchor="middle" fill="#000" >20250807</text>
<text x="416.90" y="137.60" font-size="15.28" text-anchor="middle" fill="#000" >at 2110UTC</text>
<use href="#scene2g" transform="translate(354.6,147.3) scale(0.623,0.6205)"/>
<rect x="354.60" y="147.30" width="124.60" height="124.10" fill="none" stroke="#000" stroke-width="1.1" />
<text x="558.90" y="102.80" font-size="15.28" text-anchor="middle" fill="#000" >IR from</text>
<text x="558.90" y="120.20" font-size="15.28" text-anchor="middle" fill="#000" >20250807</text>
<text x="558.90" y="137.60" font-size="15.28" text-anchor="middle" fill="#000" >at 1810UTC</text>
<use href="#scene3g" transform="translate(496.6,147.3) scale(0.623,0.6205)"/>
<rect x="496.60" y="147.30" width="124.60" height="124.10" fill="none" stroke="#000" stroke-width="1.1" />
<text x="702.10" y="102.80" font-size="15.28" text-anchor="middle" fill="#000" >IR from</text>
<text x="702.10" y="120.20" font-size="15.28" text-anchor="middle" fill="#000" >20250807</text>
<text x="702.10" y="137.60" font-size="15.28" text-anchor="middle" fill="#000" >at 1510UTC</text>
<use href="#scene4g" transform="translate(639.8,147.3) scale(0.623,0.6205)"/>
<rect x="639.80" y="147.30" width="124.60" height="124.10" fill="none" stroke="#000" stroke-width="1.1" />
<text x="934.40" y="50.30" font-size="15.28" text-anchor="middle" fill="#000" >Estimated MSW, knots</text>
<polygon points="802.10,359.60 802.10,357.40 815.00,357.40 815.00,337.40 816.20,337.40 816.20,296.00 818.00,296.00 818.00,250.10 819.30,250.10 819.30,125.00 820.30,125.00 820.30,152.00 822.20,152.00 822.20,73.20 823.60,73.20 823.60,178.20 826.80,178.20 826.80,235.90 828.80,235.90 828.80,288.30 832.70,288.30 832.70,327.00 834.90,327.00 834.90,330.00 836.80,330.00 836.80,342.00 841.90,342.00 841.90,351.30 846.00,351.30 846.00,359.60" fill="#8b008b"/>
<line x1="836.8" y1="359.6" x2="836.8" y2="59.8" stroke="#a9a9a9" stroke-width="5.6" stroke-dasharray="5.6 9.1" stroke-dashoffset="-1.5"/>
<line x1="823.90" y1="59.80" x2="823.90" y2="359.60" stroke="#000" stroke-width="2.0" />
<rect x="784.40" y="59.80" width="300.00" height="299.80" fill="none" stroke="#000" stroke-width="1.0" />
<line x1="819.30" y1="359.60" x2="819.30" y2="364.50" stroke="#000" stroke-width="1.0" />
<text x="819.30" y="381.00" font-size="13.89" text-anchor="middle" fill="#000" >25</text>
<line x1="863.55" y1="359.60" x2="863.55" y2="364.50" stroke="#000" stroke-width="1.0" />
<text x="863.55" y="381.00" font-size="13.89" text-anchor="middle" fill="#000" >50</text>
<line x1="907.80" y1="359.60" x2="907.80" y2="364.50" stroke="#000" stroke-width="1.0" />
<text x="907.80" y="381.00" font-size="13.89" text-anchor="middle" fill="#000" >75</text>
<line x1="952.05" y1="359.60" x2="952.05" y2="364.50" stroke="#000" stroke-width="1.0" />
<text x="952.05" y="381.00" font-size="13.89" text-anchor="middle" fill="#000" >100</text>
<line x1="996.30" y1="359.60" x2="996.30" y2="364.50" stroke="#000" stroke-width="1.0" />
<text x="996.30" y="381.00" font-size="13.89" text-anchor="middle" fill="#000" >125</text>
<line x1="1040.55" y1="359.60" x2="1040.55" y2="364.50" stroke="#000" stroke-width="1.0" />
<text x="1040.55" y="381.00" font-size="13.89" text-anchor="middle" fill="#000" >150</text>
<line x1="784.40" y1="359.60" x2="789.30" y2="359.60" stroke="#000" stroke-width="1.0" />
<line x1="1079.20" y1="359.60" x2="1084.40" y2="359.60" stroke="#000" stroke-width="1.0" />
<text x="1088.70" y="366.10" font-size="13.89" text-anchor="start" fill="#000" >0.0</text>
<line x1="784.40" y1="302.42" x2="789.30" y2="302.42" stroke="#000" stroke-width="1.0" />
<line x1="1079.20" y1="302.42" x2="1084.40" y2="302.42" stroke="#000" stroke-width="1.0" />
<text x="1088.70" y="308.92" font-size="13.89" text-anchor="start" fill="#000" >0.2</text>
<line x1="784.40" y1="245.24" x2="789.30" y2="245.24" stroke="#000" stroke-width="1.0" />
<line x1="1079.20" y1="245.24" x2="1084.40" y2="245.24" stroke="#000" stroke-width="1.0" />
<text x="1088.70" y="251.74" font-size="13.89" text-anchor="start" fill="#000" >0.4</text>
<line x1="784.40" y1="188.06" x2="789.30" y2="188.06" stroke="#000" stroke-width="1.0" />
<line x1="1079.20" y1="188.06" x2="1084.40" y2="188.06" stroke="#000" stroke-width="1.0" />
<text x="1088.70" y="194.56" font-size="13.89" text-anchor="start" fill="#000" >0.6</text>
<line x1="784.40" y1="130.88" x2="789.30" y2="130.88" stroke="#000" stroke-width="1.0" />
<line x1="1079.20" y1="130.88" x2="1084.40" y2="130.88" stroke="#000" stroke-width="1.0" />
<text x="1088.70" y="137.38" font-size="13.89" text-anchor="start" fill="#000" >0.8</text>
<line x1="784.40" y1="73.70" x2="789.30" y2="73.70" stroke="#000" stroke-width="1.0" />
<line x1="1079.20" y1="73.70" x2="1084.40" y2="73.70" stroke="#000" stroke-width="1.0" />
<text x="1088.70" y="80.20" font-size="13.89" text-anchor="start" fill="#000" >1.0</text>
<text transform="translate(1127,210) rotate(-90)" font-size="13.89" text-anchor="middle">Relative Prob</text>
<line x1="764.90" y1="395.70" x2="796.80" y2="395.70" stroke="#000" stroke-width="2.0" />
<text x="809.60" y="401.90" font-size="15.28" text-anchor="start" fill="#000" >D-PRINT average</text>
<line x1="970" y1="395.7" x2="1000.4" y2="395.7" stroke="#a9a9a9" stroke-width="5.6" stroke-dasharray="5.6 9.1"/>
<text x="1013.00" y="401.90" font-size="15.28" text-anchor="start" fill="#000" >NHC official</text>
<text x="584.00" y="442.00" font-size="19.44" text-anchor="middle" fill="#000" >D-PRINT SHAP Values for 2025_08E: updated at 20250808 0310 UTC</text>
<line x1="82.50" y1="703.77" x2="1088.50" y2="703.77" stroke="#d3d3d3" stroke-width="6.9" stroke-opacity="0.6"/>
<polyline points="94.2,778.5 159.4,778.5 223.3,753.5 287.2,741.0 926.6,741.0 1054.5,766.0 1088.5,766.0" fill="none" stroke="#000" stroke-width="3.1" stroke-linejoin="round" stroke-linejoin="miter"/>
<polyline points="126.4,713.2 160.0,712.6 200.0,711.9 250.0,711.0 300.0,710.2 340.0,709.8 357.0,709.3 365.0,710.2 380.0,709.8 420.0,708.6 470.0,707.3 520.0,706.4 580.0,705.4 640.0,704.6 700.0,703.6 800.0,703.0 900.0,702.6 1000.0,702.3 1088.5,702.2" fill="none" stroke="#ee35e0" stroke-width="2.6" stroke-linejoin="round" />
<polyline points="126.4,706.3 170.0,706.0 220.0,705.6 270.0,705.2 290.0,704.3 340.0,704.0 400.0,703.7 470.0,703.4 560.0,702.8 660.0,701.6 760.0,700.8 860.0,700.6 960.0,700.8 1088.5,701.0" fill="none" stroke="#48e8f0" stroke-width="2.6" stroke-linejoin="round" />
<polyline points="126.4,703.6 170.0,704.3 220.0,704.6 290.0,705.4 340.0,705.8 400.0,706.3 450.0,706.5 520.0,706.4 600.0,705.9 660.0,705.6 680.0,706.0 700.0,705.6 780.0,705.2 860.0,704.8 960.0,704.4 1088.5,703.9" fill="none" stroke="#f5873a" stroke-width="2.6" stroke-linejoin="round" />
<polyline points="126.4,694.6 136.0,695.1 145.6,694.9 155.3,694.7 164.9,695.1 174.5,695.2 184.1,694.5 193.7,694.5 203.4,695.0 213.0,695.0 222.6,694.7 232.2,695.1 241.9,695.7 251.5,695.4 261.1,695.1 270.7,695.5 280.3,695.6 290.0,695.0 299.6,694.9 309.2,695.5 318.8,695.5 328.4,695.2 338.1,695.6 347.7,696.2 357.3,695.9 366.9,695.5 376.5,695.8 386.2,695.9 395.8,695.4 405.4,695.3 415.0,695.9 424.7,696.1 434.3,695.7 443.9,696.0 453.5,696.6 463.1,696.3 472.8,695.8 482.4,696.1 492.0,696.3 501.6,695.8 511.2,695.7 520.9,696.3 530.5,696.6 540.1,696.2 549.7,696.4 559.3,697.0 569.0,696.7 578.6,696.2 588.2,696.4 597.8,696.7 607.5,696.3 617.1,696.1 626.7,696.7 636.3,697.1 645.9,696.7 655.6,696.8 665.2,697.3 674.8,697.1 684.4,696.5 694.0,696.6 703.7,697.0 713.3,696.7 722.9,696.5 732.5,697.2 742.1,697.6 751.8,697.2 761.4,697.1 771.0,697.6 780.6,697.4 790.2,696.8 799.9,696.9 809.5,697.4 819.1,697.2 828.7,697.0 838.4,697.6 848.0,698.0 857.6,697.6 867.2,697.4 876.8,697.9 886.5,697.8 896.1,697.2 905.7,697.2 915.3,697.8 924.9,697.7 934.6,697.4 944.2,698.0 953.8,698.4 963.4,698.0 973.0,697.7 982.7,698.1 992.3,698.1 1001.9,697.5 1011.5,697.6 1021.2,698.2 1030.8,698.2 1040.4,697.9 1050.0,698.3 1059.6,698.8 1069.3,698.4 1078.9,698.0 1088.5,698.3" fill="none" stroke="#36b34a" stroke-width="2.6" stroke-linejoin="round" />
<polyline points="126.2,768.1 137.0,775.6 148.1,772.5 159.6,763.5 169.9,760.4 177.1,769.9 182.2,773.0 187.9,772.0 198.2,774.0 216.1,772.5 217.9,774.5 220.0,772.5 225.1,773.5 230.3,767.3 235.4,769.9 247.0,768.9 251.6,762.7 256.7,775.6 261.9,767.3 267.0,761.2 272.7,767.3 277.8,752.4 285.5,749.4 291.9,747.3 294.5,742.2 304.8,748.3 309.9,747.8 316.3,753.7 321.5,754.7 326.6,754.0 331.2,765.5 342.0,764.0 348.4,757.1 357.9,751.4 368.2,762.7 379.8,751.9 384.6,750.1 390.0,759.6 395.2,764.0 411.1,738.6 417.5,744.2 422.1,746.3 427.0,755.3 432.4,760.9 438.1,750.6 448.3,743.7 452.2,749.4 459.1,762.7 470.2,754.5 473.3,756.5 474.8,764.0 485.6,758.3 490.7,759.1 496.4,757.1 501.5,758.3 506.1,755.8 512.6,745.5 517.7,750.6 523.4,741.6 528.0,745.5 533.6,748.1 544.7,747.6 547.2,757.6 549.3,749.4 554.4,750.6 560.1,755.0 565.7,748.8 570.9,747.8 575.5,749.9 581.4,758.9 587.1,748.8 600.7,759.1 603.2,755.8 608.1,754.2 614.0,757.8 618.7,759.6 623.8,759.4 629.4,762.2 639.7,757.8 645.6,764.8 651.3,761.4 661.5,762.2 664.4,765.2 666.5,760.9 672.1,766.1 683.1,761.7 688.3,756.5 693.4,756.5 699.0,759.1 704.2,755.0 709.3,760.9 714.5,761.4 728.8,771.2 731.2,768.1 736.3,769.4 746.6,769.4 757.6,764.0 762.7,756.5 769.9,768.1 773.0,767.8 778.7,761.4 783.8,757.8 788.9,760.1 800.0,754.0 805.1,757.8 815.4,757.3 826.5,766.8 831.6,764.0 837.2,771.7 842.9,772.2 852.7,774.5 856.5,774.3 858.6,771.7 863.7,773.0 868.8,778.4 874.5,777.1 879.6,778.9 886.0,777.4 890.4,774.0 895.0,775.0 900.7,772.7 906.2,779.2 920.7,779.8 922.9,777.8 927.6,779.3 933.4,775.7 938.3,776.6 943.7,773.4 949.2,773.0 954.0,774.3 959.8,782.6 965.4,781.9 971.1,782.8 986.0,783.9 991.8,788.1 1003.3,782.3 1007.8,781.4 1013.6,778.2 1022.8,779.8 1028.5,783.7 1034.2,779.8 1039.3,779.1 1045.0,785.6 1056.0,788.1 1060.6,786.9 1066.4,788.3 1070.9,787.4 1076.7,787.8 1082.4,784.4 1088.2,790.1" fill="none" stroke="#dc1e4e" stroke-width="2.6" stroke-linejoin="round" />
<rect x="82.50" y="453.40" width="1006.00" height="350.10" fill="none" stroke="#000" stroke-width="1.0" />
<line x1="77.60" y1="803.50" x2="82.50" y2="803.50" stroke="#000" stroke-width="1.0" />
<text x="72.10" y="809.80" font-size="15.28" text-anchor="end" fill="#000" >-40</text>
<line x1="77.60" y1="778.49" x2="82.50" y2="778.49" stroke="#000" stroke-width="1.0" />
<line x1="77.60" y1="753.49" x2="82.50" y2="753.49" stroke="#000" stroke-width="1.0" />
<text x="72.10" y="759.79" font-size="15.28" text-anchor="end" fill="#000" >-20</text>
<line x1="77.60" y1="728.48" x2="82.50" y2="728.48" stroke="#000" stroke-width="1.0" />
<line x1="77.60" y1="703.47" x2="82.50" y2="703.47" stroke="#000" stroke-width="1.0" />
<text x="72.10" y="709.77" font-size="15.28" text-anchor="end" fill="#000" >0</text>
<line x1="77.60" y1="678.46" x2="82.50" y2="678.46" stroke="#000" stroke-width="1.0" />
<line x1="77.60" y1="653.46" x2="82.50" y2="653.46" stroke="#000" stroke-width="1.0" />
<text x="72.10" y="659.76" font-size="15.28" text-anchor="end" fill="#000" >20</text>
<line x1="77.60" y1="628.45" x2="82.50" y2="628.45" stroke="#000" stroke-width="1.0" />
<line x1="77.60" y1="603.44" x2="82.50" y2="603.44" stroke="#000" stroke-width="1.0" />
<text x="72.10" y="609.74" font-size="15.28" text-anchor="end" fill="#000" >40</text>
<line x1="77.60" y1="578.44" x2="82.50" y2="578.44" stroke="#000" stroke-width="1.0" />
<line x1="77.60" y1="553.43" x2="82.50" y2="553.43" stroke="#000" stroke-width="1.0" />
<text x="72.10" y="559.73" font-size="15.28" text-anchor="end" fill="#000" >60</text>
<line x1="77.60" y1="528.42" x2="82.50" y2="528.42" stroke="#000" stroke-width="1.0" />
<line x1="77.60" y1="503.41" x2="82.50" y2="503.41" stroke="#000" stroke-width="1.0" />
<text x="72.10" y="509.71" font-size="15.28" text-anchor="end" fill="#000" >80</text>
<line x1="77.60" y1="478.41" x2="82.50" y2="478.41" stroke="#000" stroke-width="1.0" />
<line x1="77.60" y1="453.40" x2="82.50" y2="453.40" stroke="#000" stroke-width="1.0" />
<text x="72.10" y="459.70" font-size="15.28" text-anchor="end" fill="#000" >100</text>
<line x1="1088.50" y1="803.50" x2="1093.40" y2="803.50" stroke="#000" stroke-width="1.0" />
<text x="1097.10" y="809.80" font-size="15.28" text-anchor="start" fill="#000" >20</text>
<line x1="1088.50" y1="778.49" x2="1093.40" y2="778.49" stroke="#000" stroke-width="1.0" />
<line x1="1088.50" y1="753.49" x2="1093.40" y2="753.49" stroke="#000" stroke-width="1.0" />
<text x="1097.10" y="759.79" font-size="15.28" text-anchor="start" fill="#000" >40</text>
<line x1="1088.50" y1="728.48" x2="1093.40" y2="728.48" stroke="#000" stroke-width="1.0" />
<line x1="1088.50" y1="703.47" x2="1093.40" y2="703.47" stroke="#000" stroke-width="1.0" />
<text x="1097.10" y="709.77" font-size="15.28" text-anchor="start" fill="#000" >60</text>
<line x1="1088.50" y1="678.46" x2="1093.40" y2="678.46" stroke="#000" stroke-width="1.0" />
<line x1="1088.50" y1="653.46" x2="1093.40" y2="653.46" stroke="#000" stroke-width="1.0" />
<text x="1097.10" y="659.76" font-size="15.28" text-anchor="start" fill="#000" >80</text>
<line x1="1088.50" y1="628.45" x2="1093.40" y2="628.45" stroke="#000" stroke-width="1.0" />
<line x1="1088.50" y1="603.44" x2="1093.40" y2="603.44" stroke="#000" stroke-width="1.0" />
<text x="1097.10" y="609.74" font-size="15.28" text-anchor="start" fill="#000" >100</text>
<line x1="1088.50" y1="578.44" x2="1093.40" y2="578.44" stroke="#000" stroke-width="1.0" />
<line x1="1088.50" y1="553.43" x2="1093.40" y2="553.43" stroke="#000" stroke-width="1.0" />
<text x="1097.10" y="559.73" font-size="15.28" text-anchor="start" fill="#000" >120</text>
<line x1="1088.50" y1="528.42" x2="1093.40" y2="528.42" stroke="#000" stroke-width="1.0" />
<line x1="1088.50" y1="503.41" x2="1093.40" y2="503.41" stroke="#000" stroke-width="1.0" />
<text x="1097.10" y="509.71" font-size="15.28" text-anchor="start" fill="#000" >140</text>
<line x1="1088.50" y1="478.41" x2="1093.40" y2="478.41" stroke="#000" stroke-width="1.0" />
<line x1="1088.50" y1="453.40" x2="1093.40" y2="453.40" stroke="#000" stroke-width="1.0" />
<text x="1097.10" y="459.70" font-size="15.28" text-anchor="start" fill="#000" >160</text>
<line x1="287.25" y1="803.50" x2="287.25" y2="808.40" stroke="#000" stroke-width="1.0" />
<text x="287.25" y="825.50" font-size="15.28" text-anchor="middle" fill="#000" >08/05</text>
<line x1="543.00" y1="803.50" x2="543.00" y2="808.40" stroke="#000" stroke-width="1.0" />
<text x="543.00" y="825.50" font-size="15.28" text-anchor="middle" fill="#000" >08/06</text>
<line x1="798.75" y1="803.50" x2="798.75" y2="808.40" stroke="#000" stroke-width="1.0" />
<text x="798.75" y="825.50" font-size="15.28" text-anchor="middle" fill="#000" >08/07</text>
<line x1="1054.50" y1="803.50" x2="1054.50" y2="808.40" stroke="#000" stroke-width="1.0" />
<text x="1054.50" y="825.50" font-size="15.28" text-anchor="middle" fill="#000" >08/08</text>
<line x1="95.44" y1="803.50" x2="95.44" y2="806.40" stroke="#000" stroke-width="0.9" />
<line x1="159.38" y1="803.50" x2="159.38" y2="806.40" stroke="#000" stroke-width="0.9" />
<line x1="223.31" y1="803.50" x2="223.31" y2="806.40" stroke="#000" stroke-width="0.9" />
<line x1="351.19" y1="803.50" x2="351.19" y2="806.40" stroke="#000" stroke-width="0.9" />
<line x1="415.12" y1="803.50" x2="415.12" y2="806.40" stroke="#000" stroke-width="0.9" />
<line x1="479.06" y1="803.50" x2="479.06" y2="806.40" stroke="#000" stroke-width="0.9" />
<line x1="606.94" y1="803.50" x2="606.94" y2="806.40" stroke="#000" stroke-width="0.9" />
<line x1="670.88" y1="803.50" x2="670.88" y2="806.40" stroke="#000" stroke-width="0.9" />
<line x1="734.81" y1="803.50" x2="734.81" y2="806.40" stroke="#000" stroke-width="0.9" />
<line x1="862.69" y1="803.50" x2="862.69" y2="806.40" stroke="#000" stroke-width="0.9" />
<line x1="926.62" y1="803.50" x2="926.62" y2="806.40" stroke="#000" stroke-width="0.9" />
<line x1="990.56" y1="803.50" x2="990.56" y2="806.40" stroke="#000" stroke-width="0.9" />
<text x="585.00" y="845.80" font-size="15.28" text-anchor="middle" fill="#000" >2025</text>
<text transform="translate(34,630) rotate(-90)" font-size="15.55" text-anchor="middle">SHAP Value [kts]</text>
<text transform="translate(1143.5,630) rotate(-90)" font-size="15.97" text-anchor="middle">Working Best Track TC Intensity [kt]</text>
<text x="211.10" y="865.80" font-size="15.28" text-anchor="start" fill="#000" >SHAP values:</text>
<line x1="341.60" y1="860.00" x2="374.00" y2="860.00" stroke="#dc1e4e" stroke-width="2.6" />
<text x="386.30" y="865.80" font-size="15.28" text-anchor="start" fill="#000" >IR</text>
<line x1="430.50" y1="860.00" x2="462.30" y2="860.00" stroke="#48e8f0" stroke-width="2.6" />
<text x="473.60" y="865.80" font-size="15.28" text-anchor="start" fill="#000" >History</text>
<line x1="558.90" y1="860.00" x2="591.10" y2="860.00" stroke="#36b34a" stroke-width="2.6" />
<text x="601.90" y="865.80" font-size="15.28" text-anchor="start" fill="#000" >Position</text>
<line x1="691.30" y1="860.00" x2="723.10" y2="860.00" stroke="#ee35e0" stroke-width="2.6" />
<text x="735.00" y="865.80" font-size="15.28" text-anchor="start" fill="#000" >Environment</text>
<line x1="862.30" y1="860.00" x2="894.20" y2="860.00" stroke="#f5873a" stroke-width="2.6" />
<text x="905.50" y="865.80" font-size="15.28" text-anchor="start" fill="#000" >GFS Thermo</text>
<line x1="516.30" y1="882.30" x2="548.60" y2="882.30" stroke="#000" stroke-width="3.1" />
<text x="560.00" y="888.30" font-size="15.28" text-anchor="start" fill="#000" >TC Intensity</text>
<text x="334.00" y="919.30" font-size="13.2" text-anchor="middle" fill="#111" >Shap values for 2025_08E at 20250808 0310UTC</text>
<rect x="67.80" y="1101.10" width="400.20" height="103.83" fill="#f4f4f4" stroke="none" stroke-width="0.8" />
<rect x="67.80" y="1377.97" width="400.20" height="276.88" fill="#f4f4f4" stroke="none" stroke-width="0.8" />
<line x1="67.80" y1="945.35" x2="468.00" y2="945.35" stroke="#ddd" stroke-width="0.6" stroke-dasharray="0.8 1.6" stroke-opacity="0.7"/>
<line x1="67.80" y1="979.96" x2="468.00" y2="979.96" stroke="#ddd" stroke-width="0.6" stroke-dasharray="0.8 1.6" stroke-opacity="0.7"/>
<line x1="67.80" y1="962.66" x2="468.00" y2="962.66" stroke="#e6e6e6" stroke-width="0.9" />
<line x1="67.80" y1="1014.57" x2="468.00" y2="1014.57" stroke="#ddd" stroke-width="0.6" stroke-dasharray="0.8 1.6" stroke-opacity="0.7"/>
<line x1="67.80" y1="997.27" x2="468.00" y2="997.27" stroke="#e6e6e6" stroke-width="0.9" />
<line x1="67.80" y1="1049.18" x2="468.00" y2="1049.18" stroke="#ddd" stroke-width="0.6" stroke-dasharray="0.8 1.6" stroke-opacity="0.7"/>
<line x1="67.80" y1="1031.88" x2="468.00" y2="1031.88" stroke="#e6e6e6" stroke-width="0.9" />
<line x1="67.80" y1="1083.79" x2="468.00" y2="1083.79" stroke="#ddd" stroke-width="0.6" stroke-dasharray="0.8 1.6" stroke-opacity="0.7"/>
<line x1="67.80" y1="1066.49" x2="468.00" y2="1066.49" stroke="#e6e6e6" stroke-width="0.9" />
<line x1="67.80" y1="1118.40" x2="468.00" y2="1118.40" stroke="#ddd" stroke-width="0.6" stroke-dasharray="0.8 1.6" stroke-opacity="0.7"/>
<line x1="67.80" y1="1101.10" x2="468.00" y2="1101.10" stroke="#e6e6e6" stroke-width="0.9" />
<line x1="67.80" y1="1153.01" x2="468.00" y2="1153.01" stroke="#ddd" stroke-width="0.6" stroke-dasharray="0.8 1.6" stroke-opacity="0.7"/>
<line x1="67.80" y1="1135.71" x2="468.00" y2="1135.71" stroke="#e6e6e6" stroke-width="0.9" />
<line x1="67.80" y1="1187.62" x2="468.00" y2="1187.62" stroke="#ddd" stroke-width="0.6" stroke-dasharray="0.8 1.6" stroke-opacity="0.7"/>
<line x1="67.80" y1="1170.32" x2="468.00" y2="1170.32" stroke="#e6e6e6" stroke-width="0.9" />
<line x1="67.80" y1="1222.23" x2="468.00" y2="1222.23" stroke="#ddd" stroke-width="0.6" stroke-dasharray="0.8 1.6" stroke-opacity="0.7"/>
<line x1="67.80" y1="1204.92" x2="468.00" y2="1204.92" stroke="#e6e6e6" stroke-width="0.9" />
<line x1="67.80" y1="1256.84" x2="468.00" y2="1256.84" stroke="#ddd" stroke-width="0.6" stroke-dasharray="0.8 1.6" stroke-opacity="0.7"/>
<line x1="67.80" y1="1239.53" x2="468.00" y2="1239.53" stroke="#e6e6e6" stroke-width="0.9" />
<line x1="67.80" y1="1291.45" x2="468.00" y2="1291.45" stroke="#ddd" stroke-width="0.6" stroke-dasharray="0.8 1.6" stroke-opacity="0.7"/>
<line x1="67.80" y1="1274.14" x2="468.00" y2="1274.14" stroke="#e6e6e6" stroke-width="0.9" />
<line x1="67.80" y1="1326.06" x2="468.00" y2="1326.06" stroke="#ddd" stroke-width="0.6" stroke-dasharray="0.8 1.6" stroke-opacity="0.7"/>
<line x1="67.80" y1="1308.75" x2="468.00" y2="1308.75" stroke="#e6e6e6" stroke-width="0.9" />
<line x1="67.80" y1="1360.67" x2="468.00" y2="1360.67" stroke="#ddd" stroke-width="0.6" stroke-dasharray="0.8 1.6" stroke-opacity="0.7"/>
<line x1="67.80" y1="1343.36" x2="468.00" y2="1343.36" stroke="#e6e6e6" stroke-width="0.9" />
<line x1="67.80" y1="1395.28" x2="468.00" y2="1395.28" stroke="#ddd" stroke-width="0.6" stroke-dasharray="0.8 1.6" stroke-opacity="0.7"/>
<line x1="67.80" y1="1377.97" x2="468.00" y2="1377.97" stroke="#e6e6e6" stroke-width="0.9" />
<line x1="67.80" y1="1429.89" x2="468.00" y2="1429.89" stroke="#ddd" stroke-width="0.6" stroke-dasharray="0.8 1.6" stroke-opacity="0.7"/>
<line x1="67.80" y1="1412.58" x2="468.00" y2="1412.58" stroke="#e6e6e6" stroke-width="0.9" />
<line x1="67.80" y1="1464.50" x2="468.00" y2="1464.50" stroke="#ddd" stroke-width="0.6" stroke-dasharray="0.8 1.6" stroke-opacity="0.7"/>
<line x1="67.80" y1="1447.19" x2="468.00" y2="1447.19" stroke="#e6e6e6" stroke-width="0.9" />
<line x1="67.80" y1="1499.10" x2="468.00" y2="1499.10" stroke="#ddd" stroke-width="0.6" stroke-dasharray="0.8 1.6" stroke-opacity="0.7"/>
<line x1="67.80" y1="1481.80" x2="468.00" y2="1481.80" stroke="#e6e6e6" stroke-width="0.9" />
<line x1="67.80" y1="1533.71" x2="468.00" y2="1533.71" stroke="#ddd" stroke-width="0.6" stroke-dasharray="0.8 1.6" stroke-opacity="0.7"/>
<line x1="67.80" y1="1516.41" x2="468.00" y2="1516.41" stroke="#e6e6e6" stroke-width="0.9" />
<line x1="67.80" y1="1568.32" x2="468.00" y2="1568.32" stroke="#ddd" stroke-width="0.6" stroke-dasharray="0.8 1.6" stroke-opacity="0.7"/>
<line x1="67.80" y1="1551.02" x2="468.00" y2="1551.02" stroke="#e6e6e6" stroke-width="0.9" />
<line x1="67.80" y1="1602.93" x2="468.00" y2="1602.93" stroke="#ddd" stroke-width="0.6" stroke-dasharray="0.8 1.6" stroke-opacity="0.7"/>
<line x1="67.80" y1="1585.63" x2="468.00" y2="1585.63" stroke="#e6e6e6" stroke-width="0.9" />
<line x1="67.80" y1="1637.54" x2="468.00" y2="1637.54" stroke="#ddd" stroke-width="0.6" stroke-dasharray="0.8 1.6" stroke-opacity="0.7"/>
<line x1="67.80" y1="1620.24" x2="468.00" y2="1620.24" stroke="#e6e6e6" stroke-width="0.9" />
<line x1="67.80" y1="1672.15" x2="468.00" y2="1672.15" stroke="#ddd" stroke-width="0.6" stroke-dasharray="0.8 1.6" stroke-opacity="0.7"/>
<line x1="67.80" y1="1654.85" x2="468.00" y2="1654.85" stroke="#e6e6e6" stroke-width="0.9" />
<line x1="67.80" y1="1706.76" x2="468.00" y2="1706.76" stroke="#ddd" stroke-width="0.6" stroke-dasharray="0.8 1.6" stroke-opacity="0.7"/>
<line x1="67.80" y1="1689.46" x2="468.00" y2="1689.46" stroke="#e6e6e6" stroke-width="0.9" />
<line x1="67.80" y1="1741.37" x2="468.00" y2="1741.37" stroke="#ddd" stroke-width="0.6" stroke-dasharray="0.8 1.6" stroke-opacity="0.7"/>
<line x1="67.80" y1="1724.07" x2="468.00" y2="1724.07" stroke="#e6e6e6" stroke-width="0.9" />
<line x1="67.80" y1="1775.98" x2="468.00" y2="1775.98" stroke="#ddd" stroke-width="0.6" stroke-dasharray="0.8 1.6" stroke-opacity="0.7"/>
<line x1="67.80" y1="1758.67" x2="468.00" y2="1758.67" stroke="#e6e6e6" stroke-width="0.9" />
<line x1="67.80" y1="1810.59" x2="468.00" y2="1810.59" stroke="#ddd" stroke-width="0.6" stroke-dasharray="0.8 1.6" stroke-opacity="0.7"/>
<line x1="67.80" y1="1793.28" x2="468.00" y2="1793.28" stroke="#e6e6e6" stroke-width="0.9" />
<line x1="67.80" y1="1845.20" x2="468.00" y2="1845.20" stroke="#ddd" stroke-width="0.6" stroke-dasharray="0.8 1.6" stroke-opacity="0.7"/>
<line x1="67.80" y1="1827.89" x2="468.00" y2="1827.89" stroke="#e6e6e6" stroke-width="0.9" />
<line x1="67.80" y1="1879.81" x2="468.00" y2="1879.81" stroke="#ddd" stroke-width="0.6" stroke-dasharray="0.8 1.6" stroke-opacity="0.7"/>
<line x1="67.80" y1="1862.50" x2="468.00" y2="1862.50" stroke="#e6e6e6" stroke-width="0.9" />
<line x1="67.80" y1="1914.42" x2="468.00" y2="1914.42" stroke="#ddd" stroke-width="0.6" stroke-dasharray="0.8 1.6" stroke-opacity="0.7"/>
<line x1="67.80" y1="1897.11" x2="468.00" y2="1897.11" stroke="#e6e6e6" stroke-width="0.9" />
<line x1="67.80" y1="1949.03" x2="468.00" y2="1949.03" stroke="#ddd" stroke-width="0.6" stroke-dasharray="0.8 1.6" stroke-opacity="0.7"/>
<line x1="67.80" y1="1931.72" x2="468.00" y2="1931.72" stroke="#e6e6e6" stroke-width="0.9" />
<line x1="67.80" y1="1983.64" x2="468.00" y2="1983.64" stroke="#ddd" stroke-width="0.6" stroke-dasharray="0.8 1.6" stroke-opacity="0.7"/>
<line x1="67.80" y1="1966.33" x2="468.00" y2="1966.33" stroke="#e6e6e6" stroke-width="0.9" />
<line x1="67.80" y1="2018.25" x2="468.00" y2="2018.25" stroke="#ddd" stroke-width="0.6" stroke-dasharray="0.8 1.6" stroke-opacity="0.7"/>
<line x1="67.80" y1="2000.94" x2="468.00" y2="2000.94" stroke="#e6e6e6" stroke-width="0.9" />
<line x1="412.90" y1="928.05" x2="412.90" y2="2035.55" stroke="#999" stroke-width="1.3" />
<line x1="67.80" y1="1101.10" x2="468.00" y2="1101.10" stroke="#222" stroke-width="1.8" />
<line x1="67.80" y1="1204.92" x2="468.00" y2="1204.92" stroke="#222" stroke-width="1.8" />
<line x1="67.80" y1="1377.97" x2="468.00" y2="1377.97" stroke="#222" stroke-width="1.8" />
<line x1="67.80" y1="1654.85" x2="468.00" y2="1654.85" stroke="#222" stroke-width="1.8" />
<rect x="67.80" y="928.05" width="400.20" height="1107.50" fill="none" stroke="#777" stroke-width="1.1" />
<text x="464.30" y="945.65" font-size="9.0" text-anchor="end" fill="#222" stroke="#222" stroke-width="0.28">Satellite SHAP=-34.5kts</text>
<text x="464.30" y="1118.70" font-size="9.0" text-anchor="end" fill="#222" stroke="#222" stroke-width="0.28">History SHAP=1.0kts</text>
<text x="464.30" y="1222.52" font-size="9.0" text-anchor="end" fill="#222" stroke="#222" stroke-width="0.28">Location SHAP=1.8kts</text>
<text x="464.30" y="1395.57" font-size="9.0" text-anchor="end" fill="#222" stroke="#222" stroke-width="0.28">Environmental SHAP=-0.4kts</text>
<text x="464.30" y="1672.45" font-size="9.0" text-anchor="end" fill="#222" stroke="#222" stroke-width="0.28">TC Dynamics SHAP=-0.3kts</text>
<text x="62.20" y="948.95" font-size="8.1" text-anchor="end" fill="#222" stroke="#222" stroke-width="0.28">0h_old_IR</text>
<line x1="64.80" y1="945.35" x2="67.80" y2="945.35" stroke="#444" stroke-width="0.8" />
<line x1="468.00" y1="945.35" x2="471.00" y2="945.35" stroke="#444" stroke-width="0.8" />
<circle cx="253.6" cy="945.4" r="3.6" fill="#0b7bf0"/>
<text x="472.80" y="944.85" font-size="8.3" text-anchor="start" fill="#222" stroke="#222" stroke-width="0.28">0h old IR data</text>
<text x="472.80" y="953.75" font-size="8.3" text-anchor="start" fill="#222" stroke="#222" stroke-width="0.28">(128x128 grid points)</text>
<text x="62.20" y="983.56" font-size="8.1" text-anchor="end" fill="#222" stroke="#222" stroke-width="0.28">3h_old_IR</text>
<line x1="64.80" y1="979.96" x2="67.80" y2="979.96" stroke="#444" stroke-width="0.8" />
<line x1="468.00" y1="979.96" x2="471.00" y2="979.96" stroke="#444" stroke-width="0.8" />
<circle cx="418.4" cy="980.0" r="3.6" fill="#7153d9"/>
<text x="472.80" y="979.46" font-size="8.3" text-anchor="start" fill="#222" stroke="#222" stroke-width="0.28">3h old IR data</text>
<text x="472.80" y="988.36" font-size="8.3" text-anchor="start" fill="#222" stroke="#222" stroke-width="0.28">(128x128 grid points)</text>
<text x="62.20" y="1018.17" font-size="8.1" text-anchor="end" fill="#222" stroke="#222" stroke-width="0.28">6h_old_IR</text>
<line x1="64.80" y1="1014.57" x2="67.80" y2="1014.57" stroke="#444" stroke-width="0.8" />
<line x1="468.00" y1="1014.57" x2="471.00" y2="1014.57" stroke="#444" stroke-width="0.8" />
<circle cx="324.7" cy="1014.6" r="3.6" fill="#0b7ff2"/>
<text x="472.80" y="1014.07" font-size="8.3" text-anchor="start" fill="#222" stroke="#222" stroke-width="0.28">6h old IR data</text>
<text x="472.80" y="1022.97" font-size="8.3" text-anchor="start" fill="#222" stroke="#222" stroke-width="0.28">(128x128 grid points)</text>
<text x="62.20" y="1052.78" font-size="8.1" text-anchor="end" fill="#222" stroke="#222" stroke-width="0.28">9h_old_IR</text>
<line x1="64.80" y1="1049.18" x2="67.80" y2="1049.18" stroke="#444" stroke-width="0.8" />
<line x1="468.00" y1="1049.18" x2="471.00" y2="1049.18" stroke="#444" stroke-width="0.8" />
<circle cx="385.6" cy="1049.2" r="3.6" fill="#de0a8d"/>
<text x="472.80" y="1048.68" font-size="8.3" text-anchor="start" fill="#222" stroke="#222" stroke-width="0.28">9h old IR data</text>
<text x="472.80" y="1057.58" font-size="8.3" text-anchor="start" fill="#222" stroke="#222" stroke-width="0.28">(128x128 grid points)</text>
<text x="62.20" y="1087.39" font-size="8.1" text-anchor="end" fill="#222" stroke="#222" stroke-width="0.28">12h_old_IR</text>
<line x1="64.80" y1="1083.79" x2="67.80" y2="1083.79" stroke="#444" stroke-width="0.8" />
<line x1="468.00" y1="1083.79" x2="471.00" y2="1083.79" stroke="#444" stroke-width="0.8" />
<circle cx="85.6" cy="1083.8" r="3.6" fill="#0b7bf0"/>
<text x="472.80" y="1083.29" font-size="8.3" text-anchor="start" fill="#222" stroke="#222" stroke-width="0.28">12h old IR data</text>
<text x="472.80" y="1092.19" font-size="8.3" text-anchor="start" fill="#222" stroke="#222" stroke-width="0.28">(128x128 grid points)</text>
<text x="62.20" y="1122.00" font-size="8.1" text-anchor="end" fill="#222" stroke="#222" stroke-width="0.28">DELV</text>
<line x1="64.80" y1="1118.40" x2="67.80" y2="1118.40" stroke="#444" stroke-width="0.8" />
<line x1="468.00" y1="1118.40" x2="471.00" y2="1118.40" stroke="#444" stroke-width="0.8" />
<circle cx="415.2" cy="1118.4" r="3.6" fill="#0a8af5"/>
<text x="472.80" y="1122.10" font-size="8.3" text-anchor="start" fill="#222" stroke="#222" stroke-width="0.28">-12h to 0h Intensity change</text>
<text x="62.20" y="1156.61" font-size="8.1" text-anchor="end" fill="#222" stroke="#222" stroke-width="0.28">HIST</text>
<line x1="64.80" y1="1153.01" x2="67.80" y2="1153.01" stroke="#444" stroke-width="0.8" />
<line x1="468.00" y1="1153.01" x2="471.00" y2="1153.01" stroke="#444" stroke-width="0.8" />
<circle cx="427.9" cy="1153.0" r="3.6" fill="#e0107d"/>
<text x="472.80" y="1152.51" font-size="8.3" text-anchor="start" fill="#222" stroke="#222" stroke-width="0.28">The # of 6h periods VMAX</text>
<text x="472.80" y="1161.41" font-size="8.3" text-anchor="start" fill="#222" stroke="#222" stroke-width="0.28">has been above 20kt</text>
<text x="62.20" y="1191.22" font-size="8.1" text-anchor="end" fill="#222" stroke="#222" stroke-width="0.28">SPD</text>
<line x1="64.80" y1="1187.62" x2="67.80" y2="1187.62" stroke="#444" stroke-width="0.8" />
<line x1="468.00" y1="1187.62" x2="471.00" y2="1187.62" stroke="#444" stroke-width="0.8" />
<circle cx="413.2" cy="1187.6" r="3.6" fill="#0a8af5"/>
<text x="472.80" y="1191.32" font-size="8.3" text-anchor="start" fill="#222" stroke="#222" stroke-width="0.28">TC Translation Speed</text>
<text x="62.20" y="1225.83" font-size="8.1" text-anchor="end" fill="#222" stroke="#222" stroke-width="0.28">sin_lat</text>
<line x1="64.80" y1="1222.23" x2="67.80" y2="1222.23" stroke="#444" stroke-width="0.8" />
<line x1="468.00" y1="1222.23" x2="471.00" y2="1222.23" stroke="#444" stroke-width="0.8" />
<circle cx="417.8" cy="1222.2" r="3.6" fill="#0b7bf0"/>
<text x="472.80" y="1225.93" font-size="8.3" text-anchor="start" fill="#222" stroke="#222" stroke-width="0.28">Sine of Latitude</text>
<text x="62.20" y="1260.44" font-size="8.1" text-anchor="end" fill="#222" stroke="#222" stroke-width="0.28">cos_lon</text>
<line x1="64.80" y1="1256.84" x2="67.80" y2="1256.84" stroke="#444" stroke-width="0.8" />
<line x1="468.00" y1="1256.84" x2="471.00" y2="1256.84" stroke="#444" stroke-width="0.8" />
<circle cx="407.4" cy="1256.8" r="3.6" fill="#0b7bf0"/>
<text x="472.80" y="1260.54" font-size="8.3" text-anchor="start" fill="#222" stroke="#222" stroke-width="0.28">Cosine of Longitude</text>
<text x="62.20" y="1295.05" font-size="8.1" text-anchor="end" fill="#222" stroke="#222" stroke-width="0.28">sin_lon</text>
<line x1="64.80" y1="1291.45" x2="67.80" y2="1291.45" stroke="#444" stroke-width="0.8" />
<line x1="468.00" y1="1291.45" x2="471.00" y2="1291.45" stroke="#444" stroke-width="0.8" />
<circle cx="449.7" cy="1291.4" r="3.6" fill="#cf0a9b"/>
<text x="472.80" y="1295.15" font-size="8.3" text-anchor="start" fill="#222" stroke="#222" stroke-width="0.28">Sine of Longitude</text>
<text x="62.20" y="1329.66" font-size="8.1" text-anchor="end" fill="#222" stroke="#222" stroke-width="0.28">DTL</text>
<line x1="64.80" y1="1326.06" x2="67.80" y2="1326.06" stroke="#444" stroke-width="0.8" />
<line x1="468.00" y1="1326.06" x2="471.00" y2="1326.06" stroke="#444" stroke-width="0.8" />
<circle cx="408.3" cy="1326.1" r="3.6" fill="#c00aa5"/>
<text x="472.80" y="1329.76" font-size="8.3" text-anchor="start" fill="#222" stroke="#222" stroke-width="0.28">Distance to Land</text>
<text x="62.20" y="1364.27" font-size="8.1" text-anchor="end" fill="#222" stroke="#222" stroke-width="0.28">sin_local_time</text>
<line x1="64.80" y1="1360.67" x2="67.80" y2="1360.67" stroke="#444" stroke-width="0.8" />
<line x1="468.00" y1="1360.67" x2="471.00" y2="1360.67" stroke="#444" stroke-width="0.8" />
<circle cx="414.2" cy="1360.7" r="3.6" fill="#7157d8"/>
<text x="472.80" y="1360.17" font-size="8.3" text-anchor="start" fill="#222" stroke="#222" stroke-width="0.28">Sine of Time of Day</text>
<text x="472.80" y="1369.07" font-size="8.3" text-anchor="start" fill="#222" stroke="#222" stroke-width="0.28">(Local Solar Time)</text>
<text x="62.20" y="1398.88" font-size="8.1" text-anchor="end" fill="#222" stroke="#222" stroke-width="0.28">SHRD</text>
<line x1="64.80" y1="1395.28" x2="67.80" y2="1395.28" stroke="#444" stroke-width="0.8" />
<line x1="468.00" y1="1395.28" x2="471.00" y2="1395.28" stroke="#444" stroke-width="0.8" />
<circle cx="411.3" cy="1395.3" r="3.6" fill="#1a8cf5"/>
<text x="472.80" y="1398.98" font-size="8.3" text-anchor="start" fill="#222" stroke="#222" stroke-width="0.28">850-200hPa shear (200-800 km)</text>
<text x="62.20" y="1433.49" font-size="8.1" text-anchor="end" fill="#222" stroke="#222" stroke-width="0.28">SHDC</text>
<line x1="64.80" y1="1429.89" x2="67.80" y2="1429.89" stroke="#444" stroke-width="0.8" />
<line x1="468.00" y1="1429.89" x2="471.00" y2="1429.89" stroke="#444" stroke-width="0.8" />
<circle cx="411.3" cy="1429.9" r="3.6" fill="#de0a90"/>
<text x="472.80" y="1429.39" font-size="8.3" text-anchor="start" fill="#222" stroke="#222" stroke-width="0.28">850-200hPa shear with</text>
<text x="472.80" y="1438.29" font-size="8.3" text-anchor="start" fill="#222" stroke="#222" stroke-width="0.28">vortex removed (0-500 km)</text>
<text x="62.20" y="1468.10" font-size="8.1" text-anchor="end" fill="#222" stroke="#222" stroke-width="0.28">SHRS</text>
<line x1="64.80" y1="1464.50" x2="67.80" y2="1464.50" stroke="#444" stroke-width="0.8" />
<line x1="468.00" y1="1464.50" x2="471.00" y2="1464.50" stroke="#444" stroke-width="0.8" />
<circle cx="413.9" cy="1464.5" r="3.6" fill="#0a8af5"/>
<text x="472.80" y="1468.20" font-size="8.3" text-anchor="start" fill="#222" stroke="#222" stroke-width="0.28">850-500hPa shear (200-800 km)</text>
<text x="62.20" y="1502.70" font-size="8.1" text-anchor="end" fill="#222" stroke="#222" stroke-width="0.28">MPI</text>
<line x1="64.80" y1="1499.10" x2="67.80" y2="1499.10" stroke="#444" stroke-width="0.8" />
<line x1="468.00" y1="1499.10" x2="471.00" y2="1499.10" stroke="#444" stroke-width="0.8" />
<circle cx="413.2" cy="1499.1" r="3.6" fill="#8a44c9"/>
<text x="472.80" y="1502.80" font-size="8.3" text-anchor="start" fill="#222" stroke="#222" stroke-width="0.28">Maximum potential intensity</text>
<text x="62.20" y="1537.31" font-size="8.1" text-anchor="end" fill="#222" stroke="#222" stroke-width="0.28">RSST</text>
<line x1="64.80" y1="1533.71" x2="67.80" y2="1533.71" stroke="#444" stroke-width="0.8" />
<line x1="468.00" y1="1533.71" x2="471.00" y2="1533.71" stroke="#444" stroke-width="0.8" />
<circle cx="386.2" cy="1533.7" r="3.6" fill="#b90aa8"/>
<text x="472.80" y="1537.41" font-size="8.3" text-anchor="start" fill="#222" stroke="#222" stroke-width="0.28">Reynolds SST</text>
<text x="62.20" y="1571.92" font-size="8.1" text-anchor="end" fill="#222" stroke="#222" stroke-width="0.28">COHC</text>
<line x1="64.80" y1="1568.32" x2="67.80" y2="1568.32" stroke="#444" stroke-width="0.8" />
<line x1="468.00" y1="1568.32" x2="471.00" y2="1568.32" stroke="#444" stroke-width="0.8" />
<circle cx="444.5" cy="1568.3" r="3.6" fill="#0a8af5"/>
<text x="472.80" y="1572.02" font-size="8.3" text-anchor="start" fill="#222" stroke="#222" stroke-width="0.28">Climatological Ocean Heat Content</text>
<text x="62.20" y="1606.53" font-size="8.1" text-anchor="end" fill="#222" stroke="#222" stroke-width="0.28">CD26</text>
<line x1="64.80" y1="1602.93" x2="67.80" y2="1602.93" stroke="#444" stroke-width="0.8" />
<line x1="468.00" y1="1602.93" x2="471.00" y2="1602.93" stroke="#444" stroke-width="0.8" />
<circle cx="401.8" cy="1602.9" r="3.6" fill="#0b7bf0"/>
<text x="472.80" y="1602.43" font-size="8.3" text-anchor="start" fill="#222" stroke="#222" stroke-width="0.28">Climatological depth of</text>
<text x="472.80" y="1611.33" font-size="8.3" text-anchor="start" fill="#222" stroke="#222" stroke-width="0.28">26° C isotherm</text>
<text x="62.20" y="1641.14" font-size="8.1" text-anchor="end" fill="#222" stroke="#222" stroke-width="0.28">CD20</text>
<line x1="64.80" y1="1637.54" x2="67.80" y2="1637.54" stroke="#444" stroke-width="0.8" />
<line x1="468.00" y1="1637.54" x2="471.00" y2="1637.54" stroke="#444" stroke-width="0.8" />
<circle cx="416.8" cy="1637.5" r="3.6" fill="#0a84f3"/>
<text x="472.80" y="1637.04" font-size="8.3" text-anchor="start" fill="#222" stroke="#222" stroke-width="0.28">Climatological depth of</text>
<text x="472.80" y="1645.94" font-size="8.3" text-anchor="start" fill="#222" stroke="#222" stroke-width="0.28">20° C isotherm</text>
<text x="62.20" y="1675.75" font-size="8.1" text-anchor="end" fill="#222" stroke="#222" stroke-width="0.28">DIVC</text>
<line x1="64.80" y1="1672.15" x2="67.80" y2="1672.15" stroke="#444" stroke-width="0.8" />
<line x1="468.00" y1="1672.15" x2="471.00" y2="1672.15" stroke="#444" stroke-width="0.8" />
<circle cx="405.1" cy="1672.2" r="3.6" fill="#e8107a"/>
<text x="472.80" y="1671.65" font-size="8.3" text-anchor="start" fill="#222" stroke="#222" stroke-width="0.28">200hPa divergence centered at</text>
<text x="472.80" y="1680.55" font-size="8.3" text-anchor="start" fill="#222" stroke="#222" stroke-width="0.28">850hPa vortex location</text>
<text x="62.20" y="1710.36" font-size="8.1" text-anchor="end" fill="#222" stroke="#222" stroke-width="0.28">V300</text>
<line x1="64.80" y1="1706.76" x2="67.80" y2="1706.76" stroke="#444" stroke-width="0.8" />
<line x1="468.00" y1="1706.76" x2="471.00" y2="1706.76" stroke="#444" stroke-width="0.8" />
<circle cx="413.9" cy="1706.8" r="3.6" fill="#0b7bf0"/>
<text x="472.80" y="1706.26" font-size="8.3" text-anchor="start" fill="#222" stroke="#222" stroke-width="0.28">300hPa tangential wind azimuthally</text>
<text x="472.80" y="1715.16" font-size="8.3" text-anchor="start" fill="#222" stroke="#222" stroke-width="0.28">averaged at 500 km</text>
<text x="62.20" y="1744.97" font-size="8.1" text-anchor="end" fill="#222" stroke="#222" stroke-width="0.28">V500</text>
<line x1="64.80" y1="1741.37" x2="67.80" y2="1741.37" stroke="#444" stroke-width="0.8" />
<line x1="468.00" y1="1741.37" x2="471.00" y2="1741.37" stroke="#444" stroke-width="0.8" />
<circle cx="413.9" cy="1741.4" r="3.6" fill="#0b78ee"/>
<text x="472.80" y="1740.87" font-size="8.3" text-anchor="start" fill="#222" stroke="#222" stroke-width="0.28">500hPa tangential wind azimuthally</text>
<text x="472.80" y="1749.77" font-size="8.3" text-anchor="start" fill="#222" stroke="#222" stroke-width="0.28">averaged at 500 km</text>
<text x="62.20" y="1779.58" font-size="8.1" text-anchor="end" fill="#222" stroke="#222" stroke-width="0.28">V850</text>
<line x1="64.80" y1="1775.98" x2="67.80" y2="1775.98" stroke="#444" stroke-width="0.8" />
<line x1="468.00" y1="1775.98" x2="471.00" y2="1775.98" stroke="#444" stroke-width="0.8" />
<circle cx="408.3" cy="1776.0" r="3.6" fill="#a322b8"/>
<text x="472.80" y="1775.48" font-size="8.3" text-anchor="start" fill="#222" stroke="#222" stroke-width="0.28">850hPa tangential wind azimuthally</text>
<text x="472.80" y="1784.38" font-size="8.3" text-anchor="start" fill="#222" stroke="#222" stroke-width="0.28">averaged at 500 km</text>
<text x="62.20" y="1814.19" font-size="8.1" text-anchor="end" fill="#222" stroke="#222" stroke-width="0.28">Z850</text>
<line x1="64.80" y1="1810.59" x2="67.80" y2="1810.59" stroke="#444" stroke-width="0.8" />
<line x1="468.00" y1="1810.59" x2="471.00" y2="1810.59" stroke="#444" stroke-width="0.8" />
<circle cx="407.7" cy="1810.6" r="3.6" fill="#0a8af5"/>
<text x="472.80" y="1814.29" font-size="8.3" text-anchor="start" fill="#222" stroke="#222" stroke-width="0.28">850hPa vorticity (0-1000 km)</text>
<text x="62.20" y="1848.80" font-size="8.1" text-anchor="end" fill="#222" stroke="#222" stroke-width="0.28">U200</text>
<line x1="64.80" y1="1845.20" x2="67.80" y2="1845.20" stroke="#444" stroke-width="0.8" />
<line x1="468.00" y1="1845.20" x2="471.00" y2="1845.20" stroke="#444" stroke-width="0.8" />
<circle cx="412.2" cy="1845.2" r="3.6" fill="#0a8af5"/>
<text x="472.80" y="1848.90" font-size="8.3" text-anchor="start" fill="#222" stroke="#222" stroke-width="0.28">200hPa zonal wind (200-800 km)</text>
<text x="62.20" y="1883.41" font-size="8.1" text-anchor="end" fill="#222" stroke="#222" stroke-width="0.28">U20C</text>
<line x1="64.80" y1="1879.81" x2="67.80" y2="1879.81" stroke="#444" stroke-width="0.8" />
<line x1="468.00" y1="1879.81" x2="471.00" y2="1879.81" stroke="#444" stroke-width="0.8" />
<circle cx="415.8" cy="1879.8" r="3.6" fill="#0a8af5"/>
<text x="472.80" y="1883.51" font-size="8.3" text-anchor="start" fill="#222" stroke="#222" stroke-width="0.28">200hPa zonal wind (0-500 km)</text>
<text x="62.20" y="1918.02" font-size="8.1" text-anchor="end" fill="#222" stroke="#222" stroke-width="0.28">V20C</text>
<line x1="64.80" y1="1914.42" x2="67.80" y2="1914.42" stroke="#444" stroke-width="0.8" />
<line x1="468.00" y1="1914.42" x2="471.00" y2="1914.42" stroke="#444" stroke-width="0.8" />
<circle cx="414.2" cy="1914.4" r="3.6" fill="#a71fb6"/>
<text x="472.80" y="1918.12" font-size="8.3" text-anchor="start" fill="#222" stroke="#222" stroke-width="0.28">200hPa meridional wind (0-500 km)</text>
<text x="62.20" y="1952.63" font-size="8.1" text-anchor="end" fill="#222" stroke="#222" stroke-width="0.28">RHMD</text>
<line x1="64.80" y1="1949.03" x2="67.80" y2="1949.03" stroke="#444" stroke-width="0.8" />
<line x1="468.00" y1="1949.03" x2="471.00" y2="1949.03" stroke="#444" stroke-width="0.8" />
<circle cx="432.7" cy="1949.0" r="3.6" fill="#0a84f3"/>
<text x="472.80" y="1948.53" font-size="8.3" text-anchor="start" fill="#222" stroke="#222" stroke-width="0.28">700-500hPa relative humidity</text>
<text x="472.80" y="1957.43" font-size="8.3" text-anchor="start" fill="#222" stroke="#222" stroke-width="0.28">(200-800 km)</text>
<text x="62.20" y="1987.24" font-size="8.1" text-anchor="end" fill="#222" stroke="#222" stroke-width="0.28">EPSS</text>
<line x1="64.80" y1="1983.64" x2="67.80" y2="1983.64" stroke="#444" stroke-width="0.8" />
<line x1="468.00" y1="1983.64" x2="471.00" y2="1983.64" stroke="#444" stroke-width="0.8" />
<circle cx="417.8" cy="1983.6" r="3.6" fill="#0a8af5"/>
<text x="472.80" y="1983.04" font-size="8.3" text-anchor="start" fill="#222" stroke="#222" stroke-width="0.28">Avg. Δ <tspan font-style="italic">θ</tspan><tspan font-style="italic" font-size="6.4" dy="1.6">e</tspan><tspan dy="-1.6"> (only +) btwn parcel lifted from</tspan></text>
<text x="472.80" y="1993.44" font-size="8.3" text-anchor="start" fill="#222" stroke="#222" stroke-width="0.28">sfc. and saturated env. <tspan font-style="italic">θ</tspan><tspan font-style="italic" font-size="6.4" dy="1.6">e</tspan><tspan dy="-1.6"> (200-800 km)</tspan></text>
<text x="62.20" y="2021.85" font-size="8.1" text-anchor="end" fill="#222" stroke="#222" stroke-width="0.28">ENSS</text>
<line x1="64.80" y1="2018.25" x2="67.80" y2="2018.25" stroke="#444" stroke-width="0.8" />
<line x1="468.00" y1="2018.25" x2="471.00" y2="2018.25" stroke="#444" stroke-width="0.8" />
<circle cx="398.9" cy="2018.2" r="3.6" fill="#0a8af5"/>
<text x="472.80" y="2017.65" font-size="8.3" text-anchor="start" fill="#222" stroke="#222" stroke-width="0.28">Avg. Δ <tspan font-style="italic">θ</tspan><tspan font-style="italic" font-size="6.4" dy="1.6">e</tspan><tspan dy="-1.6"> (only -) btwn parcel lifted from</tspan></text>
<text x="472.80" y="2028.05" font-size="8.3" text-anchor="start" fill="#222" stroke="#222" stroke-width="0.28">sfc. and saturated env. <tspan font-style="italic">θ</tspan><tspan font-style="italic" font-size="6.4" dy="1.6">e</tspan><tspan dy="-1.6"> (200-800 km)</tspan></text>
<line x1="153.75" y1="2035.55" x2="153.75" y2="2038.55" stroke="#444" stroke-width="0.8" />
<text x="153.75" y="2046.55" font-size="8.0" text-anchor="middle" fill="#222" >−15</text>
<line x1="240.10" y1="2035.55" x2="240.10" y2="2038.55" stroke="#444" stroke-width="0.8" />
<text x="240.10" y="2046.55" font-size="8.0" text-anchor="middle" fill="#222" >−10</text>
<line x1="326.45" y1="2035.55" x2="326.45" y2="2038.55" stroke="#444" stroke-width="0.8" />
<text x="326.45" y="2046.55" font-size="8.0" text-anchor="middle" fill="#222" >−5</text>
<line x1="412.80" y1="2035.55" x2="412.80" y2="2038.55" stroke="#444" stroke-width="0.8" />
<text x="412.80" y="2046.55" font-size="8.0" text-anchor="middle" fill="#222" >0</text>
<text x="267.20" y="2059.20" font-size="11.0" text-anchor="middle" fill="#222" >SHAP Value [kts]</text>
<rect x="29.10" y="2083.50" width="588.10" height="24.70" fill="url(#rbgrad)" stroke="#333" stroke-width="0.7" />
<text x="617.20" y="2079.80" font-size="9.7" text-anchor="end" fill="#222" >Feature Value</text>
<text x="29.10" y="2119.60" font-size="8.3" text-anchor="middle" fill="#222" >Low</text>
<text x="616.80" y="2119.60" font-size="8.3" text-anchor="middle" fill="#222" >High</text>
<text x="29.10" y="2136.20" font-size="9.04" text-anchor="start" fill="#222" >SHAP Value: Amount each feature [listed on Y-axis] contributes to the predicted intensity above or below <tspan text-decoration="underline">60 kts</tspan></text>
<text x="29.10" y="2151.20" font-size="9.04" text-anchor="start" fill="#222" >Feature Value: The value of the feature [listed on Y-axis] for the given TC compared to the training dataset</text>
<text x="918.00" y="915.60" font-size="11.8" text-anchor="middle" fill="#111" >Comparison of IR SHAP Values for 2025_08E at 20250808 0310UTC</text>
<text x="818.20" y="934.10" font-size="11.0" text-anchor="middle" fill="#111" >0h old IR Data</text>
<use href="#scene0c" transform="translate(718.2,938.3)"/>
<rect x="718.20" y="938.30" width="200.00" height="199.90" fill="none" stroke="#555" stroke-width="0.9" />
<line x1="715.20" y1="944.40" x2="718.20" y2="944.40" stroke="#333" stroke-width="0.8" />
<text x="712.70" y="947.70" font-size="9.2" text-anchor="end" fill="#222" >22</text>
<line x1="715.20" y1="975.73" x2="718.20" y2="975.73" stroke="#333" stroke-width="0.8" />
<text x="712.70" y="979.03" font-size="9.2" text-anchor="end" fill="#222" >21</text>
<line x1="715.20" y1="1007.06" x2="718.20" y2="1007.06" stroke="#333" stroke-width="0.8" />
<text x="712.70" y="1010.36" font-size="9.2" text-anchor="end" fill="#222" >20</text>
<line x1="715.20" y1="1038.39" x2="718.20" y2="1038.39" stroke="#333" stroke-width="0.8" />
<text x="712.70" y="1041.69" font-size="9.2" text-anchor="end" fill="#222" >19</text>
<line x1="715.20" y1="1069.72" x2="718.20" y2="1069.72" stroke="#333" stroke-width="0.8" />
<text x="712.70" y="1073.02" font-size="9.2" text-anchor="end" fill="#222" >18</text>
<line x1="715.20" y1="1101.05" x2="718.20" y2="1101.05" stroke="#333" stroke-width="0.8" />
<text x="712.70" y="1104.35" font-size="9.2" text-anchor="end" fill="#222" >17</text>
<line x1="715.20" y1="1132.38" x2="718.20" y2="1132.38" stroke="#333" stroke-width="0.8" />
<text x="712.70" y="1135.68" font-size="9.2" text-anchor="end" fill="#222" >16</text>
<line x1="747.30" y1="1138.30" x2="747.30" y2="1141.30" stroke="#333" stroke-width="0.8" />
<text x="746.70" y="1150.10" font-size="9.4" text-anchor="middle" fill="#222" >−140</text>
<line x1="776.84" y1="1138.30" x2="776.84" y2="1141.30" stroke="#333" stroke-width="0.8" />
<text x="776.24" y="1150.10" font-size="9.4" text-anchor="middle" fill="#222" >−139</text>
<line x1="806.38" y1="1138.30" x2="806.38" y2="1141.30" stroke="#333" stroke-width="0.8" />
<text x="805.78" y="1150.10" font-size="9.4" text-anchor="middle" fill="#222" >−138</text>
<line x1="835.92" y1="1138.30" x2="835.92" y2="1141.30" stroke="#333" stroke-width="0.8" />
<text x="835.32" y="1150.10" font-size="9.4" text-anchor="middle" fill="#222" >−137</text>
<line x1="865.46" y1="1138.30" x2="865.46" y2="1141.30" stroke="#333" stroke-width="0.8" />
<text x="864.86" y="1150.10" font-size="9.4" text-anchor="middle" fill="#222" >−136</text>
<line x1="895.00" y1="1138.30" x2="895.00" y2="1141.30" stroke="#333" stroke-width="0.8" />
<text x="894.40" y="1150.10" font-size="9.4" text-anchor="middle" fill="#222" >−135</text>
<text x="1055.85" y="934.10" font-size="11.0" text-anchor="middle" fill="#111" >SHAP Value=-9.19 kts</text>
<g transform="translate(955.65,938.3)"><rect width="200" height="200" fill="#fff"/><g opacity="0.075"><rect width="200" height="200" filter="url(#sf0r)"/><rect width="200" height="200" filter="url(#sf0b)"/></g><g mask="url(#shmask)" opacity="0.7"><rect width="200" height="200" filter="url(#sg0r)"/><rect width="200" height="200" filter="url(#sg0b)"/></g></g>
<rect x="955.65" y="938.30" width="200.00" height="199.90" fill="none" stroke="#555" stroke-width="0.9" />
<line x1="952.65" y1="944.40" x2="955.65" y2="944.40" stroke="#333" stroke-width="0.8" />
<line x1="952.65" y1="975.73" x2="955.65" y2="975.73" stroke="#333" stroke-width="0.8" />
<line x1="952.65" y1="1007.06" x2="955.65" y2="1007.06" stroke="#333" stroke-width="0.8" />
<line x1="952.65" y1="1038.39" x2="955.65" y2="1038.39" stroke="#333" stroke-width="0.8" />
<line x1="952.65" y1="1069.72" x2="955.65" y2="1069.72" stroke="#333" stroke-width="0.8" />
<line x1="952.65" y1="1101.05" x2="955.65" y2="1101.05" stroke="#333" stroke-width="0.8" />
<line x1="952.65" y1="1132.38" x2="955.65" y2="1132.38" stroke="#333" stroke-width="0.8" />
<line x1="984.75" y1="1138.30" x2="984.75" y2="1141.30" stroke="#333" stroke-width="0.8" />
<line x1="1014.29" y1="1138.30" x2="1014.29" y2="1141.30" stroke="#333" stroke-width="0.8" />
<line x1="1043.83" y1="1138.30" x2="1043.83" y2="1141.30" stroke="#333" stroke-width="0.8" />
<line x1="1073.37" y1="1138.30" x2="1073.37" y2="1141.30" stroke="#333" stroke-width="0.8" />
<line x1="1102.91" y1="1138.30" x2="1102.91" y2="1141.30" stroke="#333" stroke-width="0.8" />
<line x1="1132.45" y1="1138.30" x2="1132.45" y2="1141.30" stroke="#333" stroke-width="0.8" />
<text x="818.20" y="1171.60" font-size="11.0" text-anchor="middle" fill="#111" >3h old IR Data</text>
<use href="#scene1c" transform="translate(718.2,1175.8)"/>
<rect x="718.20" y="1175.80" width="200.00" height="199.90" fill="none" stroke="#555" stroke-width="0.9" />
<line x1="715.20" y1="1181.50" x2="718.20" y2="1181.50" stroke="#333" stroke-width="0.8" />
<text x="712.70" y="1184.80" font-size="9.2" text-anchor="end" fill="#222" >22</text>
<line x1="715.20" y1="1212.87" x2="718.20" y2="1212.87" stroke="#333" stroke-width="0.8" />
<text x="712.70" y="1216.17" font-size="9.2" text-anchor="end" fill="#222" >21</text>
<line x1="715.20" y1="1244.24" x2="718.20" y2="1244.24" stroke="#333" stroke-width="0.8" />
<text x="712.70" y="1247.54" font-size="9.2" text-anchor="end" fill="#222" >20</text>
<line x1="715.20" y1="1275.61" x2="718.20" y2="1275.61" stroke="#333" stroke-width="0.8" />
<text x="712.70" y="1278.91" font-size="9.2" text-anchor="end" fill="#222" >19</text>
<line x1="715.20" y1="1306.98" x2="718.20" y2="1306.98" stroke="#333" stroke-width="0.8" />
<text x="712.70" y="1310.28" font-size="9.2" text-anchor="end" fill="#222" >18</text>
<line x1="715.20" y1="1338.35" x2="718.20" y2="1338.35" stroke="#333" stroke-width="0.8" />
<text x="712.70" y="1341.65" font-size="9.2" text-anchor="end" fill="#222" >17</text>
<line x1="715.20" y1="1369.72" x2="718.20" y2="1369.72" stroke="#333" stroke-width="0.8" />
<text x="712.70" y="1373.02" font-size="9.2" text-anchor="end" fill="#222" >16</text>
<line x1="747.30" y1="1375.80" x2="747.30" y2="1378.80" stroke="#333" stroke-width="0.8" />
<text x="746.70" y="1387.60" font-size="9.4" text-anchor="middle" fill="#222" >−140</text>
<line x1="776.84" y1="1375.80" x2="776.84" y2="1378.80" stroke="#333" stroke-width="0.8" />
<text x="776.24" y="1387.60" font-size="9.4" text-anchor="middle" fill="#222" >−139</text>
<line x1="806.38" y1="1375.80" x2="806.38" y2="1378.80" stroke="#333" stroke-width="0.8" />
<text x="805.78" y="1387.60" font-size="9.4" text-anchor="middle" fill="#222" >−138</text>
<line x1="835.92" y1="1375.80" x2="835.92" y2="1378.80" stroke="#333" stroke-width="0.8" />
<text x="835.32" y="1387.60" font-size="9.4" text-anchor="middle" fill="#222" >−137</text>
<line x1="865.46" y1="1375.80" x2="865.46" y2="1378.80" stroke="#333" stroke-width="0.8" />
<text x="864.86" y="1387.60" font-size="9.4" text-anchor="middle" fill="#222" >−136</text>
<line x1="895.00" y1="1375.80" x2="895.00" y2="1378.80" stroke="#333" stroke-width="0.8" />
<text x="894.40" y="1387.60" font-size="9.4" text-anchor="middle" fill="#222" >−135</text>
<text x="1055.85" y="1171.60" font-size="11.0" text-anchor="middle" fill="#111" >SHAP Value=0.29 kts</text>
<g transform="translate(955.65,1175.8)"><rect width="200" height="200" fill="#fff"/><g opacity="0.06"><rect width="200" height="200" filter="url(#sf1r)"/><rect width="200" height="200" filter="url(#sf1b)"/></g><g mask="url(#shmask)" opacity="0.55"><rect width="200" height="200" filter="url(#sg1r)"/><rect width="200" height="200" filter="url(#sg1b)"/></g></g>
<rect x="955.65" y="1175.80" width="200.00" height="199.90" fill="none" stroke="#555" stroke-width="0.9" />
<line x1="952.65" y1="1181.50" x2="955.65" y2="1181.50" stroke="#333" stroke-width="0.8" />
<line x1="952.65" y1="1212.87" x2="955.65" y2="1212.87" stroke="#333" stroke-width="0.8" />
<line x1="952.65" y1="1244.24" x2="955.65" y2="1244.24" stroke="#333" stroke-width="0.8" />
<line x1="952.65" y1="1275.61" x2="955.65" y2="1275.61" stroke="#333" stroke-width="0.8" />
<line x1="952.65" y1="1306.98" x2="955.65" y2="1306.98" stroke="#333" stroke-width="0.8" />
<line x1="952.65" y1="1338.35" x2="955.65" y2="1338.35" stroke="#333" stroke-width="0.8" />
<line x1="952.65" y1="1369.72" x2="955.65" y2="1369.72" stroke="#333" stroke-width="0.8" />
<line x1="984.75" y1="1375.80" x2="984.75" y2="1378.80" stroke="#333" stroke-width="0.8" />
<line x1="1014.29" y1="1375.80" x2="1014.29" y2="1378.80" stroke="#333" stroke-width="0.8" />
<line x1="1043.83" y1="1375.80" x2="1043.83" y2="1378.80" stroke="#333" stroke-width="0.8" />
<line x1="1073.37" y1="1375.80" x2="1073.37" y2="1378.80" stroke="#333" stroke-width="0.8" />
<line x1="1102.91" y1="1375.80" x2="1102.91" y2="1378.80" stroke="#333" stroke-width="0.8" />
<line x1="1132.45" y1="1375.80" x2="1132.45" y2="1378.80" stroke="#333" stroke-width="0.8" />
<text x="818.20" y="1409.10" font-size="11.0" text-anchor="middle" fill="#111" >6h old IR Data</text>
<use href="#scene2c" transform="translate(718.2,1413.3)"/>
<rect x="718.20" y="1413.30" width="200.00" height="199.90" fill="none" stroke="#555" stroke-width="0.9" />
<line x1="715.20" y1="1417.20" x2="718.20" y2="1417.20" stroke="#333" stroke-width="0.8" />
<text x="712.70" y="1420.50" font-size="9.2" text-anchor="end" fill="#222" >22</text>
<line x1="715.20" y1="1448.45" x2="718.20" y2="1448.45" stroke="#333" stroke-width="0.8" />
<text x="712.70" y="1451.75" font-size="9.2" text-anchor="end" fill="#222" >21</text>
<line x1="715.20" y1="1479.70" x2="718.20" y2="1479.70" stroke="#333" stroke-width="0.8" />
<text x="712.70" y="1483.00" font-size="9.2" text-anchor="end" fill="#222" >20</text>
<line x1="715.20" y1="1510.95" x2="718.20" y2="1510.95" stroke="#333" stroke-width="0.8" />
<text x="712.70" y="1514.25" font-size="9.2" text-anchor="end" fill="#222" >19</text>
<line x1="715.20" y1="1542.20" x2="718.20" y2="1542.20" stroke="#333" stroke-width="0.8" />
<text x="712.70" y="1545.50" font-size="9.2" text-anchor="end" fill="#222" >18</text>
<line x1="715.20" y1="1573.45" x2="718.20" y2="1573.45" stroke="#333" stroke-width="0.8" />
<text x="712.70" y="1576.75" font-size="9.2" text-anchor="end" fill="#222" >17</text>
<line x1="715.20" y1="1604.70" x2="718.20" y2="1604.70" stroke="#333" stroke-width="0.8" />
<text x="712.70" y="1608.00" font-size="9.2" text-anchor="end" fill="#222" >16</text>
<line x1="725.10" y1="1613.30" x2="725.10" y2="1616.30" stroke="#333" stroke-width="0.8" />
<text x="724.50" y="1625.10" font-size="9.4" text-anchor="middle" fill="#222" >−140</text>
<line x1="754.79" y1="1613.30" x2="754.79" y2="1616.30" stroke="#333" stroke-width="0.8" />
<text x="754.19" y="1625.10" font-size="9.4" text-anchor="middle" fill="#222" >−139</text>
<line x1="784.48" y1="1613.30" x2="784.48" y2="1616.30" stroke="#333" stroke-width="0.8" />
<text x="783.88" y="1625.10" font-size="9.4" text-anchor="middle" fill="#222" >−138</text>
<line x1="814.17" y1="1613.30" x2="814.17" y2="1616.30" stroke="#333" stroke-width="0.8" />
<text x="813.57" y="1625.10" font-size="9.4" text-anchor="middle" fill="#222" >−137</text>
<line x1="843.86" y1="1613.30" x2="843.86" y2="1616.30" stroke="#333" stroke-width="0.8" />
<text x="843.26" y="1625.10" font-size="9.4" text-anchor="middle" fill="#222" >−136</text>
<line x1="873.55" y1="1613.30" x2="873.55" y2="1616.30" stroke="#333" stroke-width="0.8" />
<text x="872.95" y="1625.10" font-size="9.4" text-anchor="middle" fill="#222" >−135</text>
<line x1="903.24" y1="1613.30" x2="903.24" y2="1616.30" stroke="#333" stroke-width="0.8" />
<text x="902.64" y="1625.10" font-size="9.4" text-anchor="middle" fill="#222" >−134</text>
<text x="1055.85" y="1409.10" font-size="11.0" text-anchor="middle" fill="#111" >SHAP Value=-5.10 kts</text>
<g transform="translate(955.65,1413.3)"><rect width="200" height="200" fill="#fff"/><g opacity="0.065"><rect width="200" height="200" filter="url(#sf2r)"/><rect width="200" height="200" filter="url(#sf2b)"/></g><g mask="url(#shmask)" opacity="0.58"><rect width="200" height="200" filter="url(#sg2r)"/><rect width="200" height="200" filter="url(#sg2b)"/></g></g>
<rect x="955.65" y="1413.30" width="200.00" height="199.90" fill="none" stroke="#555" stroke-width="0.9" />
<line x1="952.65" y1="1417.20" x2="955.65" y2="1417.20" stroke="#333" stroke-width="0.8" />
<line x1="952.65" y1="1448.45" x2="955.65" y2="1448.45" stroke="#333" stroke-width="0.8" />
<line x1="952.65" y1="1479.70" x2="955.65" y2="1479.70" stroke="#333" stroke-width="0.8" />
<line x1="952.65" y1="1510.95" x2="955.65" y2="1510.95" stroke="#333" stroke-width="0.8" />
<line x1="952.65" y1="1542.20" x2="955.65" y2="1542.20" stroke="#333" stroke-width="0.8" />
<line x1="952.65" y1="1573.45" x2="955.65" y2="1573.45" stroke="#333" stroke-width="0.8" />
<line x1="952.65" y1="1604.70" x2="955.65" y2="1604.70" stroke="#333" stroke-width="0.8" />
<line x1="962.55" y1="1613.30" x2="962.55" y2="1616.30" stroke="#333" stroke-width="0.8" />
<line x1="992.24" y1="1613.30" x2="992.24" y2="1616.30" stroke="#333" stroke-width="0.8" />
<line x1="1021.93" y1="1613.30" x2="1021.93" y2="1616.30" stroke="#333" stroke-width="0.8" />
<line x1="1051.62" y1="1613.30" x2="1051.62" y2="1616.30" stroke="#333" stroke-width="0.8" />
<line x1="1081.31" y1="1613.30" x2="1081.31" y2="1616.30" stroke="#333" stroke-width="0.8" />
<line x1="1111.00" y1="1613.30" x2="1111.00" y2="1616.30" stroke="#333" stroke-width="0.8" />
<line x1="1140.69" y1="1613.30" x2="1140.69" y2="1616.30" stroke="#333" stroke-width="0.8" />
<text x="818.20" y="1646.40" font-size="11.0" text-anchor="middle" fill="#111" >9h old IR Data</text>
<use href="#scene3c" transform="translate(718.2,1650.6)"/>
<rect x="718.20" y="1650.60" width="200.00" height="199.90" fill="none" stroke="#555" stroke-width="0.9" />
<line x1="715.20" y1="1681.70" x2="718.20" y2="1681.70" stroke="#333" stroke-width="0.8" />
<text x="712.70" y="1685.00" font-size="9.2" text-anchor="end" fill="#222" >21</text>
<line x1="715.20" y1="1713.10" x2="718.20" y2="1713.10" stroke="#333" stroke-width="0.8" />
<text x="712.70" y="1716.40" font-size="9.2" text-anchor="end" fill="#222" >20</text>
<line x1="715.20" y1="1744.50" x2="718.20" y2="1744.50" stroke="#333" stroke-width="0.8" />
<text x="712.70" y="1747.80" font-size="9.2" text-anchor="end" fill="#222" >19</text>
<line x1="715.20" y1="1775.90" x2="718.20" y2="1775.90" stroke="#333" stroke-width="0.8" />
<text x="712.70" y="1779.20" font-size="9.2" text-anchor="end" fill="#222" >18</text>
<line x1="715.20" y1="1807.30" x2="718.20" y2="1807.30" stroke="#333" stroke-width="0.8" />
<text x="712.70" y="1810.60" font-size="9.2" text-anchor="end" fill="#222" >17</text>
<line x1="715.20" y1="1838.70" x2="718.20" y2="1838.70" stroke="#333" stroke-width="0.8" />
<text x="712.70" y="1842.00" font-size="9.2" text-anchor="end" fill="#222" >16</text>
<line x1="730.80" y1="1850.60" x2="730.80" y2="1853.60" stroke="#333" stroke-width="0.8" />
<text x="730.20" y="1862.40" font-size="9.4" text-anchor="middle" fill="#222" >−139</text>
<line x1="760.53" y1="1850.60" x2="760.53" y2="1853.60" stroke="#333" stroke-width="0.8" />
<text x="759.93" y="1862.40" font-size="9.4" text-anchor="middle" fill="#222" >−138</text>
<line x1="790.26" y1="1850.60" x2="790.26" y2="1853.60" stroke="#333" stroke-width="0.8" />
<text x="789.66" y="1862.40" font-size="9.4" text-anchor="middle" fill="#222" >−137</text>
<line x1="819.99" y1="1850.60" x2="819.99" y2="1853.60" stroke="#333" stroke-width="0.8" />
<text x="819.39" y="1862.40" font-size="9.4" text-anchor="middle" fill="#222" >−136</text>
<line x1="849.72" y1="1850.60" x2="849.72" y2="1853.60" stroke="#333" stroke-width="0.8" />
<text x="849.12" y="1862.40" font-size="9.4" text-anchor="middle" fill="#222" >−135</text>
<line x1="879.45" y1="1850.60" x2="879.45" y2="1853.60" stroke="#333" stroke-width="0.8" />
<text x="878.85" y="1862.40" font-size="9.4" text-anchor="middle" fill="#222" >−134</text>
<line x1="909.18" y1="1850.60" x2="909.18" y2="1853.60" stroke="#333" stroke-width="0.8" />
<text x="908.58" y="1862.40" font-size="9.4" text-anchor="middle" fill="#222" >−133</text>
<text x="1055.85" y="1646.40" font-size="11.0" text-anchor="middle" fill="#111" >SHAP Value=-1.59 kts</text>
<g transform="translate(955.65,1650.6)"><rect width="200" height="200" fill="#fff"/><g opacity="0.065"><rect width="200" height="200" filter="url(#sf3r)"/><rect width="200" height="200" filter="url(#sf3b)"/></g><g mask="url(#shmask)" opacity="0.48"><rect width="200" height="200" filter="url(#sg3r)"/><rect width="200" height="200" filter="url(#sg3b)"/></g></g>
<rect x="955.65" y="1650.60" width="200.00" height="199.90" fill="none" stroke="#555" stroke-width="0.9" />
<line x1="952.65" y1="1681.70" x2="955.65" y2="1681.70" stroke="#333" stroke-width="0.8" />
<line x1="952.65" y1="1713.10" x2="955.65" y2="1713.10" stroke="#333" stroke-width="0.8" />
<line x1="952.65" y1="1744.50" x2="955.65" y2="1744.50" stroke="#333" stroke-width="0.8" />
<line x1="952.65" y1="1775.90" x2="955.65" y2="1775.90" stroke="#333" stroke-width="0.8" />
<line x1="952.65" y1="1807.30" x2="955.65" y2="1807.30" stroke="#333" stroke-width="0.8" />
<line x1="952.65" y1="1838.70" x2="955.65" y2="1838.70" stroke="#333" stroke-width="0.8" />
<line x1="968.25" y1="1850.60" x2="968.25" y2="1853.60" stroke="#333" stroke-width="0.8" />
<line x1="997.98" y1="1850.60" x2="997.98" y2="1853.60" stroke="#333" stroke-width="0.8" />
<line x1="1027.71" y1="1850.60" x2="1027.71" y2="1853.60" stroke="#333" stroke-width="0.8" />
<line x1="1057.44" y1="1850.60" x2="1057.44" y2="1853.60" stroke="#333" stroke-width="0.8" />
<line x1="1087.17" y1="1850.60" x2="1087.17" y2="1853.60" stroke="#333" stroke-width="0.8" />
<line x1="1116.90" y1="1850.60" x2="1116.90" y2="1853.60" stroke="#333" stroke-width="0.8" />
<line x1="1146.63" y1="1850.60" x2="1146.63" y2="1853.60" stroke="#333" stroke-width="0.8" />
<text x="818.20" y="1883.90" font-size="11.0" text-anchor="middle" fill="#111" >12h old IR Data</text>
<use href="#scene4c" transform="translate(718.2,1888.1)"/>
<rect x="718.20" y="1888.10" width="200.00" height="199.90" fill="none" stroke="#555" stroke-width="0.9" />
<line x1="715.20" y1="1914.10" x2="718.20" y2="1914.10" stroke="#333" stroke-width="0.8" />
<text x="712.70" y="1917.40" font-size="9.2" text-anchor="end" fill="#222" >21</text>
<line x1="715.20" y1="1945.50" x2="718.20" y2="1945.50" stroke="#333" stroke-width="0.8" />
<text x="712.70" y="1948.80" font-size="9.2" text-anchor="end" fill="#222" >20</text>
<line x1="715.20" y1="1976.90" x2="718.20" y2="1976.90" stroke="#333" stroke-width="0.8" />
<text x="712.70" y="1980.20" font-size="9.2" text-anchor="end" fill="#222" >19</text>
<line x1="715.20" y1="2008.30" x2="718.20" y2="2008.30" stroke="#333" stroke-width="0.8" />
<text x="712.70" y="2011.60" font-size="9.2" text-anchor="end" fill="#222" >18</text>
<line x1="715.20" y1="2039.70" x2="718.20" y2="2039.70" stroke="#333" stroke-width="0.8" />
<text x="712.70" y="2043.00" font-size="9.2" text-anchor="end" fill="#222" >17</text>
<line x1="715.20" y1="2071.10" x2="718.20" y2="2071.10" stroke="#333" stroke-width="0.8" />
<text x="712.70" y="2074.40" font-size="9.2" text-anchor="end" fill="#222" >16</text>
<line x1="739.45" y1="2088.10" x2="739.45" y2="2091.10" stroke="#333" stroke-width="0.8" />
<text x="738.85" y="2099.90" font-size="9.4" text-anchor="middle" fill="#222" >−138</text>
<line x1="769.18" y1="2088.10" x2="769.18" y2="2091.10" stroke="#333" stroke-width="0.8" />
<text x="768.58" y="2099.90" font-size="9.4" text-anchor="middle" fill="#222" >−137</text>
<line x1="798.91" y1="2088.10" x2="798.91" y2="2091.10" stroke="#333" stroke-width="0.8" />
<text x="798.31" y="2099.90" font-size="9.4" text-anchor="middle" fill="#222" >−136</text>
<line x1="828.64" y1="2088.10" x2="828.64" y2="2091.10" stroke="#333" stroke-width="0.8" />
<text x="828.04" y="2099.90" font-size="9.4" text-anchor="middle" fill="#222" >−135</text>
<line x1="858.37" y1="2088.10" x2="858.37" y2="2091.10" stroke="#333" stroke-width="0.8" />
<text x="857.77" y="2099.90" font-size="9.4" text-anchor="middle" fill="#222" >−134</text>
<line x1="888.10" y1="2088.10" x2="888.10" y2="2091.10" stroke="#333" stroke-width="0.8" />
<text x="887.50" y="2099.90" font-size="9.4" text-anchor="middle" fill="#222" >−133</text>
<line x1="917.83" y1="2088.10" x2="917.83" y2="2091.10" stroke="#333" stroke-width="0.8" />
<text x="917.23" y="2099.90" font-size="9.4" text-anchor="middle" fill="#222" >−132</text>
<text x="1055.85" y="1883.90" font-size="11.0" text-anchor="middle" fill="#111" >SHAP Value=-18.89 kts</text>
<g transform="translate(955.65,1888.1)"><rect width="200" height="200" fill="#fff"/><g opacity="0.23"><rect width="200" height="200" filter="url(#sf4r)"/><rect width="200" height="200" filter="url(#sf4b)"/></g><g mask="url(#shmask)" opacity="0.7"><rect width="200" height="200" filter="url(#sg4r)"/><rect width="200" height="200" filter="url(#sg4b)"/></g><g filter="url(#blurS)"><ellipse cx="100.8" cy="83.4" rx="2.8" ry="4.7" fill="#0a0ad0" transform="rotate(0 100.8 83.4)"/><ellipse cx="118.3" cy="98.1" rx="4.2" ry="2.8" fill="#0a0ad0" transform="rotate(30 118.3 98.1)"/><ellipse cx="91.4" cy="113.6" rx="3.5" ry="3.5" fill="#000078" transform="rotate(0 91.4 113.6)"/><ellipse cx="77.2" cy="123.9" rx="2.6" ry="8.0" fill="#1010e0" transform="rotate(15 77.2 123.9)"/><ellipse cx="106.4" cy="107.0" rx="2.4" ry="5.9" fill="#2a2ae8" transform="rotate(0 106.4 107.0)"/><ellipse cx="109.2" cy="127.7" rx="3.5" ry="2.8" fill="#1010e0" transform="rotate(0 109.2 127.7)"/><ellipse cx="124.3" cy="129.6" rx="2.6" ry="5.9" fill="#1010e0" transform="rotate(-30 124.3 129.6)"/><ellipse cx="71.6" cy="107.6" rx="9.4" ry="2.1" fill="#1a1ae4" transform="rotate(5 71.6 107.6)"/><ellipse cx="57.4" cy="111.7" rx="5.9" ry="2.6" fill="#3a3aec" transform="rotate(-30 57.4 111.7)"/><ellipse cx="63.1" cy="124.9" rx="2.4" ry="4.7" fill="#3a3aec" transform="rotate(20 63.1 124.9)"/><ellipse cx="52.7" cy="92.5" rx="3.5" ry="1.9" fill="#3a3aec" transform="rotate(0 52.7 92.5)"/><ellipse cx="82.9" cy="66.5" rx="5.2" ry="2.4" fill="#5a5af0" transform="rotate(20 82.9 66.5)"/><ellipse cx="137.5" cy="123.9" rx="2.4" ry="4.2" fill="#5a5af0" transform="rotate(-20 137.5 123.9)"/><ellipse cx="120.6" cy="91.9" rx="5.2" ry="2.8" fill="#f01010" transform="rotate(35 120.6 91.9)"/><ellipse cx="100.2" cy="116.4" rx="2.8" ry="5.2" fill="#f01010" transform="rotate(-20 100.2 116.4)"/><ellipse cx="83.4" cy="113.6" rx="2.8" ry="4.2" fill="#f03030" transform="rotate(0 83.4 113.6)"/><ellipse cx="83.4" cy="123.9" rx="2.4" ry="4.2" fill="#f02020" transform="rotate(10 83.4 123.9)"/><ellipse cx="132.8" cy="129.0" rx="2.8" ry="4.7" fill="#e81010" transform="rotate(-30 132.8 129.0)"/><ellipse cx="118.3" cy="126.8" rx="2.4" ry="5.2" fill="#f03030" transform="rotate(-25 118.3 126.8)"/><ellipse cx="111.1" cy="100.4" rx="2.4" ry="4.7" fill="#f04040" transform="rotate(-20 111.1 100.4)"/><ellipse cx="105.5" cy="86.3" rx="1.9" ry="2.8" fill="#f05050" transform="rotate(0 105.5 86.3)"/><ellipse cx="112.1" cy="82.5" rx="1.9" ry="3.3" fill="#f05050" transform="rotate(-20 112.1 82.5)"/><ellipse cx="124.3" cy="81.6" rx="1.9" ry="3.3" fill="#f06060" transform="rotate(20 124.3 81.6)"/><ellipse cx="67.8" cy="112.6" rx="8.2" ry="1.9" fill="#f06060" transform="rotate(-15 67.8 112.6)"/><ellipse cx="58.4" cy="124.9" rx="1.9" ry="4.7" fill="#f06060" transform="rotate(30 58.4 124.9)"/><ellipse cx="49.9" cy="98.5" rx="3.3" ry="4.2" fill="#f07070" transform="rotate(0 49.9 98.5)"/><ellipse cx="89.5" cy="53.9" rx="2.8" ry="1.9" fill="#f07070" transform="rotate(0 89.5 53.9)"/><ellipse cx="97.9" cy="155.0" rx="3.3" ry="2.8" fill="#f59090" transform="rotate(0 97.9 155.0)"/><ellipse cx="24.5" cy="122.1" rx="3.5" ry="3.3" fill="#f59090" transform="rotate(0 24.5 122.1)"/><ellipse cx="32.0" cy="133.4" rx="4.7" ry="2.1" fill="#f59090" transform="rotate(0 32.0 133.4)"/></g></g>
<rect x="955.65" y="1888.10" width="200.00" height="199.90" fill="none" stroke="#555" stroke-width="0.9" />
<line x1="952.65" y1="1914.10" x2="955.65" y2="1914.10" stroke="#333" stroke-width="0.8" />
<line x1="952.65" y1="1945.50" x2="955.65" y2="1945.50" stroke="#333" stroke-width="0.8" />
<line x1="952.65" y1="1976.90" x2="955.65" y2="1976.90" stroke="#333" stroke-width="0.8" />
<line x1="952.65" y1="2008.30" x2="955.65" y2="2008.30" stroke="#333" stroke-width="0.8" />
<line x1="952.65" y1="2039.70" x2="955.65" y2="2039.70" stroke="#333" stroke-width="0.8" />
<line x1="952.65" y1="2071.10" x2="955.65" y2="2071.10" stroke="#333" stroke-width="0.8" />
<line x1="976.90" y1="2088.10" x2="976.90" y2="2091.10" stroke="#333" stroke-width="0.8" />
<line x1="1006.63" y1="2088.10" x2="1006.63" y2="2091.10" stroke="#333" stroke-width="0.8" />
<line x1="1036.36" y1="2088.10" x2="1036.36" y2="2091.10" stroke="#333" stroke-width="0.8" />
<line x1="1066.09" y1="2088.10" x2="1066.09" y2="2091.10" stroke="#333" stroke-width="0.8" />
<line x1="1095.82" y1="2088.10" x2="1095.82" y2="2091.10" stroke="#333" stroke-width="0.8" />
<line x1="1125.55" y1="2088.10" x2="1125.55" y2="2091.10" stroke="#333" stroke-width="0.8" />
<line x1="1155.28" y1="2088.10" x2="1155.28" y2="2091.10" stroke="#333" stroke-width="0.8" />
<text x="817.80" y="2121.80" font-size="9.72" text-anchor="middle" fill="#111" >Brightness Temperature [K]</text>
<rect x="718.20" y="2125.80" width="200.00" height="11.90" fill="url(#btgrad)" stroke="#333" stroke-width="0.7" />
<line x1="718.20" y1="2137.70" x2="718.20" y2="2139.70" stroke="#333" stroke-width="0.6" />
<text x="718.20" y="2148.70" font-size="6.9" text-anchor="middle" fill="#222" >180</text>
<line x1="748.95" y1="2137.70" x2="748.95" y2="2139.70" stroke="#333" stroke-width="0.6" />
<text x="748.95" y="2148.70" font-size="6.9" text-anchor="middle" fill="#222" >200</text>
<line x1="779.70" y1="2137.70" x2="779.70" y2="2139.70" stroke="#333" stroke-width="0.6" />
<text x="779.70" y="2148.70" font-size="6.9" text-anchor="middle" fill="#222" >220</text>
<line x1="810.45" y1="2137.70" x2="810.45" y2="2139.70" stroke="#333" stroke-width="0.6" />
<text x="810.45" y="2148.70" font-size="6.9" text-anchor="middle" fill="#222" >240</text>
<line x1="841.20" y1="2137.70" x2="841.20" y2="2139.70" stroke="#333" stroke-width="0.6" />
<text x="841.20" y="2148.70" font-size="6.9" text-anchor="middle" fill="#222" >260</text>
<line x1="871.95" y1="2137.70" x2="871.95" y2="2139.70" stroke="#333" stroke-width="0.6" />
<text x="871.95" y="2148.70" font-size="6.9" text-anchor="middle" fill="#222" >280</text>
<line x1="902.70" y1="2137.70" x2="902.70" y2="2139.70" stroke="#333" stroke-width="0.6" />
<text x="902.70" y="2148.70" font-size="6.9" text-anchor="middle" fill="#222" >300</text>
<text x="1055.60" y="2121.80" font-size="9.72" text-anchor="middle" fill="#111" >SHAP Values</text>
<rect x="955.65" y="2125.80" width="200.00" height="11.90" fill="url(#segrad)" stroke="#333" stroke-width="0.7" />
<line x1="964.40" y1="2137.70" x2="964.40" y2="2140.70" stroke="#333" stroke-width="0.8" />
<text x="964.00" y="2150.70" font-size="9.9" text-anchor="middle" fill="#222" >−0.10</text>
<line x1="1010.12" y1="2137.70" x2="1010.12" y2="2140.70" stroke="#333" stroke-width="0.8" />
<text x="1009.72" y="2150.70" font-size="9.9" text-anchor="middle" fill="#222" >−0.05</text>
<line x1="1055.84" y1="2137.70" x2="1055.84" y2="2140.70" stroke="#333" stroke-width="0.8" />
<text x="1055.44" y="2150.70" font-size="9.9" text-anchor="middle" fill="#222" >0.00</text>
<line x1="1101.56" y1="2137.70" x2="1101.56" y2="2140.70" stroke="#333" stroke-width="0.8" />
<text x="1101.16" y="2150.70" font-size="9.9" text-anchor="middle" fill="#222" >0.05</text>
<line x1="1147.28" y1="2137.70" x2="1147.28" y2="2140.70" stroke="#333" stroke-width="0.8" />
<text x="1146.88" y="2150.70" font-size="9.9" text-anchor="middle" fill="#222" >0.10</text>
</svg></body></html>
